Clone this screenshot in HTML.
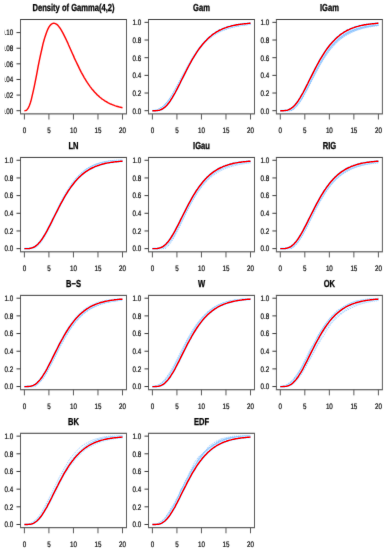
<!DOCTYPE html>
<html><head><meta charset="utf-8"><style>
html,body{margin:0;padding:0;background:#fff;}
body{width:388px;height:550px;overflow:hidden;}
svg{display:block;}
text{font-family:"Liberation Sans",sans-serif;fill:#000;stroke:#000;stroke-width:0.22px;text-rendering:geometricPrecision;}
text[font-weight]{fill:#000;stroke:#000;stroke-width:0.3px;}
</style></head><body>
<svg width="388" height="550" viewBox="0 0 388 550">
<defs><filter id="bl" x="0" y="0" width="388" height="550" filterUnits="userSpaceOnUse"><feConvolveMatrix order="3" kernelMatrix="0.02 0.08 0.02 0.08 0.6 0.08 0.02 0.08 0.02" edgeMode="none"/></filter><filter id="bt" x="0" y="0" width="388" height="550" filterUnits="userSpaceOnUse"><feConvolveMatrix order="3" kernelMatrix="0.01 0.06 0.01 0.06 0.72 0.06 0.01 0.06 0.01" edgeMode="none"/></filter></defs>
<rect width="388" height="550" fill="#fff"/>
<g filter="url(#bt)">
<path d="M24.4,110.7 25.4,110.6 26.4,110.3 27.3,109.4 28.3,107.9 29.3,105.8 30.3,103.0 31.3,99.6 32.2,95.7 33.2,91.4 34.2,86.8 35.2,81.9 36.2,76.8 37.2,71.7 38.1,66.7 39.1,61.7 40.1,56.9 41.1,52.3 42.1,48.0 43.0,43.9 44.0,40.2 45.0,36.9 46.0,33.9 47.0,31.3 47.9,29.1 48.9,27.2 49.9,25.7 50.9,24.6 51.9,23.8 52.8,23.4 53.8,23.2 54.8,23.4 55.8,23.8 56.8,24.4 57.8,25.3 58.7,26.4 59.7,27.7 60.7,29.2 61.7,30.8 62.7,32.6 63.6,34.4 64.6,36.4 65.6,38.4 66.6,40.5 67.6,42.6 68.5,44.8 69.5,47.0 70.5,49.2 71.5,51.5 72.5,53.7 73.5,55.9 74.4,58.1 75.4,60.2 76.4,62.3 77.4,64.4 78.4,66.4 79.3,68.4 80.3,70.4 81.3,72.3 82.3,74.1 83.3,75.9 84.2,77.6 85.2,79.2 86.2,80.8 87.2,82.4 88.2,83.8 89.1,85.2 90.1,86.6 91.1,87.9 92.1,89.2 93.1,90.3 94.1,91.5 95.0,92.6 96.0,93.6 97.0,94.6 98.0,95.5 99.0,96.4 99.9,97.2 100.9,98.0 101.9,98.8 102.9,99.5 103.9,100.2 104.8,100.8 105.8,101.5 106.8,102.0 107.8,102.6 108.8,103.1 109.7,103.6 110.7,104.0 111.7,104.4 112.7,104.8 113.7,105.2 114.7,105.6 115.6,105.9 116.6,106.2 117.6,106.5 118.6,106.8 119.6,107.1 120.5,107.3 121.5,107.5 122.5,107.7" fill="none" stroke="#ff0000" stroke-width="1.45"/>
<path d="M152.4,110.7 153.4,110.7 154.4,110.5 155.3,110.4 156.3,110.1 157.3,109.8 158.3,109.5 159.3,109.0 160.2,108.5 161.2,107.9 162.2,107.3 163.2,106.5 164.2,105.6 165.2,104.7 166.1,103.6 167.1,102.5 168.1,101.2 169.1,99.9 170.1,98.5 171.0,97.0 172.0,95.4 173.0,93.8 174.0,92.1 175.0,90.4 175.9,88.6 176.9,86.8 177.9,85.0 178.9,83.1 179.9,81.2 180.8,79.3 181.8,77.5 182.8,75.6 183.8,73.7 184.8,71.9 185.8,70.0 186.7,68.2 187.7,66.4 188.7,64.7 189.7,63.0 190.7,61.3 191.6,59.6 192.6,58.0 193.6,56.5 194.6,55.0 195.6,53.5 196.5,52.1 197.5,50.7 198.5,49.4 199.5,48.1 200.5,46.9 201.5,45.7 202.4,44.6 203.4,43.5 204.4,42.4 205.4,41.4 206.4,40.5 207.3,39.6 208.3,38.7 209.3,37.8 210.3,37.0 211.3,36.3 212.2,35.6 213.2,34.9 214.2,34.2 215.2,33.6 216.2,33.0 217.1,32.5 218.1,31.9 219.1,31.4 220.1,30.9 221.1,30.5 222.1,30.1 223.0,29.7 224.0,29.3 225.0,28.9 226.0,28.6 227.0,28.2 227.9,27.9 228.9,27.6 229.9,27.4 230.9,27.1 231.9,26.9 232.8,26.6 233.8,26.4 234.8,26.2 235.8,26.0 236.8,25.8 237.7,25.7 238.7,25.5 239.7,25.3 240.7,25.2 241.7,25.1 242.7,24.9 243.6,24.8 244.6,24.7 245.6,24.6 246.6,24.5 247.6,24.4 248.5,24.3 249.5,24.2 250.5,24.1" fill="none" stroke="#88c2ff" stroke-width="0.9" stroke-dasharray="1.2,0.9"/>
<path d="M152.4,110.7 153.4,110.7 154.4,110.5 155.3,110.4 156.3,110.1 157.3,109.8 158.3,109.5 159.3,109.1 160.2,108.6 161.2,108.0 162.2,107.3 163.2,106.5 164.2,105.7 165.2,104.7 166.1,103.6 167.1,102.5 168.1,101.3 169.1,99.9 170.1,98.5 171.0,97.0 172.0,95.5 173.0,93.9 174.0,92.2 175.0,90.4 175.9,88.7 176.9,86.8 177.9,85.0 178.9,83.1 179.9,81.3 180.8,79.4 181.8,77.5 182.8,75.6 183.8,73.7 184.8,71.9 185.8,70.0 186.7,68.2 187.7,66.4 188.7,64.7 189.7,62.9 190.7,61.3 191.6,59.6 192.6,58.0 193.6,56.4 194.6,54.9 195.6,53.5 196.5,52.0 197.5,50.7 198.5,49.3 199.5,48.0 200.5,46.8 201.5,45.6 202.4,44.5 203.4,43.4 204.4,42.3 205.4,41.3 206.4,40.4 207.3,39.4 208.3,38.6 209.3,37.7 210.3,36.9 211.3,36.2 212.2,35.4 213.2,34.8 214.2,34.1 215.2,33.5 216.2,32.9 217.1,32.3 218.1,31.8 219.1,31.3 220.1,30.8 221.1,30.4 222.1,29.9 223.0,29.5 224.0,29.1 225.0,28.8 226.0,28.4 227.0,28.1 227.9,27.8 228.9,27.5 229.9,27.2 230.9,27.0 231.9,26.7 232.8,26.5 233.8,26.3 234.8,26.1 235.8,25.9 236.8,25.7 237.7,25.5 238.7,25.4 239.7,25.2 240.7,25.1 241.7,24.9 242.7,24.8 243.6,24.7 244.6,24.6 245.6,24.5 246.6,24.4 247.6,24.3 248.5,24.2 249.5,24.1 250.5,24.0" fill="none" stroke="#88c2ff" stroke-width="0.9" stroke-dasharray="1.2,0.9"/>
<path d="M152.4,110.7 153.4,110.7 154.4,110.6 155.3,110.4 156.3,110.2 157.3,110.0 158.3,109.6 159.3,109.2 160.2,108.8 161.2,108.2 162.2,107.6 163.2,106.9 164.2,106.1 165.2,105.1 166.1,104.1 167.1,103.0 168.1,101.8 169.1,100.5 170.1,99.1 171.0,97.7 172.0,96.1 173.0,94.5 174.0,92.9 175.0,91.1 175.9,89.4 176.9,87.6 177.9,85.7 178.9,83.9 179.9,82.0 180.8,80.1 181.8,78.2 182.8,76.4 183.8,74.5 184.8,72.6 185.8,70.8 186.7,68.9 187.7,67.2 188.7,65.4 189.7,63.7 190.7,62.0 191.6,60.3 192.6,58.7 193.6,57.1 194.6,55.6 195.6,54.1 196.5,52.7 197.5,51.3 198.5,49.9 199.5,48.6 200.5,47.4 201.5,46.2 202.4,45.0 203.4,43.9 204.4,42.9 205.4,41.8 206.4,40.9 207.3,39.9 208.3,39.0 209.3,38.2 210.3,37.4 211.3,36.6 212.2,35.8 213.2,35.1 214.2,34.5 215.2,33.8 216.2,33.2 217.1,32.7 218.1,32.1 219.1,31.6 220.1,31.1 221.1,30.6 222.1,30.2 223.0,29.8 224.0,29.4 225.0,29.0 226.0,28.7 227.0,28.3 227.9,28.0 228.9,27.7 229.9,27.4 230.9,27.2 231.9,26.9 232.8,26.7 233.8,26.4 234.8,26.2 235.8,26.0 236.8,25.8 237.7,25.7 238.7,25.5 239.7,25.3 240.7,25.2 241.7,25.0 242.7,24.9 243.6,24.8 244.6,24.7 245.6,24.5 246.6,24.4 247.6,24.3 248.5,24.2 249.5,24.2 250.5,24.1" fill="none" stroke="#88c2ff" stroke-width="0.9" stroke-dasharray="1.2,0.9"/>
<path d="M152.4,110.7 153.4,110.7 154.4,110.5 155.3,110.3 156.3,110.1 157.3,109.8 158.3,109.4 159.3,109.0 160.2,108.5 161.2,107.8 162.2,107.2 163.2,106.4 164.2,105.5 165.2,104.5 166.1,103.4 167.1,102.3 168.1,101.0 169.1,99.7 170.1,98.3 171.0,96.8 172.0,95.2 173.0,93.6 174.0,91.9 175.0,90.1 175.9,88.3 176.9,86.5 177.9,84.6 178.9,82.8 179.9,80.9 180.8,79.0 181.8,77.1 182.8,75.2 183.8,73.3 184.8,71.4 185.8,69.6 186.7,67.8 187.7,66.0 188.7,64.2 189.7,62.5 190.7,60.8 191.6,59.1 192.6,57.5 193.6,56.0 194.6,54.4 195.6,53.0 196.5,51.5 197.5,50.1 198.5,48.8 199.5,47.5 200.5,46.3 201.5,45.1 202.4,44.0 203.4,42.9 204.4,41.8 205.4,40.8 206.4,39.8 207.3,38.9 208.3,38.0 209.3,37.2 210.3,36.4 211.3,35.6 212.2,34.9 213.2,34.2 214.2,33.6 215.2,32.9 216.2,32.4 217.1,31.8 218.1,31.3 219.1,30.8 220.1,30.3 221.1,29.8 222.1,29.4 223.0,29.0 224.0,28.6 225.0,28.3 226.0,27.9 227.0,27.6 227.9,27.3 228.9,27.0 229.9,26.8 230.9,26.5 231.9,26.3 232.8,26.1 233.8,25.9 234.8,25.7 235.8,25.5 236.8,25.3 237.7,25.1 238.7,25.0 239.7,24.8 240.7,24.7 241.7,24.6 242.7,24.4 243.6,24.3 244.6,24.2 245.6,24.1 246.6,24.0 247.6,23.9 248.5,23.9 249.5,23.8 250.5,23.7" fill="none" stroke="#88c2ff" stroke-width="0.9" stroke-dasharray="1.2,0.9"/>
<path d="M152.4,110.7 153.4,110.7 154.4,110.6 155.3,110.4 156.3,110.2 157.3,109.9 158.3,109.6 159.3,109.1 160.2,108.7 161.2,108.1 162.2,107.5 163.2,106.7 164.2,105.9 165.2,105.0 166.1,104.0 167.1,102.9 168.1,101.7 169.1,100.4 170.1,99.0 171.0,97.6 172.0,96.1 173.0,94.5 174.0,92.8 175.0,91.1 175.9,89.4 176.9,87.6 177.9,85.8 178.9,84.0 179.9,82.1 180.8,80.3 181.8,78.4 182.8,76.6 183.8,74.7 184.8,72.9 185.8,71.0 186.7,69.2 187.7,67.5 188.7,65.7 189.7,64.0 190.7,62.3 191.6,60.7 192.6,59.1 193.6,57.5 194.6,56.0 195.6,54.6 196.5,53.1 197.5,51.7 198.5,50.4 199.5,49.1 200.5,47.9 201.5,46.7 202.4,45.5 203.4,44.4 204.4,43.4 205.4,42.4 206.4,41.4 207.3,40.5 208.3,39.6 209.3,38.7 210.3,37.9 211.3,37.1 212.2,36.4 213.2,35.7 214.2,35.0 215.2,34.4 216.2,33.7 217.1,33.2 218.1,32.6 219.1,32.1 220.1,31.6 221.1,31.1 222.1,30.7 223.0,30.3 224.0,29.9 225.0,29.5 226.0,29.1 227.0,28.8 227.9,28.5 228.9,28.2 229.9,27.9 230.9,27.6 231.9,27.3 232.8,27.1 233.8,26.9 234.8,26.6 235.8,26.4 236.8,26.2 237.7,26.0 238.7,25.9 239.7,25.7 240.7,25.5 241.7,25.4 242.7,25.2 243.6,25.1 244.6,25.0 245.6,24.9 246.6,24.8 247.6,24.6 248.5,24.5 249.5,24.4 250.5,24.4" fill="none" stroke="#88c2ff" stroke-width="0.9" stroke-dasharray="1.2,0.9"/>
<path d="M152.4,110.7 153.4,110.6 154.4,110.5 155.3,110.3 156.3,110.0 157.3,109.6 158.3,109.2 159.3,108.7 160.2,108.2 161.2,107.6 162.2,106.9 163.2,106.1 164.2,105.2 165.2,104.3 166.1,103.3 167.1,102.1 168.1,100.9 169.1,99.7 170.1,98.3 171.0,96.9 172.0,95.4 173.0,93.8 174.0,92.2 175.0,90.6 175.9,88.9 176.9,87.1 177.9,85.4 178.9,83.6 179.9,81.8 180.8,79.9 181.8,78.1 182.8,76.3 183.8,74.5 184.8,72.7 185.8,70.9 186.7,69.1 187.7,67.4 188.7,65.7 189.7,64.0 190.7,62.3 191.6,60.7 192.6,59.2 193.6,57.6 194.6,56.1 195.6,54.7 196.5,53.3 197.5,51.9 198.5,50.6 199.5,49.3 200.5,48.1 201.5,46.9 202.4,45.8 203.4,44.7 204.4,43.6 205.4,42.6 206.4,41.6 207.3,40.7 208.3,39.8 209.3,38.9 210.3,38.1 211.3,37.4 212.2,36.6 213.2,35.9 214.2,35.2 215.2,34.6 216.2,34.0 217.1,33.4 218.1,32.8 219.1,32.3 220.1,31.8 221.1,31.3 222.1,30.9 223.0,30.5 224.0,30.0 225.0,29.7 226.0,29.3 227.0,28.9 227.9,28.6 228.9,28.3 229.9,28.0 230.9,27.7 231.9,27.5 232.8,27.2 233.8,27.0 234.8,26.8 235.8,26.5 236.8,26.3 237.7,26.1 238.7,26.0 239.7,25.8 240.7,25.6 241.7,25.5 242.7,25.3 243.6,25.2 244.6,25.1 245.6,24.9 246.6,24.8 247.6,24.7 248.5,24.6 249.5,24.5 250.5,24.4" fill="none" stroke="#88c2ff" stroke-width="0.9" stroke-dasharray="1.2,0.9"/>
<path d="M152.4,110.7 153.4,110.6 154.4,110.5 155.3,110.3 156.3,110.0 157.3,109.7 158.3,109.2 159.3,108.8 160.2,108.2 161.2,107.5 162.2,106.8 163.2,106.0 164.2,105.1 165.2,104.1 166.1,103.0 167.1,101.8 168.1,100.5 169.1,99.1 170.1,97.7 171.0,96.2 172.0,94.6 173.0,93.0 174.0,91.2 175.0,89.5 175.9,87.7 176.9,85.9 177.9,84.0 178.9,82.1 179.9,80.3 180.8,78.4 181.8,76.5 182.8,74.6 183.8,72.7 184.8,70.8 185.8,69.0 186.7,67.2 187.7,65.4 188.7,63.6 189.7,61.9 190.7,60.2 191.6,58.6 192.6,57.0 193.6,55.4 194.6,53.9 195.6,52.4 196.5,51.0 197.5,49.7 198.5,48.3 199.5,47.1 200.5,45.8 201.5,44.6 202.4,43.5 203.4,42.4 204.4,41.4 205.4,40.4 206.4,39.4 207.3,38.5 208.3,37.6 209.3,36.8 210.3,36.0 211.3,35.3 212.2,34.6 213.2,33.9 214.2,33.2 215.2,32.6 216.2,32.0 217.1,31.5 218.1,31.0 219.1,30.5 220.1,30.0 221.1,29.6 222.1,29.2 223.0,28.8 224.0,28.4 225.0,28.0 226.0,27.7 227.0,27.4 227.9,27.1 228.9,26.8 229.9,26.6 230.9,26.3 231.9,26.1 232.8,25.9 233.8,25.7 234.8,25.5 235.8,25.3 236.8,25.1 237.7,25.0 238.7,24.8 239.7,24.7 240.7,24.5 241.7,24.4 242.7,24.3 243.6,24.2 244.6,24.1 245.6,24.0 246.6,23.9 247.6,23.8 248.5,23.7 249.5,23.7 250.5,23.6" fill="none" stroke="#88c2ff" stroke-width="0.9" stroke-dasharray="1.2,0.9"/>
<path d="M152.4,110.7 153.4,110.7 154.4,110.5 155.3,110.3 156.3,110.1 157.3,109.7 158.3,109.4 159.3,108.9 160.2,108.4 161.2,107.8 162.2,107.1 163.2,106.4 164.2,105.5 165.2,104.6 166.1,103.5 167.1,102.4 168.1,101.2 169.1,99.9 170.1,98.5 171.0,97.1 172.0,95.6 173.0,94.0 174.0,92.4 175.0,90.7 175.9,88.9 176.9,87.2 177.9,85.4 178.9,83.5 179.9,81.7 180.8,79.9 181.8,78.0 182.8,76.2 183.8,74.3 184.8,72.5 185.8,70.7 186.7,68.9 187.7,67.2 188.7,65.4 189.7,63.7 190.7,62.1 191.6,60.4 192.6,58.8 193.6,57.3 194.6,55.8 195.6,54.3 196.5,52.9 197.5,51.6 198.5,50.2 199.5,49.0 200.5,47.7 201.5,46.5 202.4,45.4 203.4,44.3 204.4,43.3 205.4,42.2 206.4,41.3 207.3,40.4 208.3,39.5 209.3,38.6 210.3,37.8 211.3,37.0 212.2,36.3 213.2,35.6 214.2,34.9 215.2,34.3 216.2,33.7 217.1,33.1 218.1,32.6 219.1,32.1 220.1,31.6 221.1,31.1 222.1,30.7 223.0,30.2 224.0,29.8 225.0,29.5 226.0,29.1 227.0,28.8 227.9,28.4 228.9,28.1 229.9,27.8 230.9,27.6 231.9,27.3 232.8,27.1 233.8,26.8 234.8,26.6 235.8,26.4 236.8,26.2 237.7,26.0 238.7,25.9 239.7,25.7 240.7,25.5 241.7,25.4 242.7,25.2 243.6,25.1 244.6,25.0 245.6,24.9 246.6,24.7 247.6,24.6 248.5,24.5 249.5,24.4 250.5,24.3" fill="none" stroke="#88c2ff" stroke-width="0.9" stroke-dasharray="1.2,0.9"/>
<path d="M152.4,110.7 153.4,110.7 154.4,110.7 155.3,110.7 156.3,110.6 157.3,110.5 158.3,110.4 159.3,110.2 160.2,109.9 161.2,109.5 162.2,109.0 163.2,108.4 164.2,107.7 165.2,106.9 166.1,106.0 167.1,104.9 168.1,103.7 169.1,102.5 170.1,101.1 171.0,99.6 172.0,98.1 173.0,96.4 174.0,94.7 175.0,93.0 175.9,91.2 176.9,89.3 177.9,87.4 178.9,85.4 179.9,83.5 180.8,81.5 181.8,79.5 182.8,77.6 183.8,75.6 184.8,73.6 185.8,71.7 186.7,69.8 187.7,67.9 188.7,66.0 189.7,64.2 190.7,62.4 191.6,60.6 192.6,58.9 193.6,57.3 194.6,55.7 195.6,54.1 196.5,52.6 197.5,51.1 198.5,49.7 199.5,48.3 200.5,47.0 201.5,45.8 202.4,44.5 203.4,43.4 204.4,42.3 205.4,41.2 206.4,40.2 207.3,39.2 208.3,38.3 209.3,37.4 210.3,36.5 211.3,35.7 212.2,34.9 213.2,34.2 214.2,33.5 215.2,32.9 216.2,32.2 217.1,31.6 218.1,31.1 219.1,30.5 220.1,30.0 221.1,29.6 222.1,29.1 223.0,28.7 224.0,28.3 225.0,27.9 226.0,27.6 227.0,27.2 227.9,26.9 228.9,26.6 229.9,26.4 230.9,26.1 231.9,25.8 232.8,25.6 233.8,25.4 234.8,25.2 235.8,25.0 236.8,24.8 237.7,24.7 238.7,24.5 239.7,24.4 240.7,24.2 241.7,24.1 242.7,24.0 243.6,23.9 244.6,23.8 245.6,23.7 246.6,23.6 247.6,23.5 248.5,23.4 249.5,23.3 250.5,23.3" fill="none" stroke="#c4e2ff" stroke-width="2.6"/>
<path d="M280.3,110.7 281.3,110.7 282.3,110.7 283.2,110.7 284.2,110.7 285.2,110.7 286.2,110.7 287.2,110.7 288.1,110.7 289.1,110.7 290.1,110.7 291.1,110.7 292.1,110.3 293.1,109.8 294.0,109.1 295.0,108.2 296.0,107.3 297.0,106.2 298.0,105.0 298.9,103.7 299.9,102.4 300.9,100.9 301.9,99.3 302.9,97.7 303.8,96.0 304.8,94.2 305.8,92.4 306.8,90.6 307.8,88.7 308.7,86.8 309.7,84.9 310.7,82.9 311.7,81.0 312.7,79.1 313.7,77.2 314.6,75.3 315.6,73.4 316.6,71.5 317.6,69.7 318.6,67.9 319.5,66.1 320.5,64.4 321.5,62.7 322.5,61.1 323.5,59.5 324.4,58.0 325.4,56.5 326.4,55.0 327.4,53.6 328.4,52.2 329.3,50.9 330.3,49.7 331.3,48.4 332.3,47.3 333.3,46.1 334.3,45.0 335.2,44.0 336.2,43.0 337.2,42.0 338.2,41.1 339.2,40.3 340.1,39.4 341.1,38.6 342.1,37.8 343.1,37.1 344.1,36.4 345.0,35.7 346.0,35.1 347.0,34.5 348.0,33.9 349.0,33.4 350.0,32.9 350.9,32.4 351.9,31.9 352.9,31.4 353.9,31.0 354.9,30.6 355.8,30.2 356.8,29.9 357.8,29.5 358.8,29.2 359.8,28.9 360.7,28.6 361.7,28.3 362.7,28.0 363.7,27.7 364.7,27.5 365.6,27.3 366.6,27.0 367.6,26.8 368.6,26.6 369.6,26.4 370.6,26.3 371.5,26.1 372.5,25.9 373.5,25.8 374.5,25.6 375.5,25.5 376.4,25.3 377.4,25.2 378.4,25.1" fill="none" stroke="#88c2ff" stroke-width="0.9" stroke-dasharray="1.2,0.9"/>
<path d="M280.3,110.7 281.3,110.7 282.3,110.7 283.2,110.7 284.2,110.7 285.2,110.7 286.2,110.7 287.2,110.7 288.1,110.7 289.1,110.5 290.1,110.1 291.1,109.6 292.1,109.0 293.1,108.3 294.0,107.4 295.0,106.5 296.0,105.4 297.0,104.2 298.0,102.8 298.9,101.4 299.9,99.9 300.9,98.3 301.9,96.6 302.9,94.9 303.8,93.1 304.8,91.2 305.8,89.3 306.8,87.4 307.8,85.5 308.7,83.5 309.7,81.5 310.7,79.6 311.7,77.6 312.7,75.6 313.7,73.7 314.6,71.8 315.6,69.9 316.6,68.0 317.6,66.2 318.6,64.4 319.5,62.7 320.5,61.0 321.5,59.4 322.5,57.7 323.5,56.2 324.4,54.7 325.4,53.2 326.4,51.8 327.4,50.4 328.4,49.1 329.3,47.9 330.3,46.7 331.3,45.5 332.3,44.4 333.3,43.3 334.3,42.3 335.2,41.3 336.2,40.4 337.2,39.5 338.2,38.6 339.2,37.8 340.1,37.0 341.1,36.3 342.1,35.6 343.1,34.9 344.1,34.3 345.0,33.7 346.0,33.1 347.0,32.6 348.0,32.0 349.0,31.5 350.0,31.1 350.9,30.6 351.9,30.2 352.9,29.8 353.9,29.5 354.9,29.1 355.8,28.8 356.8,28.4 357.8,28.1 358.8,27.9 359.8,27.6 360.7,27.3 361.7,27.1 362.7,26.9 363.7,26.7 364.7,26.5 365.6,26.3 366.6,26.1 367.6,25.9 368.6,25.7 369.6,25.6 370.6,25.4 371.5,25.3 372.5,25.2 373.5,25.0 374.5,24.9 375.5,24.8 376.4,24.7 377.4,24.6 378.4,24.5" fill="none" stroke="#88c2ff" stroke-width="0.9" stroke-dasharray="1.2,0.9"/>
<path d="M280.3,110.7 281.3,110.7 282.3,110.7 283.2,110.7 284.2,110.7 285.2,110.7 286.2,110.7 287.2,110.7 288.1,110.7 289.1,110.7 290.1,110.7 291.1,110.6 292.1,110.1 293.1,109.4 294.0,108.7 295.0,107.8 296.0,106.8 297.0,105.7 298.0,104.4 298.9,103.1 299.9,101.6 300.9,100.1 301.9,98.5 302.9,96.8 303.8,95.0 304.8,93.2 305.8,91.3 306.8,89.4 307.8,87.5 308.7,85.6 309.7,83.6 310.7,81.6 311.7,79.7 312.7,77.7 313.7,75.8 314.6,73.9 315.6,72.0 316.6,70.1 317.6,68.3 318.6,66.4 319.5,64.7 320.5,63.0 321.5,61.3 322.5,59.6 323.5,58.0 324.4,56.5 325.4,55.0 326.4,53.6 327.4,52.2 328.4,50.8 329.3,49.5 330.3,48.2 331.3,47.0 332.3,45.9 333.3,44.8 334.3,43.7 335.2,42.7 336.2,41.7 337.2,40.8 338.2,39.9 339.2,39.0 340.1,38.2 341.1,37.4 342.1,36.7 343.1,36.0 344.1,35.3 345.0,34.7 346.0,34.1 347.0,33.5 348.0,32.9 349.0,32.4 350.0,31.9 350.9,31.4 351.9,31.0 352.9,30.6 353.9,30.2 354.9,29.8 355.8,29.4 356.8,29.1 357.8,28.7 358.8,28.4 359.8,28.1 360.7,27.9 361.7,27.6 362.7,27.3 363.7,27.1 364.7,26.9 365.6,26.7 366.6,26.5 367.6,26.3 368.6,26.1 369.6,25.9 370.6,25.8 371.5,25.6 372.5,25.5 373.5,25.3 374.5,25.2 375.5,25.1 376.4,24.9 377.4,24.8 378.4,24.7" fill="none" stroke="#88c2ff" stroke-width="0.9" stroke-dasharray="1.2,0.9"/>
<path d="M280.3,110.7 281.3,110.7 282.3,110.7 283.2,110.7 284.2,110.7 285.2,110.7 286.2,110.7 287.2,110.7 288.1,110.7 289.1,110.7 290.1,110.7 291.1,110.4 292.1,109.8 293.1,109.2 294.0,108.4 295.0,107.5 296.0,106.4 297.0,105.3 298.0,104.0 298.9,102.6 299.9,101.2 300.9,99.6 301.9,97.9 302.9,96.2 303.8,94.4 304.8,92.6 305.8,90.7 306.8,88.8 307.8,86.9 308.7,84.9 309.7,82.9 310.7,81.0 311.7,79.0 312.7,77.0 313.7,75.1 314.6,73.2 315.6,71.3 316.6,69.4 317.6,67.6 318.6,65.8 319.5,64.0 320.5,62.3 321.5,60.6 322.5,59.0 323.5,57.4 324.4,55.9 325.4,54.4 326.4,52.9 327.4,51.6 328.4,50.2 329.3,48.9 330.3,47.7 331.3,46.5 332.3,45.3 333.3,44.2 334.3,43.2 335.2,42.2 336.2,41.2 337.2,40.3 338.2,39.4 339.2,38.6 340.1,37.8 341.1,37.0 342.1,36.3 343.1,35.6 344.1,34.9 345.0,34.3 346.0,33.7 347.0,33.2 348.0,32.6 349.0,32.1 350.0,31.6 350.9,31.2 351.9,30.7 352.9,30.3 353.9,29.9 354.9,29.5 355.8,29.2 356.8,28.9 357.8,28.5 358.8,28.2 359.8,28.0 360.7,27.7 361.7,27.4 362.7,27.2 363.7,27.0 364.7,26.7 365.6,26.5 366.6,26.3 367.6,26.2 368.6,26.0 369.6,25.8 370.6,25.7 371.5,25.5 372.5,25.4 373.5,25.2 374.5,25.1 375.5,25.0 376.4,24.9 377.4,24.8 378.4,24.7" fill="none" stroke="#88c2ff" stroke-width="0.9" stroke-dasharray="1.2,0.9"/>
<path d="M280.3,110.7 281.3,110.7 282.3,110.7 283.2,110.7 284.2,110.7 285.2,110.7 286.2,110.7 287.2,110.7 288.1,110.7 289.1,110.6 290.1,110.2 291.1,109.8 292.1,109.2 293.1,108.5 294.0,107.6 295.0,106.7 296.0,105.6 297.0,104.4 298.0,103.1 298.9,101.7 299.9,100.2 300.9,98.6 301.9,96.9 302.9,95.2 303.8,93.4 304.8,91.6 305.8,89.7 306.8,87.7 307.8,85.8 308.7,83.8 309.7,81.9 310.7,79.9 311.7,77.9 312.7,75.9 313.7,74.0 314.6,72.1 315.6,70.2 316.6,68.3 317.6,66.5 318.6,64.7 319.5,62.9 320.5,61.2 321.5,59.6 322.5,57.9 323.5,56.4 324.4,54.8 325.4,53.4 326.4,51.9 327.4,50.6 328.4,49.2 329.3,48.0 330.3,46.7 331.3,45.5 332.3,44.4 333.3,43.3 334.3,42.3 335.2,41.3 336.2,40.3 337.2,39.4 338.2,38.6 339.2,37.7 340.1,37.0 341.1,36.2 342.1,35.5 343.1,34.8 344.1,34.2 345.0,33.6 346.0,33.0 347.0,32.4 348.0,31.9 349.0,31.4 350.0,30.9 350.9,30.5 351.9,30.1 352.9,29.7 353.9,29.3 354.9,28.9 355.8,28.6 356.8,28.3 357.8,28.0 358.8,27.7 359.8,27.4 360.7,27.1 361.7,26.9 362.7,26.7 363.7,26.5 364.7,26.2 365.6,26.1 366.6,25.9 367.6,25.7 368.6,25.5 369.6,25.4 370.6,25.2 371.5,25.1 372.5,25.0 373.5,24.8 374.5,24.7 375.5,24.6 376.4,24.5 377.4,24.4 378.4,24.3" fill="none" stroke="#88c2ff" stroke-width="0.9" stroke-dasharray="1.2,0.9"/>
<path d="M280.3,110.7 281.3,110.7 282.3,110.7 283.2,110.7 284.2,110.7 285.2,110.7 286.2,110.7 287.2,110.7 288.1,110.7 289.1,110.4 290.1,110.0 291.1,109.5 292.1,108.9 293.1,108.2 294.0,107.4 295.0,106.4 296.0,105.3 297.0,104.1 298.0,102.8 298.9,101.4 299.9,100.0 300.9,98.4 301.9,96.7 302.9,95.0 303.8,93.3 304.8,91.4 305.8,89.6 306.8,87.7 307.8,85.8 308.7,83.9 309.7,81.9 310.7,80.0 311.7,78.1 312.7,76.2 313.7,74.3 314.6,72.4 315.6,70.5 316.6,68.7 317.6,66.9 318.6,65.2 319.5,63.5 320.5,61.8 321.5,60.2 322.5,58.6 323.5,57.0 324.4,55.6 325.4,54.1 326.4,52.7 327.4,51.4 328.4,50.1 329.3,48.8 330.3,47.7 331.3,46.5 332.3,45.4 333.3,44.3 334.3,43.3 335.2,42.3 336.2,41.4 337.2,40.5 338.2,39.7 339.2,38.9 340.1,38.1 341.1,37.4 342.1,36.6 343.1,36.0 344.1,35.3 345.0,34.7 346.0,34.2 347.0,33.6 348.0,33.1 349.0,32.6 350.0,32.1 350.9,31.7 351.9,31.2 352.9,30.8 353.9,30.5 354.9,30.1 355.8,29.7 356.8,29.4 357.8,29.1 358.8,28.8 359.8,28.5 360.7,28.3 361.7,28.0 362.7,27.8 363.7,27.5 364.7,27.3 365.6,27.1 366.6,26.9 367.6,26.7 368.6,26.5 369.6,26.4 370.6,26.2 371.5,26.0 372.5,25.9 373.5,25.8 374.5,25.6 375.5,25.5 376.4,25.4 377.4,25.3 378.4,25.1" fill="none" stroke="#88c2ff" stroke-width="0.9" stroke-dasharray="1.2,0.9"/>
<path d="M280.3,110.7 281.3,110.7 282.3,110.7 283.2,110.7 284.2,110.7 285.2,110.7 286.2,110.7 287.2,110.7 288.1,110.5 289.1,110.2 290.1,109.8 291.1,109.3 292.1,108.7 293.1,108.0 294.0,107.1 295.0,106.1 296.0,105.1 297.0,103.9 298.0,102.6 298.9,101.2 299.9,99.7 300.9,98.2 301.9,96.5 302.9,94.8 303.8,93.1 304.8,91.3 305.8,89.4 306.8,87.5 307.8,85.6 308.7,83.7 309.7,81.8 310.7,79.9 311.7,78.0 312.7,76.0 313.7,74.1 314.6,72.3 315.6,70.4 316.6,68.6 317.6,66.8 318.6,65.1 319.5,63.3 320.5,61.7 321.5,60.0 322.5,58.5 323.5,56.9 324.4,55.4 325.4,54.0 326.4,52.6 327.4,51.2 328.4,49.9 329.3,48.7 330.3,47.5 331.3,46.3 332.3,45.2 333.3,44.1 334.3,43.1 335.2,42.1 336.2,41.2 337.2,40.3 338.2,39.4 339.2,38.6 340.1,37.8 341.1,37.1 342.1,36.4 343.1,35.7 344.1,35.1 345.0,34.5 346.0,33.9 347.0,33.3 348.0,32.8 349.0,32.3 350.0,31.8 350.9,31.4 351.9,30.9 352.9,30.5 353.9,30.1 354.9,29.8 355.8,29.4 356.8,29.1 357.8,28.8 358.8,28.5 359.8,28.2 360.7,27.9 361.7,27.7 362.7,27.4 363.7,27.2 364.7,27.0 365.6,26.8 366.6,26.6 367.6,26.4 368.6,26.2 369.6,26.1 370.6,25.9 371.5,25.8 372.5,25.6 373.5,25.5 374.5,25.3 375.5,25.2 376.4,25.1 377.4,25.0 378.4,24.9" fill="none" stroke="#88c2ff" stroke-width="0.9" stroke-dasharray="1.2,0.9"/>
<path d="M280.3,110.7 281.3,110.7 282.3,110.7 283.2,110.7 284.2,110.7 285.2,110.7 286.2,110.7 287.2,110.7 288.1,110.5 289.1,110.2 290.1,109.9 291.1,109.4 292.1,108.8 293.1,108.1 294.0,107.3 295.0,106.3 296.0,105.3 297.0,104.1 298.0,102.9 298.9,101.5 299.9,100.0 300.9,98.5 301.9,96.9 302.9,95.2 303.8,93.5 304.8,91.7 305.8,89.9 306.8,88.1 307.8,86.2 308.7,84.3 309.7,82.4 310.7,80.5 311.7,78.6 312.7,76.7 313.7,74.8 314.6,73.0 315.6,71.1 316.6,69.3 317.6,67.5 318.6,65.8 319.5,64.1 320.5,62.4 321.5,60.8 322.5,59.2 323.5,57.7 324.4,56.2 325.4,54.7 326.4,53.3 327.4,52.0 328.4,50.7 329.3,49.4 330.3,48.2 331.3,47.0 332.3,45.9 333.3,44.8 334.3,43.8 335.2,42.8 336.2,41.8 337.2,40.9 338.2,40.1 339.2,39.2 340.1,38.4 341.1,37.7 342.1,37.0 343.1,36.3 344.1,35.6 345.0,35.0 346.0,34.4 347.0,33.8 348.0,33.3 349.0,32.8 350.0,32.3 350.9,31.8 351.9,31.4 352.9,31.0 353.9,30.6 354.9,30.2 355.8,29.8 356.8,29.5 357.8,29.2 358.8,28.9 359.8,28.6 360.7,28.3 361.7,28.0 362.7,27.8 363.7,27.5 364.7,27.3 365.6,27.1 366.6,26.9 367.6,26.7 368.6,26.5 369.6,26.3 370.6,26.1 371.5,26.0 372.5,25.8 373.5,25.7 374.5,25.6 375.5,25.4 376.4,25.3 377.4,25.2 378.4,25.1" fill="none" stroke="#88c2ff" stroke-width="0.9" stroke-dasharray="1.2,0.9"/>
<path d="M280.3,110.7 281.3,110.7 282.3,110.7 283.2,110.7 284.2,110.7 285.2,110.7 286.2,110.7 287.2,110.7 288.1,110.7 289.1,110.7 290.1,110.5 291.1,110.1 292.1,109.6 293.1,109.0 294.0,108.2 295.0,107.3 296.0,106.3 297.0,105.2 298.0,104.0 298.9,102.7 299.9,101.3 300.9,99.8 301.9,98.2 302.9,96.5 303.8,94.8 304.8,93.1 305.8,91.3 306.8,89.4 307.8,87.6 308.7,85.7 309.7,83.8 310.7,81.9 311.7,80.0 312.7,78.1 313.7,76.2 314.6,74.3 315.6,72.5 316.6,70.7 317.6,68.9 318.6,67.1 319.5,65.4 320.5,63.8 321.5,62.1 322.5,60.5 323.5,59.0 324.4,57.5 325.4,56.0 326.4,54.6 327.4,53.3 328.4,51.9 329.3,50.7 330.3,49.4 331.3,48.3 332.3,47.1 333.3,46.0 334.3,45.0 335.2,44.0 336.2,43.0 337.2,42.1 338.2,41.2 339.2,40.4 340.1,39.6 341.1,38.8 342.1,38.1 343.1,37.4 344.1,36.7 345.0,36.1 346.0,35.4 347.0,34.9 348.0,34.3 349.0,33.8 350.0,33.3 350.9,32.8 351.9,32.3 352.9,31.9 353.9,31.5 354.9,31.1 355.8,30.7 356.8,30.4 357.8,30.0 358.8,29.7 359.8,29.4 360.7,29.1 361.7,28.8 362.7,28.5 363.7,28.3 364.7,28.0 365.6,27.8 366.6,27.6 367.6,27.4 368.6,27.2 369.6,27.0 370.6,26.8 371.5,26.6 372.5,26.5 373.5,26.3 374.5,26.1 375.5,26.0 376.4,25.9 377.4,25.7 378.4,25.6" fill="none" stroke="#88c2ff" stroke-width="0.9" stroke-dasharray="1.2,0.9"/>
<path d="M280.3,110.7 281.3,110.7 282.3,110.7 283.2,110.7 284.2,110.6 285.2,110.5 286.2,110.4 287.2,110.2 288.1,109.9 289.1,109.5 290.1,109.0 291.1,108.4 292.1,107.7 293.1,106.9 294.0,106.0 295.0,104.9 296.0,103.7 297.0,102.5 298.0,101.1 298.9,99.6 299.9,98.1 300.9,96.4 301.9,94.7 302.9,93.0 303.8,91.2 304.8,89.3 305.8,87.4 306.8,85.4 307.8,83.5 308.7,81.5 309.7,79.5 310.7,77.6 311.7,75.6 312.7,73.6 313.7,71.7 314.6,69.8 315.6,67.9 316.6,66.0 317.6,64.2 318.6,62.4 319.5,60.6 320.5,58.9 321.5,57.3 322.5,55.7 323.5,54.1 324.4,52.6 325.4,51.1 326.4,49.7 327.4,48.3 328.4,47.0 329.3,45.8 330.3,44.5 331.3,43.4 332.3,42.3 333.3,41.2 334.3,40.2 335.2,39.2 336.2,38.3 337.2,37.4 338.2,36.5 339.2,35.7 340.1,34.9 341.1,34.2 342.1,33.5 343.1,32.9 344.1,32.2 345.0,31.6 346.0,31.1 347.0,30.5 348.0,30.0 349.0,29.6 350.0,29.1 350.9,28.7 351.9,28.3 352.9,27.9 353.9,27.6 354.9,27.2 355.8,26.9 356.8,26.6 357.8,26.4 358.8,26.1 359.8,25.8 360.7,25.6 361.7,25.4 362.7,25.2 363.7,25.0 364.7,24.8 365.6,24.7 366.6,24.5 367.6,24.4 368.6,24.2 369.6,24.1 370.6,24.0 371.5,23.9 372.5,23.8 373.5,23.7 374.5,23.6 375.5,23.5 376.4,23.4 377.4,23.3 378.4,23.3" fill="none" stroke="#c4e2ff" stroke-width="2.6"/>
<path d="M24.4,248.6 25.4,248.6 26.4,248.6 27.3,248.6 28.3,248.6 29.3,248.6 30.3,248.6 31.3,248.5 32.2,248.3 33.2,247.9 34.2,247.5 35.2,247.0 36.2,246.3 37.2,245.5 38.1,244.6 39.1,243.6 40.1,242.4 41.1,241.1 42.1,239.8 43.0,238.3 44.0,236.7 45.0,235.1 46.0,233.3 47.0,231.5 47.9,229.7 48.9,227.8 49.9,225.8 50.9,223.9 51.9,221.9 52.8,219.8 53.8,217.8 54.8,215.8 55.8,213.8 56.8,211.8 57.8,209.8 58.7,207.8 59.7,205.9 60.7,203.9 61.7,202.1 62.7,200.2 63.6,198.4 64.6,196.7 65.6,195.0 66.6,193.3 67.6,191.7 68.5,190.2 69.5,188.7 70.5,187.2 71.5,185.8 72.5,184.5 73.5,183.2 74.4,182.0 75.4,180.8 76.4,179.6 77.4,178.5 78.4,177.5 79.3,176.5 80.3,175.5 81.3,174.6 82.3,173.8 83.3,172.9 84.2,172.2 85.2,171.4 86.2,170.7 87.2,170.0 88.2,169.4 89.1,168.8 90.1,168.3 91.1,167.7 92.1,167.2 93.1,166.7 94.1,166.3 95.0,165.9 96.0,165.5 97.0,165.1 98.0,164.7 99.0,164.4 99.9,164.1 100.9,163.8 101.9,163.5 102.9,163.3 103.9,163.1 104.8,162.8 105.8,162.6 106.8,162.4 107.8,162.2 108.8,162.1 109.7,161.9 110.7,161.8 111.7,161.6 112.7,161.5 113.7,161.4 114.7,161.3 115.6,161.2 116.6,161.1 117.6,161.0 118.6,160.9 119.6,160.8 120.5,160.8 121.5,160.7 122.5,160.7" fill="none" stroke="#88c2ff" stroke-width="0.9" stroke-dasharray="1.2,0.9"/>
<path d="M24.4,248.6 25.4,248.6 26.4,248.6 27.3,248.6 28.3,248.6 29.3,248.6 30.3,248.6 31.3,248.5 32.2,248.3 33.2,247.9 34.2,247.5 35.2,246.9 36.2,246.2 37.2,245.4 38.1,244.4 39.1,243.3 40.1,242.1 41.1,240.8 42.1,239.3 43.0,237.8 44.0,236.2 45.0,234.4 46.0,232.6 47.0,230.8 47.9,228.8 48.9,226.9 49.9,224.9 50.9,222.8 51.9,220.8 52.8,218.7 53.8,216.6 54.8,214.5 55.8,212.5 56.8,210.4 57.8,208.4 58.7,206.4 59.7,204.4 60.7,202.4 61.7,200.5 62.7,198.7 63.6,196.9 64.6,195.1 65.6,193.4 66.6,191.7 67.6,190.1 68.5,188.5 69.5,187.0 70.5,185.6 71.5,184.2 72.5,182.8 73.5,181.5 74.4,180.3 75.4,179.1 76.4,178.0 77.4,176.9 78.4,175.9 79.3,174.9 80.3,173.9 81.3,173.0 82.3,172.2 83.3,171.4 84.2,170.6 85.2,169.9 86.2,169.2 87.2,168.6 88.2,168.0 89.1,167.4 90.1,166.9 91.1,166.4 92.1,165.9 93.1,165.4 94.1,165.0 95.0,164.6 96.0,164.2 97.0,163.9 98.0,163.6 99.0,163.3 99.9,163.0 100.9,162.7 101.9,162.5 102.9,162.2 103.9,162.0 104.8,161.8 105.8,161.6 106.8,161.5 107.8,161.3 108.8,161.2 109.7,161.0 110.7,160.9 111.7,160.8 112.7,160.7 113.7,160.6 114.7,160.5 115.6,160.4 116.6,160.4 117.6,160.3 118.6,160.3 119.6,160.3 120.5,160.3 121.5,160.3 122.5,160.3" fill="none" stroke="#88c2ff" stroke-width="0.9" stroke-dasharray="1.2,0.9"/>
<path d="M24.4,248.6 25.4,248.6 26.4,248.6 27.3,248.6 28.3,248.5 29.3,248.4 30.3,248.2 31.3,247.9 32.2,247.6 33.2,247.1 34.2,246.6 35.2,245.9 36.2,245.1 37.2,244.2 38.1,243.2 39.1,242.1 40.1,240.8 41.1,239.5 42.1,238.1 43.0,236.5 44.0,234.9 45.0,233.2 46.0,231.5 47.0,229.6 47.9,227.8 48.9,225.8 49.9,223.9 50.9,221.9 51.9,219.9 52.8,217.9 53.8,215.9 54.8,213.9 55.8,211.9 56.8,210.0 57.8,208.0 58.7,206.1 59.7,204.2 60.7,202.3 61.7,200.5 62.7,198.7 63.6,197.0 64.6,195.3 65.6,193.6 66.6,192.0 67.6,190.5 68.5,189.0 69.5,187.5 70.5,186.1 71.5,184.8 72.5,183.5 73.5,182.2 74.4,181.1 75.4,179.9 76.4,178.8 77.4,177.8 78.4,176.8 79.3,175.8 80.3,174.9 81.3,174.1 82.3,173.3 83.3,172.5 84.2,171.7 85.2,171.0 86.2,170.4 87.2,169.8 88.2,169.2 89.1,168.6 90.1,168.1 91.1,167.6 92.1,167.1 93.1,166.7 94.1,166.2 95.0,165.8 96.0,165.5 97.0,165.1 98.0,164.8 99.0,164.5 99.9,164.2 100.9,163.9 101.9,163.7 102.9,163.4 103.9,163.2 104.8,163.0 105.8,162.8 106.8,162.6 107.8,162.5 108.8,162.3 109.7,162.1 110.7,162.0 111.7,161.9 112.7,161.8 113.7,161.6 114.7,161.5 115.6,161.4 116.6,161.4 117.6,161.3 118.6,161.2 119.6,161.1 120.5,161.1 121.5,161.0 122.5,160.9" fill="none" stroke="#88c2ff" stroke-width="0.9" stroke-dasharray="1.2,0.9"/>
<path d="M24.4,248.6 25.4,248.6 26.4,248.6 27.3,248.6 28.3,248.6 29.3,248.6 30.3,248.4 31.3,248.2 32.2,248.0 33.2,247.6 34.2,247.1 35.2,246.5 36.2,245.8 37.2,244.9 38.1,244.0 39.1,242.9 40.1,241.7 41.1,240.4 42.1,239.0 43.0,237.5 44.0,235.9 45.0,234.2 46.0,232.4 47.0,230.6 47.9,228.8 48.9,226.8 49.9,224.9 50.9,222.9 51.9,220.9 52.8,218.9 53.8,216.8 54.8,214.8 55.8,212.8 56.8,210.8 57.8,208.8 58.7,206.9 59.7,204.9 60.7,203.0 61.7,201.2 62.7,199.3 63.6,197.6 64.6,195.8 65.6,194.1 66.6,192.5 67.6,190.9 68.5,189.4 69.5,187.9 70.5,186.5 71.5,185.1 72.5,183.7 73.5,182.5 74.4,181.2 75.4,180.1 76.4,178.9 77.4,177.9 78.4,176.8 79.3,175.9 80.3,174.9 81.3,174.0 82.3,173.2 83.3,172.4 84.2,171.6 85.2,170.9 86.2,170.2 87.2,169.6 88.2,168.9 89.1,168.4 90.1,167.8 91.1,167.3 92.1,166.8 93.1,166.3 94.1,165.9 95.0,165.5 96.0,165.1 97.0,164.8 98.0,164.4 99.0,164.1 99.9,163.8 100.9,163.5 101.9,163.3 102.9,163.0 103.9,162.8 104.8,162.6 105.8,162.4 106.8,162.2 107.8,162.0 108.8,161.9 109.7,161.7 110.7,161.6 111.7,161.5 112.7,161.3 113.7,161.2 114.7,161.1 115.6,161.0 116.6,160.9 117.6,160.9 118.6,160.8 119.6,160.7 120.5,160.7 121.5,160.6 122.5,160.5" fill="none" stroke="#88c2ff" stroke-width="0.9" stroke-dasharray="1.2,0.9"/>
<path d="M24.4,248.6 25.4,248.6 26.4,248.6 27.3,248.6 28.3,248.5 29.3,248.4 30.3,248.2 31.3,247.9 32.2,247.6 33.2,247.2 34.2,246.6 35.2,246.0 36.2,245.2 37.2,244.4 38.1,243.4 39.1,242.3 40.1,241.0 41.1,239.7 42.1,238.3 43.0,236.8 44.0,235.2 45.0,233.5 46.0,231.7 47.0,229.9 47.9,228.0 48.9,226.1 49.9,224.2 50.9,222.2 51.9,220.2 52.8,218.1 53.8,216.1 54.8,214.1 55.8,212.1 56.8,210.1 57.8,208.1 58.7,206.2 59.7,204.2 60.7,202.3 61.7,200.5 62.7,198.7 63.6,196.9 64.6,195.2 65.6,193.5 66.6,191.8 67.6,190.3 68.5,188.7 69.5,187.2 70.5,185.8 71.5,184.4 72.5,183.1 73.5,181.8 74.4,180.6 75.4,179.5 76.4,178.3 77.4,177.3 78.4,176.2 79.3,175.3 80.3,174.3 81.3,173.4 82.3,172.6 83.3,171.8 84.2,171.0 85.2,170.3 86.2,169.6 87.2,169.0 88.2,168.4 89.1,167.8 90.1,167.3 91.1,166.7 92.1,166.3 93.1,165.8 94.1,165.4 95.0,165.0 96.0,164.6 97.0,164.2 98.0,163.9 99.0,163.6 99.9,163.3 100.9,163.0 101.9,162.8 102.9,162.6 103.9,162.3 104.8,162.1 105.8,161.9 106.8,161.8 107.8,161.6 108.8,161.4 109.7,161.3 110.7,161.2 111.7,161.0 112.7,160.9 113.7,160.8 114.7,160.7 115.6,160.7 116.6,160.6 117.6,160.5 118.6,160.4 119.6,160.4 120.5,160.3 121.5,160.3 122.5,160.3" fill="none" stroke="#88c2ff" stroke-width="0.9" stroke-dasharray="1.2,0.9"/>
<path d="M24.4,248.6 25.4,248.6 26.4,248.6 27.3,248.6 28.3,248.6 29.3,248.6 30.3,248.6 31.3,248.6 32.2,248.6 33.2,248.6 34.2,248.4 35.2,247.9 36.2,247.3 37.2,246.6 38.1,245.8 39.1,244.8 40.1,243.7 41.1,242.5 42.1,241.2 43.0,239.7 44.0,238.2 45.0,236.5 46.0,234.8 47.0,233.0 47.9,231.1 48.9,229.2 49.9,227.3 50.9,225.3 51.9,223.2 52.8,221.2 53.8,219.1 54.8,217.1 55.8,215.0 56.8,212.9 57.8,210.9 58.7,208.9 59.7,206.9 60.7,205.0 61.7,203.0 62.7,201.1 63.6,199.3 64.6,197.5 65.6,195.7 66.6,194.0 67.6,192.4 68.5,190.8 69.5,189.2 70.5,187.7 71.5,186.3 72.5,184.9 73.5,183.5 74.4,182.3 75.4,181.0 76.4,179.8 77.4,178.7 78.4,177.6 79.3,176.6 80.3,175.6 81.3,174.6 82.3,173.8 83.3,172.9 84.2,172.1 85.2,171.3 86.2,170.6 87.2,169.9 88.2,169.2 89.1,168.6 90.1,168.0 91.1,167.5 92.1,166.9 93.1,166.5 94.1,166.0 95.0,165.6 96.0,165.1 97.0,164.8 98.0,164.4 99.0,164.0 99.9,163.7 100.9,163.4 101.9,163.2 102.9,162.9 103.9,162.6 104.8,162.4 105.8,162.2 106.8,162.0 107.8,161.8 108.8,161.7 109.7,161.5 110.7,161.3 111.7,161.2 112.7,161.1 113.7,161.0 114.7,160.9 115.6,160.8 116.6,160.7 117.6,160.6 118.6,160.5 119.6,160.4 120.5,160.4 121.5,160.3 122.5,160.3" fill="none" stroke="#88c2ff" stroke-width="0.9" stroke-dasharray="1.2,0.9"/>
<path d="M24.4,248.6 25.4,248.6 26.4,248.6 27.3,248.6 28.3,248.6 29.3,248.6 30.3,248.5 31.3,248.3 32.2,248.0 33.2,247.7 34.2,247.2 35.2,246.7 36.2,246.0 37.2,245.2 38.1,244.2 39.1,243.2 40.1,242.0 41.1,240.7 42.1,239.3 43.0,237.9 44.0,236.3 45.0,234.6 46.0,232.9 47.0,231.1 47.9,229.2 48.9,227.3 49.9,225.4 50.9,223.4 51.9,221.4 52.8,219.3 53.8,217.3 54.8,215.3 55.8,213.2 56.8,211.2 57.8,209.2 58.7,207.2 59.7,205.3 60.7,203.4 61.7,201.5 62.7,199.6 63.6,197.8 64.6,196.1 65.6,194.3 66.6,192.7 67.6,191.1 68.5,189.5 69.5,188.0 70.5,186.5 71.5,185.1 72.5,183.7 73.5,182.4 74.4,181.2 75.4,180.0 76.4,178.8 77.4,177.7 78.4,176.7 79.3,175.6 80.3,174.7 81.3,173.8 82.3,172.9 83.3,172.1 84.2,171.3 85.2,170.5 86.2,169.8 87.2,169.2 88.2,168.5 89.1,167.9 90.1,167.4 91.1,166.8 92.1,166.3 93.1,165.9 94.1,165.4 95.0,165.0 96.0,164.6 97.0,164.2 98.0,163.9 99.0,163.6 99.9,163.3 100.9,163.0 101.9,162.7 102.9,162.5 103.9,162.2 104.8,162.0 105.8,161.8 106.8,161.6 107.8,161.5 108.8,161.3 109.7,161.2 110.7,161.0 111.7,160.9 112.7,160.8 113.7,160.7 114.7,160.6 115.6,160.5 116.6,160.4 117.6,160.3 118.6,160.3 119.6,160.3 120.5,160.3 121.5,160.3 122.5,160.3" fill="none" stroke="#88c2ff" stroke-width="0.9" stroke-dasharray="1.2,0.9"/>
<path d="M24.4,248.6 25.4,248.6 26.4,248.6 27.3,248.6 28.3,248.6 29.3,248.6 30.3,248.5 31.3,248.4 32.2,248.1 33.2,247.7 34.2,247.3 35.2,246.7 36.2,246.0 37.2,245.1 38.1,244.2 39.1,243.1 40.1,241.9 41.1,240.5 42.1,239.1 43.0,237.6 44.0,236.0 45.0,234.2 46.0,232.5 47.0,230.6 47.9,228.7 48.9,226.7 49.9,224.8 50.9,222.7 51.9,220.7 52.8,218.6 53.8,216.5 54.8,214.5 55.8,212.4 56.8,210.4 57.8,208.3 58.7,206.3 59.7,204.4 60.7,202.4 61.7,200.5 62.7,198.7 63.6,196.9 64.6,195.1 65.6,193.4 66.6,191.7 67.6,190.1 68.5,188.5 69.5,187.0 70.5,185.5 71.5,184.1 72.5,182.8 73.5,181.5 74.4,180.3 75.4,179.1 76.4,177.9 77.4,176.8 78.4,175.8 79.3,174.8 80.3,173.9 81.3,173.0 82.3,172.1 83.3,171.3 84.2,170.5 85.2,169.8 86.2,169.1 87.2,168.5 88.2,167.8 89.1,167.3 90.1,166.7 91.1,166.2 92.1,165.7 93.1,165.3 94.1,164.8 95.0,164.4 96.0,164.1 97.0,163.7 98.0,163.4 99.0,163.1 99.9,162.8 100.9,162.5 101.9,162.3 102.9,162.0 103.9,161.8 104.8,161.6 105.8,161.4 106.8,161.3 107.8,161.1 108.8,161.0 109.7,160.8 110.7,160.7 111.7,160.6 112.7,160.5 113.7,160.4 114.7,160.3 115.6,160.3 116.6,160.3 117.6,160.3 118.6,160.3 119.6,160.3 120.5,160.3 121.5,160.3 122.5,160.3" fill="none" stroke="#88c2ff" stroke-width="0.9" stroke-dasharray="1.2,0.9"/>
<path d="M24.4,248.6 25.4,248.6 26.4,248.6 27.3,248.6 28.3,248.6 29.3,248.5 30.3,248.3 31.3,248.1 32.2,247.8 33.2,247.4 34.2,247.0 35.2,246.4 36.2,245.6 37.2,244.8 38.1,243.9 39.1,242.8 40.1,241.7 41.1,240.4 42.1,239.0 43.0,237.6 44.0,236.0 45.0,234.4 46.0,232.7 47.0,230.9 47.9,229.1 48.9,227.2 49.9,225.3 50.9,223.4 51.9,221.4 52.8,219.4 53.8,217.5 54.8,215.5 55.8,213.5 56.8,211.6 57.8,209.6 58.7,207.7 59.7,205.8 60.7,203.9 61.7,202.1 62.7,200.3 63.6,198.6 64.6,196.9 65.6,195.2 66.6,193.6 67.6,192.0 68.5,190.5 69.5,189.1 70.5,187.6 71.5,186.3 72.5,185.0 73.5,183.7 74.4,182.5 75.4,181.3 76.4,180.2 77.4,179.1 78.4,178.1 79.3,177.1 80.3,176.2 81.3,175.3 82.3,174.4 83.3,173.6 84.2,172.9 85.2,172.1 86.2,171.4 87.2,170.8 88.2,170.2 89.1,169.6 90.1,169.0 91.1,168.5 92.1,168.0 93.1,167.5 94.1,167.1 95.0,166.6 96.0,166.2 97.0,165.9 98.0,165.5 99.0,165.2 99.9,164.9 100.9,164.6 101.9,164.3 102.9,164.0 103.9,163.8 104.8,163.5 105.8,163.3 106.8,163.1 107.8,162.9 108.8,162.8 109.7,162.6 110.7,162.4 111.7,162.3 112.7,162.2 113.7,162.0 114.7,161.9 115.6,161.8 116.6,161.7 117.6,161.6 118.6,161.5 119.6,161.4 120.5,161.3 121.5,161.3 122.5,161.2" fill="none" stroke="#c4e2ff" stroke-width="2.6"/>
<path d="M152.4,248.6 153.4,248.6 154.4,248.6 155.3,248.6 156.3,248.6 157.3,248.6 158.3,248.6 159.3,248.6 160.2,248.6 161.2,248.6 162.2,248.6 163.2,248.3 164.2,247.7 165.2,247.0 166.1,246.2 167.1,245.2 168.1,244.1 169.1,242.9 170.1,241.6 171.0,240.2 172.0,238.6 173.0,237.0 174.0,235.3 175.0,233.5 175.9,231.7 176.9,229.8 177.9,227.8 178.9,225.8 179.9,223.8 180.8,221.8 181.8,219.8 182.8,217.7 183.8,215.7 184.8,213.7 185.8,211.7 186.7,209.7 187.7,207.8 188.7,205.9 189.7,204.0 190.7,202.2 191.6,200.4 192.6,198.6 193.6,196.9 194.6,195.2 195.6,193.6 196.5,192.1 197.5,190.6 198.5,189.1 199.5,187.7 200.5,186.4 201.5,185.1 202.4,183.8 203.4,182.6 204.4,181.5 205.4,180.4 206.4,179.3 207.3,178.3 208.3,177.3 209.3,176.4 210.3,175.6 211.3,174.7 212.2,173.9 213.2,173.2 214.2,172.5 215.2,171.8 216.2,171.1 217.1,170.5 218.1,170.0 219.1,169.4 220.1,168.9 221.1,168.4 222.1,167.9 223.0,167.5 224.0,167.1 225.0,166.7 226.0,166.3 227.0,166.0 227.9,165.7 228.9,165.3 229.9,165.1 230.9,164.8 231.9,164.5 232.8,164.3 233.8,164.0 234.8,163.8 235.8,163.6 236.8,163.4 237.7,163.3 238.7,163.1 239.7,162.9 240.7,162.8 241.7,162.6 242.7,162.5 243.6,162.4 244.6,162.3 245.6,162.2 246.6,162.0 247.6,162.0 248.5,161.9 249.5,161.8 250.5,161.7" fill="none" stroke="#88c2ff" stroke-width="0.9" stroke-dasharray="1.2,0.9"/>
<path d="M152.4,248.6 153.4,248.6 154.4,248.6 155.3,248.6 156.3,248.6 157.3,248.6 158.3,248.6 159.3,248.6 160.2,248.4 161.2,248.1 162.2,247.7 163.2,247.2 164.2,246.6 165.2,245.8 166.1,245.0 167.1,244.0 168.1,242.9 169.1,241.7 170.1,240.4 171.0,239.0 172.0,237.5 173.0,235.9 174.0,234.2 175.0,232.5 175.9,230.7 176.9,228.9 177.9,227.0 178.9,225.1 179.9,223.2 180.8,221.2 181.8,219.3 182.8,217.3 183.8,215.3 184.8,213.4 185.8,211.5 186.7,209.5 187.7,207.7 188.7,205.8 189.7,204.0 190.7,202.2 191.6,200.4 192.6,198.7 193.6,197.1 194.6,195.4 195.6,193.9 196.5,192.4 197.5,190.9 198.5,189.5 199.5,188.1 200.5,186.7 201.5,185.5 202.4,184.2 203.4,183.1 204.4,181.9 205.4,180.8 206.4,179.8 207.3,178.8 208.3,177.8 209.3,176.9 210.3,176.1 211.3,175.2 212.2,174.5 213.2,173.7 214.2,173.0 215.2,172.3 216.2,171.7 217.1,171.0 218.1,170.5 219.1,169.9 220.1,169.4 221.1,168.9 222.1,168.4 223.0,168.0 224.0,167.6 225.0,167.2 226.0,166.8 227.0,166.4 227.9,166.1 228.9,165.8 229.9,165.5 230.9,165.2 231.9,164.9 232.8,164.7 233.8,164.4 234.8,164.2 235.8,164.0 236.8,163.8 237.7,163.6 238.7,163.4 239.7,163.2 240.7,163.1 241.7,162.9 242.7,162.8 243.6,162.7 244.6,162.5 245.6,162.4 246.6,162.3 247.6,162.2 248.5,162.1 249.5,162.0 250.5,161.9" fill="none" stroke="#88c2ff" stroke-width="0.9" stroke-dasharray="1.2,0.9"/>
<path d="M152.4,248.6 153.4,248.6 154.4,248.6 155.3,248.6 156.3,248.6 157.3,248.6 158.3,248.5 159.3,248.3 160.2,248.1 161.2,247.7 162.2,247.3 163.2,246.7 164.2,246.1 165.2,245.3 166.1,244.4 167.1,243.4 168.1,242.3 169.1,241.1 170.1,239.7 171.0,238.3 172.0,236.8 173.0,235.2 174.0,233.5 175.0,231.8 175.9,230.0 176.9,228.1 177.9,226.3 178.9,224.4 179.9,222.4 180.8,220.5 181.8,218.5 182.8,216.5 183.8,214.6 184.8,212.6 185.8,210.7 186.7,208.8 187.7,206.9 188.7,205.0 189.7,203.2 190.7,201.4 191.6,199.6 192.6,197.9 193.6,196.3 194.6,194.7 195.6,193.1 196.5,191.6 197.5,190.1 198.5,188.6 199.5,187.3 200.5,185.9 201.5,184.7 202.4,183.4 203.4,182.2 204.4,181.1 205.4,180.0 206.4,179.0 207.3,178.0 208.3,177.0 209.3,176.1 210.3,175.3 211.3,174.4 212.2,173.6 213.2,172.9 214.2,172.2 215.2,171.5 216.2,170.9 217.1,170.3 218.1,169.7 219.1,169.1 220.1,168.6 221.1,168.1 222.1,167.7 223.0,167.2 224.0,166.8 225.0,166.4 226.0,166.0 227.0,165.7 227.9,165.4 228.9,165.0 229.9,164.8 230.9,164.5 231.9,164.2 232.8,164.0 233.8,163.7 234.8,163.5 235.8,163.3 236.8,163.1 237.7,163.0 238.7,162.8 239.7,162.6 240.7,162.5 241.7,162.3 242.7,162.2 243.6,162.1 244.6,162.0 245.6,161.9 246.6,161.8 247.6,161.7 248.5,161.6 249.5,161.5 250.5,161.4" fill="none" stroke="#88c2ff" stroke-width="0.9" stroke-dasharray="1.2,0.9"/>
<path d="M152.4,248.6 153.4,248.6 154.4,248.6 155.3,248.6 156.3,248.6 157.3,248.6 158.3,248.6 159.3,248.6 160.2,248.6 161.2,248.4 162.2,248.0 163.2,247.6 164.2,246.9 165.2,246.2 166.1,245.4 167.1,244.4 168.1,243.3 169.1,242.1 170.1,240.7 171.0,239.3 172.0,237.8 173.0,236.2 174.0,234.5 175.0,232.7 175.9,230.9 176.9,229.1 177.9,227.2 178.9,225.2 179.9,223.3 180.8,221.3 181.8,219.3 182.8,217.4 183.8,215.4 184.8,213.4 185.8,211.5 186.7,209.5 187.7,207.6 188.7,205.8 189.7,203.9 190.7,202.1 191.6,200.4 192.6,198.7 193.6,197.0 194.6,195.4 195.6,193.8 196.5,192.3 197.5,190.8 198.5,189.4 199.5,188.0 200.5,186.7 201.5,185.4 202.4,184.2 203.4,183.0 204.4,181.9 205.4,180.8 206.4,179.8 207.3,178.8 208.3,177.9 209.3,177.0 210.3,176.1 211.3,175.3 212.2,174.5 213.2,173.8 214.2,173.1 215.2,172.4 216.2,171.8 217.1,171.2 218.1,170.6 219.1,170.0 220.1,169.5 221.1,169.0 222.1,168.6 223.0,168.1 224.0,167.7 225.0,167.3 226.0,166.9 227.0,166.6 227.9,166.3 228.9,166.0 229.9,165.7 230.9,165.4 231.9,165.1 232.8,164.9 233.8,164.6 234.8,164.4 235.8,164.2 236.8,164.0 237.7,163.8 238.7,163.6 239.7,163.5 240.7,163.3 241.7,163.1 242.7,163.0 243.6,162.9 244.6,162.7 245.6,162.6 246.6,162.5 247.6,162.4 248.5,162.3 249.5,162.2 250.5,162.1" fill="none" stroke="#88c2ff" stroke-width="0.9" stroke-dasharray="1.2,0.9"/>
<path d="M152.4,248.6 153.4,248.6 154.4,248.6 155.3,248.6 156.3,248.6 157.3,248.6 158.3,248.6 159.3,248.6 160.2,248.4 161.2,248.2 162.2,247.8 163.2,247.3 164.2,246.6 165.2,245.9 166.1,245.0 167.1,244.0 168.1,242.9 169.1,241.7 170.1,240.4 171.0,238.9 172.0,237.4 173.0,235.8 174.0,234.1 175.0,232.4 175.9,230.6 176.9,228.7 177.9,226.8 178.9,224.9 179.9,222.9 180.8,220.9 181.8,218.9 182.8,216.9 183.8,214.9 184.8,213.0 185.8,211.0 186.7,209.0 187.7,207.1 188.7,205.2 189.7,203.4 190.7,201.6 191.6,199.8 192.6,198.1 193.6,196.4 194.6,194.7 195.6,193.1 196.5,191.6 197.5,190.1 198.5,188.6 199.5,187.3 200.5,185.9 201.5,184.6 202.4,183.4 203.4,182.2 204.4,181.0 205.4,179.9 206.4,178.9 207.3,177.9 208.3,176.9 209.3,176.0 210.3,175.1 211.3,174.3 212.2,173.5 213.2,172.7 214.2,172.0 215.2,171.3 216.2,170.7 217.1,170.1 218.1,169.5 219.1,168.9 220.1,168.4 221.1,167.9 222.1,167.5 223.0,167.0 224.0,166.6 225.0,166.2 226.0,165.8 227.0,165.5 227.9,165.2 228.9,164.9 229.9,164.6 230.9,164.3 231.9,164.0 232.8,163.8 233.8,163.6 234.8,163.4 235.8,163.2 236.8,163.0 237.7,162.8 238.7,162.6 239.7,162.5 240.7,162.3 241.7,162.2 242.7,162.1 243.6,161.9 244.6,161.8 245.6,161.7 246.6,161.6 247.6,161.5 248.5,161.4 249.5,161.4 250.5,161.3" fill="none" stroke="#88c2ff" stroke-width="0.9" stroke-dasharray="1.2,0.9"/>
<path d="M152.4,248.6 153.4,248.6 154.4,248.6 155.3,248.6 156.3,248.6 157.3,248.6 158.3,248.6 159.3,248.6 160.2,248.6 161.2,248.3 162.2,248.0 163.2,247.5 164.2,246.9 165.2,246.2 166.1,245.4 167.1,244.5 168.1,243.5 169.1,242.3 170.1,241.1 171.0,239.7 172.0,238.3 173.0,236.7 174.0,235.1 175.0,233.5 175.9,231.7 176.9,229.9 177.9,228.1 178.9,226.3 179.9,224.4 180.8,222.5 181.8,220.6 182.8,218.7 183.8,216.7 184.8,214.8 185.8,212.9 186.7,211.1 187.7,209.2 188.7,207.4 189.7,205.6 190.7,203.9 191.6,202.1 192.6,200.5 193.6,198.8 194.6,197.2 195.6,195.7 196.5,194.2 197.5,192.7 198.5,191.3 199.5,189.9 200.5,188.6 201.5,187.4 202.4,186.1 203.4,185.0 204.4,183.8 205.4,182.7 206.4,181.7 207.3,180.7 208.3,179.8 209.3,178.8 210.3,178.0 211.3,177.1 212.2,176.3 213.2,175.6 214.2,174.8 215.2,174.2 216.2,173.5 217.1,172.9 218.1,172.3 219.1,171.7 220.1,171.1 221.1,170.6 222.1,170.1 223.0,169.7 224.0,169.2 225.0,168.8 226.0,168.4 227.0,168.0 227.9,167.7 228.9,167.3 229.9,167.0 230.9,166.7 231.9,166.4 232.8,166.1 233.8,165.9 234.8,165.6 235.8,165.4 236.8,165.1 237.7,164.9 238.7,164.7 239.7,164.5 240.7,164.3 241.7,164.2 242.7,164.0 243.6,163.8 244.6,163.7 245.6,163.5 246.6,163.4 247.6,163.3 248.5,163.1 249.5,163.0 250.5,162.9" fill="none" stroke="#88c2ff" stroke-width="0.9" stroke-dasharray="1.2,0.9"/>
<path d="M152.4,248.6 153.4,248.6 154.4,248.6 155.3,248.6 156.3,248.6 157.3,248.6 158.3,248.6 159.3,248.6 160.2,248.6 161.2,248.6 162.2,248.6 163.2,248.2 164.2,247.7 165.2,247.0 166.1,246.2 167.1,245.3 168.1,244.3 169.1,243.1 170.1,241.9 171.0,240.5 172.0,239.0 173.0,237.5 174.0,235.8 175.0,234.1 175.9,232.3 176.9,230.5 177.9,228.6 178.9,226.6 179.9,224.7 180.8,222.7 181.8,220.7 182.8,218.7 183.8,216.8 184.8,214.8 185.8,212.8 186.7,210.9 187.7,208.9 188.7,207.0 189.7,205.2 190.7,203.3 191.6,201.6 192.6,199.8 193.6,198.1 194.6,196.5 195.6,194.8 196.5,193.3 197.5,191.8 198.5,190.3 199.5,188.9 200.5,187.5 201.5,186.2 202.4,184.9 203.4,183.7 204.4,182.5 205.4,181.4 206.4,180.4 207.3,179.3 208.3,178.3 209.3,177.4 210.3,176.5 211.3,175.6 212.2,174.8 213.2,174.1 214.2,173.3 215.2,172.6 216.2,171.9 217.1,171.3 218.1,170.7 219.1,170.1 220.1,169.6 221.1,169.1 222.1,168.6 223.0,168.1 224.0,167.7 225.0,167.3 226.0,166.9 227.0,166.5 227.9,166.1 228.9,165.8 229.9,165.5 230.9,165.2 231.9,164.9 232.8,164.7 233.8,164.4 234.8,164.2 235.8,164.0 236.8,163.8 237.7,163.6 238.7,163.4 239.7,163.2 240.7,163.0 241.7,162.9 242.7,162.7 243.6,162.6 244.6,162.5 245.6,162.3 246.6,162.2 247.6,162.1 248.5,162.0 249.5,161.9 250.5,161.8" fill="none" stroke="#88c2ff" stroke-width="0.9" stroke-dasharray="1.2,0.9"/>
<path d="M152.4,248.6 153.4,248.6 154.4,248.6 155.3,248.6 156.3,248.6 157.3,248.6 158.3,248.6 159.3,248.6 160.2,248.6 161.2,248.6 162.2,248.6 163.2,248.6 164.2,248.6 165.2,248.6 166.1,247.9 167.1,247.0 168.1,246.0 169.1,244.9 170.1,243.6 171.0,242.3 172.0,240.8 173.0,239.2 174.0,237.5 175.0,235.8 175.9,233.9 176.9,232.1 177.9,230.1 178.9,228.1 179.9,226.1 180.8,224.1 181.8,222.1 182.8,220.0 183.8,218.0 184.8,215.9 185.8,213.9 186.7,211.9 187.7,209.9 188.7,207.9 189.7,206.0 190.7,204.1 191.6,202.3 192.6,200.5 193.6,198.7 194.6,197.0 195.6,195.4 196.5,193.8 197.5,192.2 198.5,190.7 199.5,189.3 200.5,187.9 201.5,186.5 202.4,185.2 203.4,184.0 204.4,182.8 205.4,181.6 206.4,180.5 207.3,179.5 208.3,178.5 209.3,177.5 210.3,176.6 211.3,175.8 212.2,174.9 213.2,174.1 214.2,173.4 215.2,172.7 216.2,172.0 217.1,171.3 218.1,170.7 219.1,170.1 220.1,169.6 221.1,169.1 222.1,168.6 223.0,168.1 224.0,167.7 225.0,167.3 226.0,166.9 227.0,166.5 227.9,166.1 228.9,165.8 229.9,165.5 230.9,165.2 231.9,164.9 232.8,164.6 233.8,164.4 234.8,164.2 235.8,163.9 236.8,163.7 237.7,163.5 238.7,163.4 239.7,163.2 240.7,163.0 241.7,162.9 242.7,162.7 243.6,162.6 244.6,162.5 245.6,162.3 246.6,162.2 247.6,162.1 248.5,162.0 249.5,161.9 250.5,161.8" fill="none" stroke="#88c2ff" stroke-width="0.9" stroke-dasharray="1.2,0.9"/>
<path d="M152.4,248.6 153.4,248.6 154.4,248.6 155.3,248.6 156.3,248.6 157.3,248.5 158.3,248.3 159.3,248.1 160.2,247.8 161.2,247.4 162.2,247.0 163.2,246.4 164.2,245.6 165.2,244.8 166.1,243.9 167.1,242.8 168.1,241.7 169.1,240.4 170.1,239.0 171.0,237.6 172.0,236.0 173.0,234.4 174.0,232.7 175.0,230.9 175.9,229.1 176.9,227.2 177.9,225.3 178.9,223.4 179.9,221.4 180.8,219.4 181.8,217.5 182.8,215.5 183.8,213.5 184.8,211.6 185.8,209.6 186.7,207.7 187.7,205.8 188.7,203.9 189.7,202.1 190.7,200.3 191.6,198.6 192.6,196.9 193.6,195.2 194.6,193.6 195.6,192.0 196.5,190.5 197.5,189.1 198.5,187.6 199.5,186.3 200.5,185.0 201.5,183.7 202.4,182.5 203.4,181.3 204.4,180.2 205.4,179.1 206.4,178.1 207.3,177.1 208.3,176.2 209.3,175.3 210.3,174.4 211.3,173.6 212.2,172.9 213.2,172.1 214.2,171.4 215.2,170.8 216.2,170.2 217.1,169.6 218.1,169.0 219.1,168.5 220.1,168.0 221.1,167.5 222.1,167.1 223.0,166.6 224.0,166.2 225.0,165.9 226.0,165.5 227.0,165.2 227.9,164.9 228.9,164.6 229.9,164.3 230.9,164.0 231.9,163.8 232.8,163.5 233.8,163.3 234.8,163.1 235.8,162.9 236.8,162.8 237.7,162.6 238.7,162.4 239.7,162.3 240.7,162.2 241.7,162.0 242.7,161.9 243.6,161.8 244.6,161.7 245.6,161.6 246.6,161.5 247.6,161.4 248.5,161.3 249.5,161.3 250.5,161.2" fill="none" stroke="#c4e2ff" stroke-width="2.6"/>
<path d="M280.3,248.6 281.3,248.6 282.3,248.6 283.2,248.6 284.2,248.6 285.2,248.6 286.2,248.6 287.2,248.6 288.1,248.6 289.1,248.5 290.1,248.2 291.1,247.7 292.1,247.2 293.1,246.5 294.0,245.7 295.0,244.7 296.0,243.7 297.0,242.5 298.0,241.2 298.9,239.8 299.9,238.3 300.9,236.8 301.9,235.1 302.9,233.4 303.8,231.6 304.8,229.8 305.8,228.0 306.8,226.1 307.8,224.1 308.7,222.2 309.7,220.3 310.7,218.3 311.7,216.4 312.7,214.4 313.7,212.5 314.6,210.6 315.6,208.7 316.6,206.9 317.6,205.1 318.6,203.3 319.5,201.6 320.5,199.9 321.5,198.2 322.5,196.6 323.5,195.1 324.4,193.6 325.4,192.1 326.4,190.7 327.4,189.3 328.4,188.0 329.3,186.7 330.3,185.5 331.3,184.3 332.3,183.2 333.3,182.1 334.3,181.1 335.2,180.1 336.2,179.2 337.2,178.2 338.2,177.4 339.2,176.6 340.1,175.8 341.1,175.0 342.1,174.3 343.1,173.6 344.1,173.0 345.0,172.3 346.0,171.8 347.0,171.2 348.0,170.7 349.0,170.2 350.0,169.7 350.9,169.2 351.9,168.8 352.9,168.4 353.9,168.0 354.9,167.6 355.8,167.3 356.8,166.9 357.8,166.6 358.8,166.3 359.8,166.1 360.7,165.8 361.7,165.5 362.7,165.3 363.7,165.1 364.7,164.8 365.6,164.6 366.6,164.4 367.6,164.3 368.6,164.1 369.6,163.9 370.6,163.8 371.5,163.6 372.5,163.5 373.5,163.3 374.5,163.2 375.5,163.1 376.4,163.0 377.4,162.8 378.4,162.7" fill="none" stroke="#88c2ff" stroke-width="0.9" stroke-dasharray="1.2,0.9"/>
<path d="M280.3,248.6 281.3,248.6 282.3,248.6 283.2,248.6 284.2,248.6 285.2,248.6 286.2,248.6 287.2,248.4 288.1,248.2 289.1,247.8 290.1,247.4 291.1,246.8 292.1,246.1 293.1,245.3 294.0,244.4 295.0,243.3 296.0,242.1 297.0,240.9 298.0,239.5 298.9,238.0 299.9,236.4 300.9,234.8 301.9,233.1 302.9,231.3 303.8,229.4 304.8,227.6 305.8,225.6 306.8,223.7 307.8,221.7 308.7,219.7 309.7,217.7 310.7,215.8 311.7,213.8 312.7,211.8 313.7,209.9 314.6,208.0 315.6,206.1 316.6,204.2 317.6,202.4 318.6,200.6 319.5,198.9 320.5,197.2 321.5,195.6 322.5,194.0 323.5,192.4 324.4,191.0 325.4,189.5 326.4,188.1 327.4,186.8 328.4,185.5 329.3,184.2 330.3,183.0 331.3,181.9 332.3,180.8 333.3,179.8 334.3,178.8 335.2,177.8 336.2,176.9 337.2,176.0 338.2,175.2 339.2,174.4 340.1,173.6 341.1,172.9 342.1,172.3 343.1,171.6 344.1,171.0 345.0,170.4 346.0,169.9 347.0,169.4 348.0,168.9 349.0,168.4 350.0,168.0 350.9,167.5 351.9,167.2 352.9,166.8 353.9,166.4 354.9,166.1 355.8,165.8 356.8,165.5 357.8,165.2 358.8,165.0 359.8,164.7 360.7,164.5 361.7,164.3 362.7,164.0 363.7,163.9 364.7,163.7 365.6,163.5 366.6,163.3 367.6,163.2 368.6,163.0 369.6,162.9 370.6,162.8 371.5,162.6 372.5,162.5 373.5,162.4 374.5,162.3 375.5,162.2 376.4,162.1 377.4,162.0 378.4,162.0" fill="none" stroke="#88c2ff" stroke-width="0.9" stroke-dasharray="1.2,0.9"/>
<path d="M280.3,248.6 281.3,248.6 282.3,248.6 283.2,248.6 284.2,248.6 285.2,248.6 286.2,248.6 287.2,248.5 288.1,248.2 289.1,247.9 290.1,247.5 291.1,247.0 292.1,246.3 293.1,245.6 294.0,244.7 295.0,243.7 296.0,242.6 297.0,241.4 298.0,240.1 298.9,238.6 299.9,237.1 300.9,235.5 301.9,233.9 302.9,232.1 303.8,230.3 304.8,228.5 305.8,226.6 306.8,224.7 307.8,222.8 308.7,220.8 309.7,218.8 310.7,216.9 311.7,214.9 312.7,213.0 313.7,211.0 314.6,209.1 315.6,207.2 316.6,205.3 317.6,203.5 318.6,201.7 319.5,200.0 320.5,198.3 321.5,196.6 322.5,195.0 323.5,193.4 324.4,191.9 325.4,190.4 326.4,189.0 327.4,187.6 328.4,186.2 329.3,185.0 330.3,183.7 331.3,182.5 332.3,181.4 333.3,180.3 334.3,179.3 335.2,178.3 336.2,177.3 337.2,176.4 338.2,175.5 339.2,174.7 340.1,173.9 341.1,173.2 342.1,172.5 343.1,171.8 344.1,171.1 345.0,170.5 346.0,169.9 347.0,169.4 348.0,168.9 349.0,168.4 350.0,167.9 350.9,167.5 351.9,167.0 352.9,166.7 353.9,166.3 354.9,165.9 355.8,165.6 356.8,165.3 357.8,165.0 358.8,164.7 359.8,164.4 360.7,164.2 361.7,164.0 362.7,163.7 363.7,163.5 364.7,163.3 365.6,163.2 366.6,163.0 367.6,162.8 368.6,162.7 369.6,162.5 370.6,162.4 371.5,162.3 372.5,162.2 373.5,162.0 374.5,161.9 375.5,161.8 376.4,161.7 377.4,161.7 378.4,161.6" fill="none" stroke="#88c2ff" stroke-width="0.9" stroke-dasharray="1.2,0.9"/>
<path d="M280.3,248.6 281.3,248.6 282.3,248.6 283.2,248.6 284.2,248.6 285.2,248.6 286.2,248.6 287.2,248.6 288.1,248.6 289.1,248.6 290.1,248.6 291.1,248.1 292.1,247.6 293.1,247.0 294.0,246.2 295.0,245.2 296.0,244.2 297.0,243.0 298.0,241.8 298.9,240.4 299.9,238.9 300.9,237.3 301.9,235.7 302.9,233.9 303.8,232.1 304.8,230.3 305.8,228.4 306.8,226.4 307.8,224.4 308.7,222.4 309.7,220.4 310.7,218.4 311.7,216.4 312.7,214.4 313.7,212.4 314.6,210.4 315.6,208.4 316.6,206.5 317.6,204.6 318.6,202.8 319.5,200.9 320.5,199.2 321.5,197.4 322.5,195.7 323.5,194.1 324.4,192.5 325.4,191.0 326.4,189.5 327.4,188.0 328.4,186.6 329.3,185.3 330.3,184.0 331.3,182.8 332.3,181.6 333.3,180.4 334.3,179.4 335.2,178.3 336.2,177.3 337.2,176.3 338.2,175.4 339.2,174.6 340.1,173.7 341.1,173.0 342.1,172.2 343.1,171.5 344.1,170.8 345.0,170.2 346.0,169.6 347.0,169.0 348.0,168.4 349.0,167.9 350.0,167.4 350.9,167.0 351.9,166.5 352.9,166.1 353.9,165.7 354.9,165.4 355.8,165.0 356.8,164.7 357.8,164.4 358.8,164.1 359.8,163.9 360.7,163.6 361.7,163.4 362.7,163.1 363.7,162.9 364.7,162.7 365.6,162.6 366.6,162.4 367.6,162.2 368.6,162.1 369.6,161.9 370.6,161.8 371.5,161.7 372.5,161.6 373.5,161.5 374.5,161.4 375.5,161.3 376.4,161.2 377.4,161.1 378.4,161.0" fill="none" stroke="#88c2ff" stroke-width="0.9" stroke-dasharray="1.2,0.9"/>
<path d="M280.3,248.6 281.3,248.6 282.3,248.6 283.2,248.6 284.2,248.6 285.2,248.6 286.2,248.5 287.2,248.3 288.1,248.1 289.1,247.7 290.1,247.3 291.1,246.7 292.1,246.1 293.1,245.3 294.0,244.5 295.0,243.5 296.0,242.4 297.0,241.2 298.0,239.8 298.9,238.4 299.9,236.9 300.9,235.4 301.9,233.7 302.9,232.0 303.8,230.2 304.8,228.4 305.8,226.6 306.8,224.7 307.8,222.7 308.7,220.8 309.7,218.9 310.7,216.9 311.7,215.0 312.7,213.1 313.7,211.1 314.6,209.2 315.6,207.4 316.6,205.5 317.6,203.7 318.6,201.9 319.5,200.2 320.5,198.5 321.5,196.8 322.5,195.2 323.5,193.7 324.4,192.2 325.4,190.7 326.4,189.3 327.4,187.9 328.4,186.6 329.3,185.3 330.3,184.1 331.3,182.9 332.3,181.8 333.3,180.7 334.3,179.6 335.2,178.6 336.2,177.7 337.2,176.8 338.2,175.9 339.2,175.1 340.1,174.3 341.1,173.5 342.1,172.8 343.1,172.1 344.1,171.5 345.0,170.9 346.0,170.3 347.0,169.7 348.0,169.2 349.0,168.7 350.0,168.2 350.9,167.8 351.9,167.4 352.9,167.0 353.9,166.6 354.9,166.2 355.8,165.9 356.8,165.6 357.8,165.3 358.8,165.0 359.8,164.7 360.7,164.5 361.7,164.2 362.7,164.0 363.7,163.8 364.7,163.6 365.6,163.4 366.6,163.2 367.6,163.1 368.6,162.9 369.6,162.8 370.6,162.6 371.5,162.5 372.5,162.4 373.5,162.2 374.5,162.1 375.5,162.0 376.4,161.9 377.4,161.8 378.4,161.8" fill="none" stroke="#88c2ff" stroke-width="0.9" stroke-dasharray="1.2,0.9"/>
<path d="M280.3,248.6 281.3,248.6 282.3,248.6 283.2,248.6 284.2,248.6 285.2,248.6 286.2,248.6 287.2,248.6 288.1,248.6 289.1,248.6 290.1,248.6 291.1,248.5 292.1,248.0 293.1,247.4 294.0,246.6 295.0,245.7 296.0,244.7 297.0,243.6 298.0,242.3 298.9,241.0 299.9,239.5 300.9,238.0 301.9,236.3 302.9,234.6 303.8,232.8 304.8,231.0 305.8,229.1 306.8,227.2 307.8,225.2 308.7,223.2 309.7,221.3 310.7,219.3 311.7,217.3 312.7,215.3 313.7,213.3 314.6,211.4 315.6,209.4 316.6,207.5 317.6,205.7 318.6,203.8 319.5,202.0 320.5,200.3 321.5,198.6 322.5,196.9 323.5,195.3 324.4,193.7 325.4,192.2 326.4,190.7 327.4,189.3 328.4,187.9 329.3,186.6 330.3,185.3 331.3,184.1 332.3,182.9 333.3,181.8 334.3,180.7 335.2,179.7 336.2,178.7 337.2,177.8 338.2,176.8 339.2,176.0 340.1,175.2 341.1,174.4 342.1,173.6 343.1,172.9 344.1,172.2 345.0,171.6 346.0,171.0 347.0,170.4 348.0,169.9 349.0,169.3 350.0,168.8 350.9,168.4 351.9,167.9 352.9,167.5 353.9,167.1 354.9,166.7 355.8,166.4 356.8,166.0 357.8,165.7 358.8,165.4 359.8,165.1 360.7,164.9 361.7,164.6 362.7,164.4 363.7,164.1 364.7,163.9 365.6,163.7 366.6,163.5 367.6,163.4 368.6,163.2 369.6,163.0 370.6,162.9 371.5,162.7 372.5,162.6 373.5,162.5 374.5,162.4 375.5,162.3 376.4,162.2 377.4,162.1 378.4,162.0" fill="none" stroke="#88c2ff" stroke-width="0.9" stroke-dasharray="1.2,0.9"/>
<path d="M280.3,248.6 281.3,248.6 282.3,248.6 283.2,248.6 284.2,248.6 285.2,248.6 286.2,248.6 287.2,248.6 288.1,248.4 289.1,248.0 290.1,247.6 291.1,247.1 292.1,246.4 293.1,245.6 294.0,244.7 295.0,243.7 296.0,242.5 297.0,241.3 298.0,239.9 298.9,238.4 299.9,236.9 300.9,235.2 301.9,233.5 302.9,231.7 303.8,229.9 304.8,228.0 305.8,226.0 306.8,224.1 307.8,222.1 308.7,220.1 309.7,218.1 310.7,216.1 311.7,214.0 312.7,212.1 313.7,210.1 314.6,208.1 315.6,206.2 316.6,204.3 317.6,202.5 318.6,200.7 319.5,198.9 320.5,197.2 321.5,195.5 322.5,193.9 323.5,192.3 324.4,190.7 325.4,189.3 326.4,187.8 327.4,186.5 328.4,185.1 329.3,183.9 330.3,182.6 331.3,181.5 332.3,180.3 333.3,179.3 334.3,178.2 335.2,177.2 336.2,176.3 337.2,175.4 338.2,174.6 339.2,173.7 340.1,173.0 341.1,172.2 342.1,171.6 343.1,170.9 344.1,170.3 345.0,169.7 346.0,169.1 347.0,168.6 348.0,168.1 349.0,167.6 350.0,167.2 350.9,166.7 351.9,166.3 352.9,166.0 353.9,165.6 354.9,165.3 355.8,165.0 356.8,164.7 357.8,164.4 358.8,164.1 359.8,163.9 360.7,163.7 361.7,163.4 362.7,163.2 363.7,163.1 364.7,162.9 365.6,162.7 366.6,162.6 367.6,162.4 368.6,162.3 369.6,162.1 370.6,162.0 371.5,161.9 372.5,161.8 373.5,161.7 374.5,161.6 375.5,161.5 376.4,161.4 377.4,161.4 378.4,161.3" fill="none" stroke="#88c2ff" stroke-width="0.9" stroke-dasharray="1.2,0.9"/>
<path d="M280.3,248.6 281.3,248.6 282.3,248.6 283.2,248.6 284.2,248.6 285.2,248.6 286.2,248.6 287.2,248.6 288.1,248.6 289.1,248.3 290.1,247.9 291.1,247.5 292.1,246.9 293.1,246.1 294.0,245.3 295.0,244.3 296.0,243.2 297.0,242.0 298.0,240.7 298.9,239.3 299.9,237.8 300.9,236.2 301.9,234.6 302.9,232.8 303.8,231.1 304.8,229.2 305.8,227.3 306.8,225.4 307.8,223.5 308.7,221.5 309.7,219.6 310.7,217.6 311.7,215.7 312.7,213.7 313.7,211.8 314.6,209.9 315.6,208.0 316.6,206.1 317.6,204.3 318.6,202.5 319.5,200.8 320.5,199.1 321.5,197.4 322.5,195.8 323.5,194.2 324.4,192.7 325.4,191.2 326.4,189.8 327.4,188.4 328.4,187.1 329.3,185.8 330.3,184.6 331.3,183.4 332.3,182.3 333.3,181.2 334.3,180.2 335.2,179.2 336.2,178.2 337.2,177.3 338.2,176.4 339.2,175.6 340.1,174.8 341.1,174.1 342.1,173.4 343.1,172.7 344.1,172.0 345.0,171.4 346.0,170.8 347.0,170.3 348.0,169.8 349.0,169.3 350.0,168.8 350.9,168.3 351.9,167.9 352.9,167.5 353.9,167.1 354.9,166.8 355.8,166.4 356.8,166.1 357.8,165.8 358.8,165.5 359.8,165.3 360.7,165.0 361.7,164.8 362.7,164.5 363.7,164.3 364.7,164.1 365.6,163.9 366.6,163.7 367.6,163.6 368.6,163.4 369.6,163.2 370.6,163.1 371.5,163.0 372.5,162.8 373.5,162.7 374.5,162.6 375.5,162.5 376.4,162.4 377.4,162.3 378.4,162.2" fill="none" stroke="#88c2ff" stroke-width="0.9" stroke-dasharray="1.2,0.9"/>
<path d="M280.3,248.6 281.3,248.6 282.3,248.6 283.2,248.6 284.2,248.6 285.2,248.6 286.2,248.6 287.2,248.6 288.1,248.6 289.1,248.6 290.1,248.6 291.1,248.4 292.1,247.9 293.1,247.2 294.0,246.5 295.0,245.6 296.0,244.6 297.0,243.5 298.0,242.2 298.9,240.9 299.9,239.4 300.9,237.9 301.9,236.3 302.9,234.6 303.8,232.8 304.8,231.0 305.8,229.2 306.8,227.3 307.8,225.4 308.7,223.4 309.7,221.5 310.7,219.5 311.7,217.6 312.7,215.6 313.7,213.7 314.6,211.8 315.6,209.9 316.6,208.0 317.6,206.2 318.6,204.4 319.5,202.6 320.5,200.9 321.5,199.2 322.5,197.6 323.5,196.0 324.4,194.4 325.4,192.9 326.4,191.5 327.4,190.1 328.4,188.7 329.3,187.4 330.3,186.2 331.3,184.9 332.3,183.8 333.3,182.7 334.3,181.6 335.2,180.6 336.2,179.6 337.2,178.7 338.2,177.8 339.2,176.9 340.1,176.1 341.1,175.3 342.1,174.6 343.1,173.9 344.1,173.2 345.0,172.5 346.0,171.9 347.0,171.3 348.0,170.8 349.0,170.3 350.0,169.8 350.9,169.3 351.9,168.8 352.9,168.4 353.9,168.0 354.9,167.6 355.8,167.3 356.8,166.9 357.8,166.6 358.8,166.3 359.8,166.0 360.7,165.7 361.7,165.4 362.7,165.2 363.7,164.9 364.7,164.7 365.6,164.5 366.6,164.3 367.6,164.1 368.6,163.9 369.6,163.8 370.6,163.6 371.5,163.4 372.5,163.3 373.5,163.1 374.5,163.0 375.5,162.9 376.4,162.8 377.4,162.7 378.4,162.6" fill="none" stroke="#88c2ff" stroke-width="0.9" stroke-dasharray="1.2,0.9"/>
<path d="M280.3,248.6 281.3,248.6 282.3,248.6 283.2,248.6 284.2,248.6 285.2,248.5 286.2,248.3 287.2,248.1 288.1,247.8 289.1,247.4 290.1,247.0 291.1,246.4 292.1,245.6 293.1,244.8 294.0,243.9 295.0,242.8 296.0,241.7 297.0,240.4 298.0,239.0 298.9,237.6 299.9,236.0 300.9,234.4 301.9,232.7 302.9,230.9 303.8,229.1 304.8,227.2 305.8,225.3 306.8,223.4 307.8,221.4 308.7,219.4 309.7,217.5 310.7,215.5 311.7,213.5 312.7,211.6 313.7,209.6 314.6,207.7 315.6,205.8 316.6,203.9 317.6,202.1 318.6,200.3 319.5,198.6 320.5,196.9 321.5,195.2 322.5,193.6 323.5,192.0 324.4,190.5 325.4,189.1 326.4,187.6 327.4,186.3 328.4,185.0 329.3,183.7 330.3,182.5 331.3,181.3 332.3,180.2 333.3,179.1 334.3,178.1 335.2,177.1 336.2,176.2 337.2,175.3 338.2,174.4 339.2,173.6 340.1,172.9 341.1,172.1 342.1,171.4 343.1,170.8 344.1,170.2 345.0,169.6 346.0,169.0 347.0,168.5 348.0,168.0 349.0,167.5 350.0,167.1 350.9,166.6 351.9,166.2 352.9,165.9 353.9,165.5 354.9,165.2 355.8,164.9 356.8,164.6 357.8,164.3 358.8,164.0 359.8,163.8 360.7,163.5 361.7,163.3 362.7,163.1 363.7,162.9 364.7,162.8 365.6,162.6 366.6,162.4 367.6,162.3 368.6,162.2 369.6,162.0 370.6,161.9 371.5,161.8 372.5,161.7 373.5,161.6 374.5,161.5 375.5,161.4 376.4,161.3 377.4,161.3 378.4,161.2" fill="none" stroke="#c4e2ff" stroke-width="2.6"/>
<path d="M24.4,386.6 25.4,386.6 26.4,386.6 27.3,386.6 28.3,386.6 29.3,386.6 30.3,386.6 31.3,386.6 32.2,386.6 33.2,386.6 34.2,386.3 35.2,385.9 36.2,385.3 37.2,384.7 38.1,383.9 39.1,383.0 40.1,382.0 41.1,380.9 42.1,379.6 43.0,378.3 44.0,376.9 45.0,375.3 46.0,373.7 47.0,372.1 47.9,370.3 48.9,368.5 49.9,366.7 50.9,364.8 51.9,362.9 52.8,361.0 53.8,359.0 54.8,357.1 55.8,355.1 56.8,353.2 57.8,351.2 58.7,349.3 59.7,347.4 60.7,345.5 61.7,343.7 62.7,341.9 63.6,340.1 64.6,338.4 65.6,336.7 66.6,335.0 67.6,333.4 68.5,331.9 69.5,330.4 70.5,328.9 71.5,327.5 72.5,326.1 73.5,324.8 74.4,323.5 75.4,322.3 76.4,321.1 77.4,320.0 78.4,318.9 79.3,317.9 80.3,316.9 81.3,315.9 82.3,315.0 83.3,314.2 84.2,313.3 85.2,312.5 86.2,311.8 87.2,311.1 88.2,310.4 89.1,309.7 90.1,309.1 91.1,308.5 92.1,308.0 93.1,307.4 94.1,306.9 95.0,306.5 96.0,306.0 97.0,305.6 98.0,305.2 99.0,304.8 99.9,304.4 100.9,304.1 101.9,303.8 102.9,303.5 103.9,303.2 104.8,302.9 105.8,302.6 106.8,302.4 107.8,302.2 108.8,301.9 109.7,301.7 110.7,301.5 111.7,301.3 112.7,301.2 113.7,301.0 114.7,300.9 115.6,300.7 116.6,300.6 117.6,300.4 118.6,300.3 119.6,300.2 120.5,300.1 121.5,300.0 122.5,299.9" fill="none" stroke="#88c2ff" stroke-width="0.9" stroke-dasharray="1.2,0.9"/>
<path d="M24.4,386.6 25.4,386.6 26.4,386.6 27.3,386.6 28.3,386.5 29.3,386.5 30.3,386.4 31.3,386.2 32.2,386.0 33.2,385.6 34.2,385.2 35.2,384.7 36.2,384.1 37.2,383.3 38.1,382.5 39.1,381.5 40.1,380.4 41.1,379.2 42.1,378.0 43.0,376.6 44.0,375.1 45.0,373.6 46.0,372.0 47.0,370.3 47.9,368.5 48.9,366.8 49.9,364.9 50.9,363.1 51.9,361.2 52.8,359.2 53.8,357.3 54.8,355.4 55.8,353.5 56.8,351.5 57.8,349.6 58.7,347.7 59.7,345.9 60.7,344.0 61.7,342.2 62.7,340.5 63.6,338.7 64.6,337.0 65.6,335.4 66.6,333.7 67.6,332.2 68.5,330.6 69.5,329.2 70.5,327.7 71.5,326.3 72.5,325.0 73.5,323.7 74.4,322.5 75.4,321.3 76.4,320.1 77.4,319.0 78.4,318.0 79.3,317.0 80.3,316.0 81.3,315.1 82.3,314.2 83.3,313.3 84.2,312.5 85.2,311.8 86.2,311.0 87.2,310.3 88.2,309.7 89.1,309.0 90.1,308.4 91.1,307.9 92.1,307.3 93.1,306.8 94.1,306.3 95.0,305.9 96.0,305.4 97.0,305.0 98.0,304.6 99.0,304.3 99.9,303.9 100.9,303.6 101.9,303.3 102.9,303.0 103.9,302.7 104.8,302.4 105.8,302.2 106.8,302.0 107.8,301.7 108.8,301.5 109.7,301.3 110.7,301.2 111.7,301.0 112.7,300.8 113.7,300.7 114.7,300.5 115.6,300.4 116.6,300.3 117.6,300.1 118.6,300.0 119.6,299.9 120.5,299.8 121.5,299.7 122.5,299.6" fill="none" stroke="#88c2ff" stroke-width="0.9" stroke-dasharray="1.2,0.9"/>
<path d="M24.4,386.6 25.4,386.6 26.4,386.6 27.3,386.6 28.3,386.6 29.3,386.6 30.3,386.6 31.3,386.6 32.2,386.6 33.2,386.6 34.2,386.5 35.2,386.0 36.2,385.5 37.2,384.8 38.1,383.9 39.1,383.0 40.1,381.9 41.1,380.7 42.1,379.4 43.0,377.9 44.0,376.4 45.0,374.8 46.0,373.1 47.0,371.3 47.9,369.5 48.9,367.6 49.9,365.7 50.9,363.7 51.9,361.7 52.8,359.7 53.8,357.7 54.8,355.6 55.8,353.6 56.8,351.6 57.8,349.6 58.7,347.6 59.7,345.7 60.7,343.8 61.7,341.9 62.7,340.1 63.6,338.3 64.6,336.5 65.6,334.8 66.6,333.2 67.6,331.5 68.5,330.0 69.5,328.5 70.5,327.0 71.5,325.6 72.5,324.3 73.5,323.0 74.4,321.7 75.4,320.5 76.4,319.3 77.4,318.2 78.4,317.2 79.3,316.2 80.3,315.2 81.3,314.3 82.3,313.4 83.3,312.6 84.2,311.8 85.2,311.0 86.2,310.3 87.2,309.6 88.2,309.0 89.1,308.4 90.1,307.8 91.1,307.2 92.1,306.7 93.1,306.2 94.1,305.7 95.0,305.3 96.0,304.9 97.0,304.5 98.0,304.1 99.0,303.8 99.9,303.4 100.9,303.1 101.9,302.8 102.9,302.6 103.9,302.3 104.8,302.0 105.8,301.8 106.8,301.6 107.8,301.4 108.8,301.2 109.7,301.0 110.7,300.9 111.7,300.7 112.7,300.5 113.7,300.4 114.7,300.3 115.6,300.2 116.6,300.0 117.6,299.9 118.6,299.8 119.6,299.7 120.5,299.6 121.5,299.6 122.5,299.5" fill="none" stroke="#88c2ff" stroke-width="0.9" stroke-dasharray="1.2,0.9"/>
<path d="M24.4,386.6 25.4,386.6 26.4,386.6 27.3,386.6 28.3,386.6 29.3,386.6 30.3,386.6 31.3,386.5 32.2,386.3 33.2,386.0 34.2,385.6 35.2,385.1 36.2,384.4 37.2,383.7 38.1,382.8 39.1,381.8 40.1,380.6 41.1,379.4 42.1,378.1 43.0,376.6 44.0,375.1 45.0,373.5 46.0,371.8 47.0,370.0 47.9,368.2 48.9,366.4 49.9,364.5 50.9,362.6 51.9,360.6 52.8,358.6 53.8,356.7 54.8,354.7 55.8,352.8 56.8,350.8 57.8,348.9 58.7,347.0 59.7,345.1 60.7,343.3 61.7,341.4 62.7,339.7 63.6,337.9 64.6,336.3 65.6,334.6 66.6,333.0 67.6,331.5 68.5,330.0 69.5,328.5 70.5,327.1 71.5,325.8 72.5,324.5 73.5,323.2 74.4,322.0 75.4,320.9 76.4,319.8 77.4,318.7 78.4,317.7 79.3,316.7 80.3,315.8 81.3,314.9 82.3,314.1 83.3,313.3 84.2,312.5 85.2,311.8 86.2,311.1 87.2,310.4 88.2,309.8 89.1,309.2 90.1,308.6 91.1,308.1 92.1,307.6 93.1,307.1 94.1,306.7 95.0,306.2 96.0,305.8 97.0,305.4 98.0,305.1 99.0,304.7 99.9,304.4 100.9,304.1 101.9,303.8 102.9,303.5 103.9,303.2 104.8,303.0 105.8,302.8 106.8,302.5 107.8,302.3 108.8,302.1 109.7,301.9 110.7,301.8 111.7,301.6 112.7,301.4 113.7,301.3 114.7,301.1 115.6,301.0 116.6,300.9 117.6,300.8 118.6,300.7 119.6,300.5 120.5,300.4 121.5,300.3 122.5,300.2" fill="none" stroke="#88c2ff" stroke-width="0.9" stroke-dasharray="1.2,0.9"/>
<path d="M24.4,386.6 25.4,386.6 26.4,386.6 27.3,386.6 28.3,386.6 29.3,386.6 30.3,386.6 31.3,386.6 32.2,386.4 33.2,386.1 34.2,385.6 35.2,385.0 36.2,384.3 37.2,383.5 38.1,382.5 39.1,381.4 40.1,380.2 41.1,378.9 42.1,377.4 43.0,375.9 44.0,374.2 45.0,372.5 46.0,370.7 47.0,368.8 47.9,366.9 48.9,364.9 49.9,362.9 50.9,360.8 51.9,358.8 52.8,356.7 53.8,354.6 54.8,352.5 55.8,350.5 56.8,348.4 57.8,346.4 58.7,344.4 59.7,342.4 60.7,340.5 61.7,338.6 62.7,336.8 63.6,335.0 64.6,333.2 65.6,331.5 66.6,329.9 67.6,328.3 68.5,326.7 69.5,325.3 70.5,323.8 71.5,322.5 72.5,321.1 73.5,319.9 74.4,318.6 75.4,317.5 76.4,316.4 77.4,315.3 78.4,314.3 79.3,313.3 80.3,312.4 81.3,311.5 82.3,310.7 83.3,309.9 84.2,309.2 85.2,308.5 86.2,307.8 87.2,307.2 88.2,306.6 89.1,306.0 90.1,305.5 91.1,305.0 92.1,304.5 93.1,304.1 94.1,303.7 95.0,303.3 96.0,302.9 97.0,302.6 98.0,302.3 99.0,302.0 99.9,301.7 100.9,301.4 101.9,301.2 102.9,300.9 103.9,300.7 104.8,300.5 105.8,300.3 106.8,300.2 107.8,300.0 108.8,299.9 109.7,299.7 110.7,299.6 111.7,299.5 112.7,299.4 113.7,299.3 114.7,299.2 115.6,299.1 116.6,299.0 117.6,298.9 118.6,298.8 119.6,298.8 120.5,298.7 121.5,298.7 122.5,298.6" fill="none" stroke="#88c2ff" stroke-width="0.9" stroke-dasharray="1.2,0.9"/>
<path d="M24.4,386.6 25.4,386.6 26.4,386.6 27.3,386.6 28.3,386.6 29.3,386.6 30.3,386.6 31.3,386.6 32.2,386.6 33.2,386.6 34.2,386.3 35.2,385.9 36.2,385.4 37.2,384.7 38.1,384.0 39.1,383.1 40.1,382.1 41.1,380.9 42.1,379.7 43.0,378.4 44.0,376.9 45.0,375.4 46.0,373.8 47.0,372.1 47.9,370.4 48.9,368.6 49.9,366.7 50.9,364.9 51.9,362.9 52.8,361.0 53.8,359.1 54.8,357.1 55.8,355.2 56.8,353.2 57.8,351.3 58.7,349.4 59.7,347.5 60.7,345.6 61.7,343.8 62.7,341.9 63.6,340.2 64.6,338.4 65.6,336.8 66.6,335.1 67.6,333.5 68.5,332.0 69.5,330.5 70.5,329.0 71.5,327.6 72.5,326.2 73.5,324.9 74.4,323.6 75.4,322.4 76.4,321.2 77.4,320.1 78.4,319.0 79.3,318.0 80.3,317.0 81.3,316.1 82.3,315.2 83.3,314.3 84.2,313.5 85.2,312.7 86.2,311.9 87.2,311.2 88.2,310.5 89.1,309.9 90.1,309.3 91.1,308.7 92.1,308.1 93.1,307.6 94.1,307.1 95.0,306.6 96.0,306.2 97.0,305.7 98.0,305.3 99.0,304.9 99.9,304.6 100.9,304.2 101.9,303.9 102.9,303.6 103.9,303.3 104.8,303.0 105.8,302.8 106.8,302.5 107.8,302.3 108.8,302.1 109.7,301.9 110.7,301.7 111.7,301.5 112.7,301.3 113.7,301.1 114.7,301.0 115.6,300.8 116.6,300.7 117.6,300.6 118.6,300.4 119.6,300.3 120.5,300.2 121.5,300.1 122.5,300.0" fill="none" stroke="#88c2ff" stroke-width="0.9" stroke-dasharray="1.2,0.9"/>
<path d="M24.4,386.6 25.4,386.6 26.4,386.6 27.3,386.6 28.3,386.6 29.3,386.6 30.3,386.6 31.3,386.6 32.2,386.4 33.2,386.1 34.2,385.7 35.2,385.3 36.2,384.6 37.2,383.9 38.1,383.1 39.1,382.1 40.1,381.0 41.1,379.8 42.1,378.5 43.0,377.1 44.0,375.6 45.0,374.0 46.0,372.4 47.0,370.7 47.9,368.9 48.9,367.1 49.9,365.2 50.9,363.3 51.9,361.3 52.8,359.4 53.8,357.4 54.8,355.5 55.8,353.5 56.8,351.6 57.8,349.6 58.7,347.7 59.7,345.8 60.7,344.0 61.7,342.2 62.7,340.4 63.6,338.6 64.6,336.9 65.6,335.3 66.6,333.6 67.6,332.1 68.5,330.6 69.5,329.1 70.5,327.7 71.5,326.3 72.5,325.0 73.5,323.7 74.4,322.4 75.4,321.3 76.4,320.1 77.4,319.0 78.4,318.0 79.3,317.0 80.3,316.1 81.3,315.1 82.3,314.3 83.3,313.4 84.2,312.6 85.2,311.9 86.2,311.2 87.2,310.5 88.2,309.8 89.1,309.2 90.1,308.6 91.1,308.1 92.1,307.6 93.1,307.1 94.1,306.6 95.0,306.1 96.0,305.7 97.0,305.3 98.0,304.9 99.0,304.6 99.9,304.2 100.9,303.9 101.9,303.6 102.9,303.3 103.9,303.0 104.8,302.8 105.8,302.5 106.8,302.3 107.8,302.1 108.8,301.9 109.7,301.7 110.7,301.5 111.7,301.3 112.7,301.2 113.7,301.0 114.7,300.9 115.6,300.8 116.6,300.6 117.6,300.5 118.6,300.4 119.6,300.3 120.5,300.2 121.5,300.1 122.5,300.0" fill="none" stroke="#88c2ff" stroke-width="0.9" stroke-dasharray="1.2,0.9"/>
<path d="M24.4,386.6 25.4,386.6 26.4,386.6 27.3,386.6 28.3,386.6 29.3,386.6 30.3,386.5 31.3,386.4 32.2,386.2 33.2,385.9 34.2,385.5 35.2,385.0 36.2,384.4 37.2,383.6 38.1,382.8 39.1,381.8 40.1,380.8 41.1,379.6 42.1,378.3 43.0,376.9 44.0,375.4 45.0,373.9 46.0,372.3 47.0,370.6 47.9,368.8 48.9,367.0 49.9,365.1 50.9,363.3 51.9,361.4 52.8,359.4 53.8,357.5 54.8,355.5 55.8,353.6 56.8,351.7 57.8,349.7 58.7,347.8 59.7,346.0 60.7,344.1 61.7,342.3 62.7,340.5 63.6,338.8 64.6,337.0 65.6,335.4 66.6,333.8 67.6,332.2 68.5,330.6 69.5,329.2 70.5,327.7 71.5,326.3 72.5,325.0 73.5,323.7 74.4,322.5 75.4,321.3 76.4,320.1 77.4,319.0 78.4,318.0 79.3,317.0 80.3,316.0 81.3,315.1 82.3,314.2 83.3,313.3 84.2,312.5 85.2,311.8 86.2,311.0 87.2,310.3 88.2,309.7 89.1,309.0 90.1,308.5 91.1,307.9 92.1,307.3 93.1,306.8 94.1,306.4 95.0,305.9 96.0,305.5 97.0,305.1 98.0,304.7 99.0,304.3 99.9,303.9 100.9,303.6 101.9,303.3 102.9,303.0 103.9,302.7 104.8,302.5 105.8,302.2 106.8,302.0 107.8,301.8 108.8,301.6 109.7,301.4 110.7,301.2 111.7,301.0 112.7,300.9 113.7,300.7 114.7,300.6 115.6,300.4 116.6,300.3 117.6,300.2 118.6,300.1 119.6,300.0 120.5,299.9 121.5,299.8 122.5,299.7" fill="none" stroke="#88c2ff" stroke-width="0.9" stroke-dasharray="1.2,0.9"/>
<path d="M24.4,386.6 25.4,386.6 26.4,386.6 27.3,386.5 28.3,386.5 29.3,386.4 30.3,386.3 31.3,386.1 32.2,385.8 33.2,385.4 34.2,384.9 35.2,384.3 36.2,383.6 37.2,382.8 38.1,381.8 39.1,380.8 40.1,379.6 41.1,378.3 42.1,377.0 43.0,375.5 44.0,373.9 45.0,372.3 46.0,370.6 47.0,368.8 47.9,367.0 48.9,365.1 49.9,363.2 50.9,361.3 51.9,359.3 52.8,357.4 53.8,355.4 54.8,353.4 55.8,351.4 56.8,349.5 57.8,347.5 58.7,345.6 59.7,343.7 60.7,341.9 61.7,340.0 62.7,338.3 63.6,336.5 64.6,334.8 65.6,333.1 66.6,331.5 67.6,330.0 68.5,328.5 69.5,327.0 70.5,325.6 71.5,324.2 72.5,322.9 73.5,321.6 74.4,320.4 75.4,319.2 76.4,318.1 77.4,317.1 78.4,316.0 79.3,315.1 80.3,314.1 81.3,313.2 82.3,312.4 83.3,311.6 84.2,310.8 85.2,310.1 86.2,309.4 87.2,308.7 88.2,308.1 89.1,307.5 90.1,306.9 91.1,306.4 92.1,305.9 93.1,305.4 94.1,305.0 95.0,304.6 96.0,304.2 97.0,303.8 98.0,303.4 99.0,303.1 99.9,302.8 100.9,302.5 101.9,302.2 102.9,302.0 103.9,301.7 104.8,301.5 105.8,301.3 106.8,301.1 107.8,300.9 108.8,300.7 109.7,300.5 110.7,300.4 111.7,300.2 112.7,300.1 113.7,300.0 114.7,299.8 115.6,299.7 116.6,299.6 117.6,299.5 118.6,299.4 119.6,299.3 120.5,299.3 121.5,299.2 122.5,299.1" fill="none" stroke="#c4e2ff" stroke-width="2.6"/>
<path d="M152.4,386.6 153.4,386.5 154.4,386.4 155.3,386.1 156.3,385.9 157.3,385.5 158.3,385.1 159.3,384.6 160.2,384.0 161.2,383.4 162.2,382.7 163.2,381.8 164.2,380.9 165.2,379.9 166.1,378.8 167.1,377.6 168.1,376.3 169.1,374.9 170.1,373.5 171.0,372.0 172.0,370.4 173.0,368.7 174.0,367.0 175.0,365.2 175.9,363.4 176.9,361.5 177.9,359.7 178.9,357.8 179.9,355.8 180.8,353.9 181.8,352.0 182.8,350.1 183.8,348.2 184.8,346.3 185.8,344.4 186.7,342.5 187.7,340.7 188.7,338.9 189.7,337.2 190.7,335.5 191.6,333.8 192.6,332.1 193.6,330.6 194.6,329.0 195.6,327.5 196.5,326.1 197.5,324.7 198.5,323.3 199.5,322.0 200.5,320.8 201.5,319.5 202.4,318.4 203.4,317.3 204.4,316.2 205.4,315.2 206.4,314.2 207.3,313.3 208.3,312.4 209.3,311.6 210.3,310.8 211.3,310.0 212.2,309.3 213.2,308.6 214.2,307.9 215.2,307.3 216.2,306.7 217.1,306.2 218.1,305.7 219.1,305.2 220.1,304.7 221.1,304.3 222.1,303.8 223.0,303.4 224.0,303.1 225.0,302.7 226.0,302.4 227.0,302.1 227.9,301.8 228.9,301.6 229.9,301.3 230.9,301.1 231.9,300.8 232.8,300.6 233.8,300.4 234.8,300.3 235.8,300.1 236.8,299.9 237.7,299.8 238.7,299.7 239.7,299.5 240.7,299.4 241.7,299.3 242.7,299.2 243.6,299.1 244.6,299.0 245.6,298.9 246.6,298.9 247.6,298.8 248.5,298.7 249.5,298.7 250.5,298.6" fill="none" stroke="#88c2ff" stroke-width="0.9" stroke-dasharray="1.2,0.9"/>
<path d="M152.4,386.6 153.4,386.6 154.4,386.6 155.3,386.6 156.3,386.6 157.3,386.6 158.3,386.5 159.3,386.3 160.2,386.1 161.2,385.7 162.2,385.3 163.2,384.7 164.2,384.1 165.2,383.3 166.1,382.4 167.1,381.4 168.1,380.3 169.1,379.0 170.1,377.7 171.0,376.3 172.0,374.7 173.0,373.1 174.0,371.4 175.0,369.7 175.9,367.9 176.9,366.0 177.9,364.1 178.9,362.2 179.9,360.3 180.8,358.3 181.8,356.3 182.8,354.3 183.8,352.4 184.8,350.4 185.8,348.5 186.7,346.5 187.7,344.6 188.7,342.8 189.7,341.0 190.7,339.2 191.6,337.4 192.6,335.7 193.6,334.0 194.6,332.4 195.6,330.8 196.5,329.3 197.5,327.8 198.5,326.4 199.5,325.0 200.5,323.7 201.5,322.4 202.4,321.2 203.4,320.0 204.4,318.9 205.4,317.8 206.4,316.8 207.3,315.8 208.3,314.8 209.3,313.9 210.3,313.1 211.3,312.2 212.2,311.4 213.2,310.7 214.2,310.0 215.2,309.3 216.2,308.7 217.1,308.1 218.1,307.5 219.1,307.0 220.1,306.5 221.1,306.0 222.1,305.5 223.0,305.1 224.0,304.7 225.0,304.3 226.0,303.9 227.0,303.6 227.9,303.2 228.9,302.9 229.9,302.6 230.9,302.4 231.9,302.1 232.8,301.9 233.8,301.6 234.8,301.4 235.8,301.2 236.8,301.0 237.7,300.9 238.7,300.7 239.7,300.5 240.7,300.4 241.7,300.3 242.7,300.1 243.6,300.0 244.6,299.9 245.6,299.8 246.6,299.7 247.6,299.6 248.5,299.5 249.5,299.4 250.5,299.4" fill="none" stroke="#88c2ff" stroke-width="0.9" stroke-dasharray="1.2,0.9"/>
<path d="M152.4,386.6 153.4,386.5 154.4,386.3 155.3,386.1 156.3,385.7 157.3,385.3 158.3,384.8 159.3,384.2 160.2,383.6 161.2,382.8 162.2,382.0 163.2,381.0 164.2,380.0 165.2,378.9 166.1,377.6 167.1,376.3 168.1,374.9 169.1,373.4 170.1,371.9 171.0,370.3 172.0,368.6 173.0,366.8 174.0,365.0 175.0,363.2 175.9,361.3 176.9,359.4 177.9,357.5 178.9,355.5 179.9,353.6 180.8,351.6 181.8,349.7 182.8,347.8 183.8,345.8 184.8,344.0 185.8,342.1 186.7,340.2 187.7,338.4 188.7,336.7 189.7,334.9 190.7,333.3 191.6,331.6 192.6,330.0 193.6,328.5 194.6,327.0 195.6,325.5 196.5,324.1 197.5,322.8 198.5,321.5 199.5,320.3 200.5,319.1 201.5,317.9 202.4,316.8 203.4,315.8 204.4,314.8 205.4,313.8 206.4,312.9 207.3,312.0 208.3,311.2 209.3,310.4 210.3,309.7 211.3,309.0 212.2,308.3 213.2,307.7 214.2,307.1 215.2,306.5 216.2,306.0 217.1,305.5 218.1,305.0 219.1,304.6 220.1,304.1 221.1,303.7 222.1,303.4 223.0,303.0 224.0,302.7 225.0,302.4 226.0,302.1 227.0,301.8 227.9,301.6 228.9,301.4 229.9,301.1 230.9,300.9 231.9,300.7 232.8,300.6 233.8,300.4 234.8,300.2 235.8,300.1 236.8,300.0 237.7,299.8 238.7,299.7 239.7,299.6 240.7,299.5 241.7,299.4 242.7,299.3 243.6,299.2 244.6,299.2 245.6,299.1 246.6,299.0 247.6,299.0 248.5,298.9 249.5,298.9 250.5,298.8" fill="none" stroke="#88c2ff" stroke-width="0.9" stroke-dasharray="1.2,0.9"/>
<path d="M152.4,386.6 153.4,386.5 154.4,386.5 155.3,386.4 156.3,386.3 157.3,386.1 158.3,385.8 159.3,385.5 160.2,385.1 161.2,384.6 162.2,384.1 163.2,383.4 164.2,382.6 165.2,381.7 166.1,380.7 167.1,379.6 168.1,378.4 169.1,377.0 170.1,375.6 171.0,374.1 172.0,372.6 173.0,370.9 174.0,369.2 175.0,367.4 175.9,365.6 176.9,363.7 177.9,361.8 178.9,359.9 179.9,357.9 180.8,355.9 181.8,354.0 182.8,352.0 183.8,350.0 184.8,348.1 185.8,346.2 186.7,344.2 187.7,342.4 188.7,340.5 189.7,338.7 190.7,336.9 191.6,335.2 192.6,333.5 193.6,331.9 194.6,330.3 195.6,328.7 196.5,327.2 197.5,325.8 198.5,324.4 199.5,323.0 200.5,321.7 201.5,320.4 202.4,319.2 203.4,318.1 204.4,317.0 205.4,315.9 206.4,314.9 207.3,314.0 208.3,313.0 209.3,312.2 210.3,311.3 211.3,310.5 212.2,309.8 213.2,309.1 214.2,308.4 215.2,307.7 216.2,307.1 217.1,306.5 218.1,306.0 219.1,305.5 220.1,305.0 221.1,304.5 222.1,304.1 223.0,303.7 224.0,303.3 225.0,302.9 226.0,302.6 227.0,302.3 227.9,302.0 228.9,301.7 229.9,301.4 230.9,301.2 231.9,301.0 232.8,300.7 233.8,300.5 234.8,300.4 235.8,300.2 236.8,300.0 237.7,299.9 238.7,299.7 239.7,299.6 240.7,299.5 241.7,299.3 242.7,299.2 243.6,299.1 244.6,299.0 245.6,299.0 246.6,298.9 247.6,298.8 248.5,298.7 249.5,298.7 250.5,298.6" fill="none" stroke="#88c2ff" stroke-width="0.9" stroke-dasharray="1.2,0.9"/>
<path d="M152.4,386.6 153.4,386.5 154.4,386.5 155.3,386.3 156.3,386.1 157.3,385.9 158.3,385.6 159.3,385.2 160.2,384.8 161.2,384.2 162.2,383.6 163.2,382.9 164.2,382.0 165.2,381.1 166.1,380.0 167.1,378.9 168.1,377.6 169.1,376.3 170.1,374.8 171.0,373.3 172.0,371.7 173.0,370.0 174.0,368.3 175.0,366.5 175.9,364.6 176.9,362.7 177.9,360.8 178.9,358.9 179.9,356.9 180.8,354.9 181.8,353.0 182.8,351.0 183.8,349.0 184.8,347.1 185.8,345.2 186.7,343.3 187.7,341.4 188.7,339.6 189.7,337.8 190.7,336.0 191.6,334.3 192.6,332.6 193.6,331.0 194.6,329.4 195.6,327.9 196.5,326.4 197.5,325.0 198.5,323.6 199.5,322.3 200.5,321.0 201.5,319.8 202.4,318.6 203.4,317.4 204.4,316.4 205.4,315.3 206.4,314.3 207.3,313.4 208.3,312.5 209.3,311.6 210.3,310.8 211.3,310.0 212.2,309.3 213.2,308.6 214.2,307.9 215.2,307.3 216.2,306.7 217.1,306.2 218.1,305.6 219.1,305.1 220.1,304.7 221.1,304.2 222.1,303.8 223.0,303.4 224.0,303.0 225.0,302.7 226.0,302.4 227.0,302.1 227.9,301.8 228.9,301.5 229.9,301.2 230.9,301.0 231.9,300.8 232.8,300.6 233.8,300.4 234.8,300.2 235.8,300.0 236.8,299.9 237.7,299.7 238.7,299.6 239.7,299.5 240.7,299.4 241.7,299.3 242.7,299.2 243.6,299.1 244.6,299.0 245.6,298.9 246.6,298.8 247.6,298.8 248.5,298.7 249.5,298.6 250.5,298.6" fill="none" stroke="#88c2ff" stroke-width="0.9" stroke-dasharray="1.2,0.9"/>
<path d="M152.4,386.6 153.4,386.6 154.4,386.6 155.3,386.6 156.3,386.6 157.3,386.6 158.3,386.6 159.3,386.6 160.2,386.5 161.2,386.2 162.2,385.7 163.2,385.2 164.2,384.5 165.2,383.7 166.1,382.8 167.1,381.7 168.1,380.5 169.1,379.2 170.1,377.8 171.0,376.3 172.0,374.7 173.0,373.0 174.0,371.2 175.0,369.3 175.9,367.4 176.9,365.5 177.9,363.5 178.9,361.4 179.9,359.4 180.8,357.3 181.8,355.2 182.8,353.2 183.8,351.1 184.8,349.1 185.8,347.1 186.7,345.1 187.7,343.1 188.7,341.2 189.7,339.3 190.7,337.4 191.6,335.6 192.6,333.9 193.6,332.2 194.6,330.5 195.6,328.9 196.5,327.3 197.5,325.9 198.5,324.4 199.5,323.0 200.5,321.7 201.5,320.4 202.4,319.2 203.4,318.0 204.4,316.9 205.4,315.8 206.4,314.8 207.3,313.8 208.3,312.8 209.3,312.0 210.3,311.1 211.3,310.3 212.2,309.5 213.2,308.8 214.2,308.1 215.2,307.5 216.2,306.9 217.1,306.3 218.1,305.8 219.1,305.3 220.1,304.8 221.1,304.3 222.1,303.9 223.0,303.5 224.0,303.1 225.0,302.7 226.0,302.4 227.0,302.1 227.9,301.8 228.9,301.5 229.9,301.3 230.9,301.0 231.9,300.8 232.8,300.6 233.8,300.4 234.8,300.2 235.8,300.1 236.8,299.9 237.7,299.8 238.7,299.6 239.7,299.5 240.7,299.4 241.7,299.3 242.7,299.2 243.6,299.1 244.6,299.0 245.6,298.9 246.6,298.8 247.6,298.8 248.5,298.7 249.5,298.7 250.5,298.6" fill="none" stroke="#88c2ff" stroke-width="0.9" stroke-dasharray="1.2,0.9"/>
<path d="M152.4,386.6 153.4,386.5 154.4,386.4 155.3,386.2 156.3,385.9 157.3,385.6 158.3,385.2 159.3,384.7 160.2,384.1 161.2,383.5 162.2,382.7 163.2,381.9 164.2,381.0 165.2,379.9 166.1,378.8 167.1,377.5 168.1,376.2 169.1,374.8 170.1,373.3 171.0,371.7 172.0,370.1 173.0,368.3 174.0,366.6 175.0,364.7 175.9,362.9 176.9,361.0 177.9,359.1 178.9,357.1 179.9,355.2 180.8,353.2 181.8,351.2 182.8,349.3 183.8,347.4 184.8,345.4 185.8,343.5 186.7,341.7 187.7,339.8 188.7,338.0 189.7,336.3 190.7,334.6 191.6,332.9 192.6,331.2 193.6,329.7 194.6,328.1 195.6,326.6 196.5,325.2 197.5,323.8 198.5,322.5 199.5,321.2 200.5,319.9 201.5,318.8 202.4,317.6 203.4,316.5 204.4,315.5 205.4,314.5 206.4,313.5 207.3,312.6 208.3,311.8 209.3,311.0 210.3,310.2 211.3,309.4 212.2,308.7 213.2,308.1 214.2,307.5 215.2,306.9 216.2,306.3 217.1,305.8 218.1,305.3 219.1,304.8 220.1,304.3 221.1,303.9 222.1,303.5 223.0,303.2 224.0,302.8 225.0,302.5 226.0,302.2 227.0,301.9 227.9,301.6 228.9,301.4 229.9,301.1 230.9,300.9 231.9,300.7 232.8,300.5 233.8,300.4 234.8,300.2 235.8,300.0 236.8,299.9 237.7,299.7 238.7,299.6 239.7,299.5 240.7,299.4 241.7,299.3 242.7,299.2 243.6,299.1 244.6,299.0 245.6,299.0 246.6,298.9 247.6,298.8 248.5,298.8 249.5,298.7 250.5,298.7" fill="none" stroke="#88c2ff" stroke-width="0.9" stroke-dasharray="1.2,0.9"/>
<path d="M152.4,386.6 153.4,386.6 154.4,386.5 155.3,386.5 156.3,386.4 157.3,386.3 158.3,386.1 159.3,385.9 160.2,385.5 161.2,385.0 162.2,384.5 163.2,383.8 164.2,383.0 165.2,382.0 166.1,381.0 167.1,379.8 168.1,378.5 169.1,377.2 170.1,375.7 171.0,374.1 172.0,372.4 173.0,370.7 174.0,368.9 175.0,367.0 175.9,365.1 176.9,363.1 177.9,361.2 178.9,359.1 179.9,357.1 180.8,355.1 181.8,353.0 182.8,351.0 183.8,349.0 184.8,347.0 185.8,345.0 186.7,343.0 187.7,341.1 188.7,339.2 189.7,337.4 190.7,335.6 191.6,333.8 192.6,332.1 193.6,330.4 194.6,328.8 195.6,327.3 196.5,325.8 197.5,324.3 198.5,322.9 199.5,321.6 200.5,320.3 201.5,319.1 202.4,317.9 203.4,316.7 204.4,315.7 205.4,314.6 206.4,313.6 207.3,312.7 208.3,311.8 209.3,311.0 210.3,310.2 211.3,309.4 212.2,308.7 213.2,308.0 214.2,307.3 215.2,306.7 216.2,306.1 217.1,305.6 218.1,305.1 219.1,304.6 220.1,304.1 221.1,303.7 222.1,303.3 223.0,302.9 224.0,302.6 225.0,302.3 226.0,301.9 227.0,301.7 227.9,301.4 228.9,301.1 229.9,300.9 230.9,300.7 231.9,300.5 232.8,300.3 233.8,300.1 234.8,299.9 235.8,299.8 236.8,299.6 237.7,299.5 238.7,299.4 239.7,299.3 240.7,299.2 241.7,299.1 242.7,299.0 243.6,298.9 244.6,298.8 245.6,298.7 246.6,298.7 247.6,298.6 248.5,298.6 249.5,298.5 250.5,298.5" fill="none" stroke="#88c2ff" stroke-width="0.9" stroke-dasharray="1.2,0.9"/>
<path d="M152.4,386.6 153.4,386.6 154.4,386.6 155.3,386.5 156.3,386.5 157.3,386.4 158.3,386.3 159.3,386.1 160.2,385.8 161.2,385.4 162.2,384.9 163.2,384.3 164.2,383.6 165.2,382.8 166.1,381.8 167.1,380.8 168.1,379.6 169.1,378.3 170.1,377.0 171.0,375.5 172.0,373.9 173.0,372.3 174.0,370.6 175.0,368.8 175.9,367.0 176.9,365.1 177.9,363.2 178.9,361.3 179.9,359.3 180.8,357.4 181.8,355.4 182.8,353.4 183.8,351.4 184.8,349.5 185.8,347.5 186.7,345.6 187.7,343.7 188.7,341.9 189.7,340.0 190.7,338.3 191.6,336.5 192.6,334.8 193.6,333.1 194.6,331.5 195.6,330.0 196.5,328.5 197.5,327.0 198.5,325.6 199.5,324.2 200.5,322.9 201.5,321.6 202.4,320.4 203.4,319.2 204.4,318.1 205.4,317.1 206.4,316.0 207.3,315.1 208.3,314.1 209.3,313.2 210.3,312.4 211.3,311.6 212.2,310.8 213.2,310.1 214.2,309.4 215.2,308.7 216.2,308.1 217.1,307.5 218.1,306.9 219.1,306.4 220.1,305.9 221.1,305.4 222.1,305.0 223.0,304.6 224.0,304.2 225.0,303.8 226.0,303.4 227.0,303.1 227.9,302.8 228.9,302.5 229.9,302.2 230.9,302.0 231.9,301.7 232.8,301.5 233.8,301.3 234.8,301.1 235.8,300.9 236.8,300.7 237.7,300.5 238.7,300.4 239.7,300.2 240.7,300.1 241.7,300.0 242.7,299.8 243.6,299.7 244.6,299.6 245.6,299.5 246.6,299.4 247.6,299.3 248.5,299.3 249.5,299.2 250.5,299.1" fill="none" stroke="#c4e2ff" stroke-width="2.6"/>
<path d="M280.3,386.6 281.3,386.6 282.3,386.5 283.2,386.5 284.2,386.4 285.2,386.2 286.2,386.0 287.2,385.8 288.1,385.4 289.1,385.0 290.1,384.4 291.1,383.8 292.1,383.0 293.1,382.1 294.0,381.1 295.0,379.9 296.0,378.6 297.0,377.4 298.0,376.1 298.9,374.6 299.9,372.9 300.9,371.0 301.9,368.9 302.9,366.8 303.8,364.8 304.8,362.9 305.8,361.1 306.8,359.1 307.8,357.1 308.7,355.1 309.7,353.2 310.7,351.2 311.7,349.3 312.7,347.4 313.7,345.5 314.6,343.6 315.6,341.9 316.6,340.4 317.6,338.9 318.6,337.3 319.5,335.4 320.5,333.4 321.5,331.3 322.5,329.4 323.5,327.8 324.4,326.4 325.4,325.2 326.4,323.8 327.4,322.3 328.4,320.6 329.3,318.9 330.3,317.5 331.3,316.4 332.3,315.5 333.3,314.7 334.3,313.9 335.2,313.0 336.2,312.1 337.2,311.2 338.2,310.4 339.2,309.7 340.1,309.1 341.1,308.4 342.1,307.8 343.1,307.2 344.1,306.7 345.0,306.1 346.0,305.6 347.0,305.0 348.0,304.4 349.0,303.9 350.0,303.4 350.9,302.9 351.9,302.6 352.9,302.3 353.9,302.0 354.9,301.7 355.8,301.3 356.8,301.0 357.8,300.7 358.8,300.5 359.8,300.3 360.7,300.2 361.7,300.1 362.7,299.9 363.7,299.8 364.7,299.6 365.6,299.4 366.6,299.3 367.6,299.2 368.6,299.2 369.6,299.1 370.6,299.0 371.5,298.9 372.5,298.8 373.5,298.7 374.5,298.6 375.5,298.5 376.4,298.5 377.4,298.4 378.4,298.3" fill="none" stroke="#88c2ff" stroke-width="0.9" stroke-dasharray="1.2,0.9"/>
<path d="M280.3,386.6 281.3,386.5 282.3,386.3 283.2,386.1 284.2,385.7 285.2,385.3 286.2,384.8 287.2,384.3 288.1,383.6 289.1,382.9 290.1,382.1 291.1,381.3 292.1,380.3 293.1,379.3 294.0,378.1 295.0,376.8 296.0,375.5 297.0,374.1 298.0,372.7 298.9,371.3 299.9,369.7 300.9,368.0 301.9,366.2 302.9,364.3 303.8,362.3 304.8,360.4 305.8,358.4 306.8,356.3 307.8,354.2 308.7,352.1 309.7,350.1 310.7,348.3 311.7,346.8 312.7,345.5 313.7,344.2 314.6,342.7 315.6,340.9 316.6,339.0 317.6,337.0 318.6,335.1 319.5,333.4 320.5,331.8 321.5,330.3 322.5,328.8 323.5,327.2 324.4,325.6 325.4,324.0 326.4,322.6 327.4,321.4 328.4,320.2 329.3,319.0 330.3,317.8 331.3,316.7 332.3,315.7 333.3,314.9 334.3,314.2 335.2,313.7 336.2,313.1 337.2,312.4 338.2,311.6 339.2,310.6 340.1,309.7 341.1,308.9 342.1,308.1 343.1,307.5 344.1,307.0 345.0,306.4 346.0,305.9 347.0,305.4 348.0,304.9 349.0,304.5 350.0,304.1 350.9,303.8 351.9,303.5 352.9,303.1 353.9,302.8 354.9,302.5 355.8,302.3 356.8,302.1 357.8,301.9 358.8,301.8 359.8,301.6 360.7,301.3 361.7,301.1 362.7,300.8 363.7,300.6 364.7,300.4 365.6,300.3 366.6,300.1 367.6,300.0 368.6,299.9 369.6,299.8 370.6,299.7 371.5,299.6 372.5,299.5 373.5,299.5 374.5,299.4 375.5,299.3 376.4,299.2 377.4,299.2 378.4,299.1" fill="none" stroke="#88c2ff" stroke-width="0.9" stroke-dasharray="1.2,0.9"/>
<path d="M280.3,386.6 281.3,386.5 282.3,386.4 283.2,386.2 284.2,386.0 285.2,385.7 286.2,385.3 287.2,384.9 288.1,384.4 289.1,383.8 290.1,383.1 291.1,382.3 292.1,381.5 293.1,380.5 294.0,379.3 295.0,378.1 296.0,376.9 297.0,375.6 298.0,374.1 298.9,372.4 299.9,370.7 300.9,369.1 301.9,367.5 302.9,365.6 303.8,363.5 304.8,361.5 305.8,359.7 306.8,358.0 307.8,356.1 308.7,354.0 309.7,352.1 310.7,350.6 311.7,349.1 312.7,347.4 313.7,345.5 314.6,343.6 315.6,342.0 316.6,340.4 317.6,338.5 318.6,336.3 319.5,334.2 320.5,332.4 321.5,330.8 322.5,328.9 323.5,327.0 324.4,325.4 325.4,324.2 326.4,323.2 327.4,322.1 328.4,320.9 329.3,319.9 330.3,319.1 331.3,318.4 332.3,317.5 333.3,316.3 334.3,315.3 335.2,314.4 336.2,313.5 337.2,312.5 338.2,311.4 339.2,310.4 340.1,309.7 341.1,309.0 342.1,308.3 343.1,307.6 344.1,307.0 345.0,306.5 346.0,306.2 347.0,305.7 348.0,305.2 349.0,304.8 350.0,304.5 350.9,304.2 351.9,303.8 352.9,303.4 353.9,303.0 354.9,302.8 355.8,302.5 356.8,302.2 357.8,301.9 358.8,301.7 359.8,301.5 360.7,301.3 361.7,301.1 362.7,300.8 363.7,300.6 364.7,300.4 365.6,300.3 366.6,300.2 367.6,300.0 368.6,299.9 369.6,299.8 370.6,299.7 371.5,299.6 372.5,299.5 373.5,299.4 374.5,299.4 375.5,299.3 376.4,299.3 377.4,299.2 378.4,299.1" fill="none" stroke="#88c2ff" stroke-width="0.9" stroke-dasharray="1.2,0.9"/>
<path d="M280.3,386.6 281.3,386.5 282.3,386.5 283.2,386.3 284.2,386.2 285.2,385.9 286.2,385.6 287.2,385.3 288.1,384.8 289.1,384.2 290.1,383.6 291.1,382.9 292.1,382.0 293.1,381.1 294.0,380.0 295.0,378.8 296.0,377.6 297.0,376.3 298.0,374.8 298.9,373.2 299.9,371.6 300.9,370.1 301.9,368.6 302.9,367.1 303.8,365.4 304.8,363.4 305.8,361.4 306.8,359.4 307.8,357.4 308.7,355.4 309.7,353.2 310.7,350.8 311.7,348.6 312.7,346.6 313.7,344.9 314.6,343.3 315.6,341.4 316.6,339.4 317.6,337.3 318.6,335.4 319.5,333.7 320.5,332.1 321.5,330.4 322.5,328.6 323.5,327.0 324.4,325.7 325.4,324.7 326.4,323.8 327.4,322.8 328.4,321.5 329.3,320.2 330.3,319.1 331.3,318.0 332.3,317.0 333.3,315.9 334.3,314.8 335.2,313.7 336.2,312.8 337.2,312.1 338.2,311.4 339.2,310.7 340.1,309.9 341.1,309.0 342.1,308.2 343.1,307.6 344.1,306.9 345.0,306.3 346.0,305.7 347.0,305.1 348.0,304.6 349.0,304.2 350.0,303.9 350.9,303.6 351.9,303.3 352.9,302.9 353.9,302.6 354.9,302.3 355.8,302.1 356.8,301.8 357.8,301.5 358.8,301.3 359.8,301.1 360.7,300.9 361.7,300.8 362.7,300.7 363.7,300.5 364.7,300.3 365.6,300.1 366.6,300.0 367.6,299.9 368.6,299.7 369.6,299.6 370.6,299.4 371.5,299.3 372.5,299.2 373.5,299.2 374.5,299.1 375.5,299.0 376.4,299.0 377.4,298.9 378.4,298.8" fill="none" stroke="#88c2ff" stroke-width="0.9" stroke-dasharray="1.2,0.9"/>
<path d="M280.3,386.6 281.3,386.5 282.3,386.4 283.2,386.2 284.2,385.9 285.2,385.6 286.2,385.3 287.2,384.8 288.1,384.3 289.1,383.7 290.1,383.0 291.1,382.2 292.1,381.3 293.1,380.3 294.0,379.1 295.0,377.8 296.0,376.6 297.0,375.2 298.0,373.6 298.9,372.0 299.9,370.4 300.9,368.9 301.9,367.2 302.9,365.3 303.8,363.4 304.8,361.7 305.8,360.0 306.8,358.1 307.8,356.0 308.7,354.3 309.7,352.8 310.7,351.1 311.7,349.2 312.7,347.2 313.7,345.5 314.6,343.8 315.6,341.7 316.6,339.3 317.6,337.1 318.6,335.3 319.5,333.5 320.5,331.5 321.5,329.7 322.5,328.4 323.5,327.4 324.4,326.2 325.4,324.9 326.4,323.7 327.4,322.8 328.4,321.8 329.3,320.5 330.3,319.1 331.3,318.0 332.3,317.0 333.3,316.0 334.3,314.8 335.2,313.7 336.2,312.9 337.2,312.2 338.2,311.4 339.2,310.4 340.1,309.6 341.1,309.0 342.1,308.3 343.1,307.6 344.1,306.8 345.0,306.3 346.0,306.0 347.0,305.6 348.0,305.1 349.0,304.7 350.0,304.5 350.9,304.2 351.9,303.9 352.9,303.5 353.9,303.1 354.9,302.8 355.8,302.5 356.8,302.1 357.8,301.7 358.8,301.5 359.8,301.3 360.7,301.1 361.7,300.8 362.7,300.7 363.7,300.5 364.7,300.4 365.6,300.3 366.6,300.1 367.6,300.0 368.6,299.9 369.6,299.8 370.6,299.6 371.5,299.5 372.5,299.5 373.5,299.4 374.5,299.3 375.5,299.2 376.4,299.2 377.4,299.1 378.4,299.0" fill="none" stroke="#88c2ff" stroke-width="0.9" stroke-dasharray="1.2,0.9"/>
<path d="M280.3,386.6 281.3,386.5 282.3,386.4 283.2,386.3 284.2,386.1 285.2,385.8 286.2,385.5 287.2,385.1 288.1,384.6 289.1,383.9 290.1,383.2 291.1,382.5 292.1,381.6 293.1,380.6 294.0,379.5 295.0,378.3 296.0,377.0 297.0,375.6 298.0,374.0 298.9,372.4 299.9,370.9 300.9,369.6 301.9,368.0 302.9,366.3 303.8,364.6 304.8,362.8 305.8,361.0 306.8,358.7 307.8,356.2 308.7,354.0 309.7,352.1 310.7,350.3 311.7,348.3 312.7,346.0 313.7,344.0 314.6,342.2 315.6,340.4 316.6,338.2 317.6,336.2 318.6,334.7 319.5,333.6 320.5,332.5 321.5,331.1 322.5,329.5 323.5,328.0 324.4,326.6 325.4,325.0 326.4,323.2 327.4,321.5 328.4,320.3 329.3,319.3 330.3,318.1 331.3,316.8 332.3,315.5 333.3,314.4 334.3,313.4 335.2,312.4 336.2,311.3 337.2,310.5 338.2,310.0 339.2,309.6 340.1,309.1 341.1,308.4 342.1,307.7 343.1,307.1 344.1,306.5 345.0,305.8 346.0,305.2 347.0,304.6 348.0,304.2 349.0,303.9 350.0,303.4 350.9,302.9 351.9,302.4 352.9,302.1 353.9,301.7 354.9,301.4 355.8,301.1 356.8,300.9 357.8,300.8 358.8,300.7 359.8,300.5 360.7,300.2 361.7,300.1 362.7,299.9 363.7,299.7 364.7,299.6 365.6,299.4 366.6,299.3 367.6,299.2 368.6,299.1 369.6,298.9 370.6,298.8 371.5,298.7 372.5,298.6 373.5,298.5 374.5,298.5 375.5,298.4 376.4,298.4 377.4,298.4 378.4,298.3" fill="none" stroke="#88c2ff" stroke-width="0.9" stroke-dasharray="1.2,0.9"/>
<path d="M280.3,386.6 281.3,386.6 282.3,386.6 283.2,386.6 284.2,386.6 285.2,386.5 286.2,386.4 287.2,386.3 288.1,386.0 289.1,385.6 290.1,385.2 291.1,384.6 292.1,383.8 293.1,383.0 294.0,382.1 295.0,381.1 296.0,380.1 297.0,378.8 298.0,377.4 298.9,375.9 299.9,374.4 300.9,372.8 301.9,371.1 302.9,369.3 303.8,367.6 304.8,366.1 305.8,364.6 306.8,362.8 307.8,360.6 308.7,358.3 309.7,356.2 310.7,354.2 311.7,352.1 312.7,349.8 313.7,347.6 314.6,345.7 315.6,344.0 316.6,342.2 317.6,340.1 318.6,337.7 319.5,335.6 320.5,333.8 321.5,332.3 322.5,330.7 323.5,329.1 324.4,327.7 325.4,326.6 326.4,325.6 327.4,324.3 328.4,322.8 329.3,321.3 330.3,320.0 331.3,319.0 332.3,318.1 333.3,317.0 334.3,315.9 335.2,314.9 336.2,314.1 337.2,313.2 338.2,312.1 339.2,311.0 340.1,309.9 341.1,309.1 342.1,308.5 343.1,307.9 344.1,307.2 345.0,306.5 346.0,306.0 347.0,305.5 348.0,305.0 349.0,304.4 350.0,303.9 350.9,303.5 351.9,303.2 352.9,302.9 353.9,302.6 354.9,302.3 355.8,302.0 356.8,301.8 357.8,301.5 358.8,301.2 359.8,300.9 360.7,300.7 361.7,300.5 362.7,300.3 363.7,300.1 364.7,300.0 365.6,299.8 366.6,299.6 367.6,299.4 368.6,299.3 369.6,299.1 370.6,299.0 371.5,298.9 372.5,298.8 373.5,298.8 374.5,298.7 375.5,298.6 376.4,298.5 377.4,298.5 378.4,298.4" fill="none" stroke="#88c2ff" stroke-width="0.9" stroke-dasharray="1.2,0.9"/>
<path d="M280.3,386.6 281.3,386.5 282.3,386.5 283.2,386.4 284.2,386.3 285.2,386.2 286.2,385.9 287.2,385.6 288.1,385.3 289.1,384.8 290.1,384.2 291.1,383.5 292.1,382.7 293.1,381.7 294.0,380.6 295.0,379.5 296.0,378.4 297.0,377.2 298.0,375.8 298.9,374.3 299.9,372.9 300.9,371.5 301.9,369.8 302.9,367.8 303.8,365.8 304.8,363.8 305.8,362.0 306.8,360.0 307.8,357.8 308.7,355.6 309.7,353.7 310.7,351.9 311.7,350.0 312.7,347.8 313.7,345.5 314.6,343.5 315.6,341.6 316.6,339.6 317.6,337.4 318.6,335.3 319.5,333.6 320.5,332.2 321.5,330.9 322.5,329.4 323.5,327.9 324.4,326.7 325.4,325.7 326.4,324.5 327.4,323.0 328.4,321.5 329.3,320.2 330.3,319.2 331.3,318.1 332.3,316.8 333.3,315.6 334.3,314.7 335.2,313.9 336.2,313.1 337.2,312.1 338.2,311.1 339.2,310.2 340.1,309.5 341.1,308.7 342.1,307.9 343.1,307.0 344.1,306.3 345.0,305.8 346.0,305.4 347.0,304.9 348.0,304.4 349.0,304.0 350.0,303.8 350.9,303.5 351.9,303.1 352.9,302.7 353.9,302.3 354.9,302.1 355.8,301.8 356.8,301.5 357.8,301.2 358.8,301.0 359.8,300.9 360.7,300.7 361.7,300.5 362.7,300.3 363.7,300.1 364.7,300.0 365.6,299.8 366.6,299.6 367.6,299.5 368.6,299.3 369.6,299.2 370.6,299.1 371.5,299.0 372.5,298.9 373.5,298.8 374.5,298.8 375.5,298.7 376.4,298.7 377.4,298.6 378.4,298.5" fill="none" stroke="#88c2ff" stroke-width="0.9" stroke-dasharray="1.2,0.9"/>
<path d="M280.3,386.6 281.3,386.6 282.3,386.6 283.2,386.6 284.2,386.6 285.2,386.5 286.2,386.5 287.2,386.4 288.1,386.2 289.1,385.9 290.1,385.6 291.1,385.1 292.1,384.6 293.1,384.0 294.0,383.1 295.0,382.3 296.0,381.4 297.0,380.4 298.0,379.1 298.9,377.7 299.9,376.4 300.9,375.0 301.9,373.3 302.9,371.4 303.8,369.6 304.8,368.0 305.8,366.4 306.8,364.6 307.8,362.8 308.7,361.2 309.7,359.8 310.7,358.3 311.7,356.4 312.7,354.4 313.7,352.7 314.6,351.1 315.6,349.2 316.6,347.1 317.6,345.2 318.6,343.7 319.5,342.3 320.5,340.5 321.5,338.7 322.5,337.2 323.5,336.0 324.4,334.5 325.4,332.7 326.4,330.9 327.4,329.4 328.4,328.1 329.3,326.5 330.3,324.9 331.3,323.4 332.3,322.4 333.3,321.4 334.3,320.3 335.2,319.2 336.2,318.3 337.2,317.6 338.2,316.8 339.2,315.8 340.1,314.8 341.1,314.1 342.1,313.4 343.1,312.7 344.1,311.9 345.0,311.2 346.0,310.7 347.0,310.2 348.0,309.7 349.0,309.1 350.0,308.6 350.9,308.2 351.9,307.8 352.9,307.2 353.9,306.7 354.9,306.3 355.8,305.9 356.8,305.5 357.8,305.0 358.8,304.6 359.8,304.3 360.7,304.1 361.7,303.8 362.7,303.5 363.7,303.2 364.7,303.0 365.6,302.7 366.6,302.5 367.6,302.2 368.6,302.0 369.6,301.9 370.6,301.7 371.5,301.5 372.5,301.3 373.5,301.2 374.5,301.1 375.5,301.0 376.4,300.8 377.4,300.7 378.4,300.6" fill="none" stroke="#88c2ff" stroke-width="0.9" stroke-dasharray="1.2,0.9"/>
<path d="M280.3,386.6 281.3,386.6 282.3,386.6 283.2,386.6 284.2,386.6 285.2,386.6 286.2,386.5 287.2,386.4 288.1,386.3 289.1,386.0 290.1,385.6 291.1,385.2 292.1,384.5 293.1,383.8 294.0,383.0 295.0,382.1 296.0,381.1 297.0,379.9 298.0,378.7 298.9,377.4 299.9,376.0 300.9,374.6 301.9,373.3 302.9,371.9 303.8,370.4 304.8,368.7 305.8,366.8 306.8,364.8 307.8,362.8 308.7,360.9 309.7,359.0 310.7,357.2 311.7,355.3 312.7,353.3 313.7,351.3 314.6,349.3 315.6,347.5 316.6,345.8 317.6,344.1 318.6,342.2 319.5,340.1 320.5,338.0 321.5,335.9 322.5,334.1 323.5,332.5 324.4,331.1 325.4,329.8 326.4,328.4 327.4,327.0 328.4,325.7 329.3,324.5 330.3,323.5 331.3,322.5 332.3,321.4 333.3,320.3 334.3,319.1 335.2,318.0 336.2,316.9 337.2,316.0 338.2,315.2 339.2,314.6 340.1,313.8 341.1,313.1 342.1,312.3 343.1,311.6 344.1,310.9 345.0,310.2 346.0,309.6 347.0,308.9 348.0,308.3 349.0,307.6 350.0,307.0 350.9,306.4 351.9,306.0 352.9,305.6 353.9,305.2 354.9,304.9 355.8,304.5 356.8,304.1 357.8,303.7 358.8,303.4 359.8,303.1 360.7,302.9 361.7,302.6 362.7,302.4 363.7,302.1 364.7,301.9 365.6,301.7 366.6,301.5 367.6,301.4 368.6,301.2 369.6,301.1 370.6,300.9 371.5,300.8 372.5,300.6 373.5,300.5 374.5,300.4 375.5,300.2 376.4,300.1 377.4,300.0 378.4,299.9" fill="none" stroke="#88c2ff" stroke-width="0.9" stroke-dasharray="1.2,0.9"/>
<path d="M280.3,386.6 281.3,386.6 282.3,386.6 283.2,386.5 284.2,386.5 285.2,386.4 286.2,386.3 287.2,386.1 288.1,385.8 289.1,385.4 290.1,384.9 291.1,384.3 292.1,383.6 293.1,382.8 294.0,381.8 295.0,380.8 296.0,379.6 297.0,378.3 298.0,377.0 298.9,375.5 299.9,373.9 300.9,372.3 301.9,370.6 302.9,368.8 303.8,367.0 304.8,365.1 305.8,363.2 306.8,361.3 307.8,359.3 308.7,357.4 309.7,355.4 310.7,353.4 311.7,351.4 312.7,349.5 313.7,347.5 314.6,345.6 315.6,343.7 316.6,341.9 317.6,340.0 318.6,338.3 319.5,336.5 320.5,334.8 321.5,333.1 322.5,331.5 323.5,330.0 324.4,328.5 325.4,327.0 326.4,325.6 327.4,324.2 328.4,322.9 329.3,321.6 330.3,320.4 331.3,319.2 332.3,318.1 333.3,317.1 334.3,316.0 335.2,315.1 336.2,314.1 337.2,313.2 338.2,312.4 339.2,311.6 340.1,310.8 341.1,310.1 342.1,309.4 343.1,308.7 344.1,308.1 345.0,307.5 346.0,306.9 347.0,306.4 348.0,305.9 349.0,305.4 350.0,305.0 350.9,304.6 351.9,304.2 352.9,303.8 353.9,303.4 354.9,303.1 355.8,302.8 356.8,302.5 357.8,302.2 358.8,302.0 359.8,301.7 360.7,301.5 361.7,301.3 362.7,301.1 363.7,300.9 364.7,300.7 365.6,300.5 366.6,300.4 367.6,300.2 368.6,300.1 369.6,300.0 370.6,299.8 371.5,299.7 372.5,299.6 373.5,299.5 374.5,299.4 375.5,299.3 376.4,299.3 377.4,299.2 378.4,299.1" fill="none" stroke="#c4e2ff" stroke-width="2.6"/>
<path d="M24.4,524.5 25.4,524.5 26.4,524.5 27.3,524.5 28.3,524.4 29.3,524.3 30.3,524.2 31.3,524.0 32.2,523.7 33.2,523.2 34.2,522.7 35.2,522.1 36.2,521.4 37.2,520.4 38.1,519.4 39.1,518.3 40.1,517.0 41.1,515.7 42.1,514.2 43.0,512.6 44.0,511.0 45.0,509.4 46.0,507.7 47.0,505.9 47.9,504.0 48.9,502.0 49.9,500.0 50.9,498.1 51.9,496.2 52.8,494.2 53.8,492.1 54.8,490.2 55.8,488.3 56.8,486.5 57.8,484.6 58.7,482.5 59.7,480.3 60.7,478.3 61.7,476.3 62.7,474.5 63.6,472.6 64.6,470.7 65.6,468.9 66.6,467.3 67.6,465.9 68.5,464.4 69.5,462.9 70.5,461.4 71.5,459.9 72.5,458.6 73.5,457.4 74.4,456.2 75.4,455.0 76.4,453.9 77.4,452.9 78.4,452.1 79.3,451.3 80.3,450.4 81.3,449.5 82.3,448.6 83.3,447.8 84.2,447.1 85.2,446.3 86.2,445.5 87.2,444.8 88.2,444.2 89.1,443.6 90.1,443.1 91.1,442.6 92.1,442.1 93.1,441.6 94.1,441.2 95.0,440.8 96.0,440.4 97.0,440.0 98.0,439.7 99.0,439.3 99.9,439.1 100.9,438.9 101.9,438.6 102.9,438.4 103.9,438.2 104.8,438.0 105.8,437.9 106.8,437.7 107.8,437.5 108.8,437.4 109.7,437.2 110.7,437.1 111.7,437.0 112.7,436.9 113.7,436.8 114.7,436.7 115.6,436.6 116.6,436.5 117.6,436.4 118.6,436.4 119.6,436.3 120.5,436.2 121.5,436.2 122.5,436.1" fill="none" stroke="#88c2ff" stroke-width="0.9" stroke-dasharray="1.2,0.9"/>
<path d="M24.4,524.5 25.4,524.5 26.4,524.4 27.3,524.2 28.3,524.1 29.3,523.8 30.3,523.5 31.3,523.2 32.2,522.8 33.2,522.2 34.2,521.6 35.2,520.9 36.2,520.1 37.2,519.2 38.1,518.3 39.1,517.2 40.1,516.0 41.1,514.7 42.1,513.4 43.0,511.9 44.0,510.4 45.0,508.8 46.0,507.0 47.0,505.2 47.9,503.5 48.9,501.8 49.9,500.0 50.9,498.0 51.9,496.0 52.8,494.1 53.8,492.1 54.8,490.1 55.8,487.9 56.8,485.7 57.8,483.7 58.7,481.9 59.7,480.1 60.7,478.3 61.7,476.4 62.7,474.5 63.6,472.9 64.6,471.2 65.6,469.5 66.6,467.7 67.6,466.0 68.5,464.5 69.5,463.2 70.5,461.9 71.5,460.6 72.5,459.3 73.5,458.2 74.4,457.1 75.4,456.0 76.4,454.8 77.4,453.6 78.4,452.5 79.3,451.6 80.3,450.7 81.3,449.8 82.3,448.9 83.3,448.1 84.2,447.4 85.2,446.7 86.2,446.0 87.2,445.3 88.2,444.5 89.1,443.9 90.1,443.3 91.1,442.8 92.1,442.2 93.1,441.7 94.1,441.3 95.0,440.9 96.0,440.6 97.0,440.2 98.0,439.8 99.0,439.4 99.9,439.1 100.9,438.9 101.9,438.6 102.9,438.4 103.9,438.1 104.8,437.9 105.8,437.8 106.8,437.6 107.8,437.4 108.8,437.3 109.7,437.1 110.7,437.0 111.7,436.8 112.7,436.7 113.7,436.6 114.7,436.5 115.6,436.4 116.6,436.3 117.6,436.3 118.6,436.2 119.6,436.1 120.5,436.1 121.5,436.1 122.5,436.1" fill="none" stroke="#88c2ff" stroke-width="0.9" stroke-dasharray="1.2,0.9"/>
<path d="M24.4,524.5 25.4,524.5 26.4,524.4 27.3,524.3 28.3,524.2 29.3,524.0 30.3,523.8 31.3,523.5 32.2,523.1 33.2,522.6 34.2,522.1 35.2,521.4 36.2,520.7 37.2,519.8 38.1,518.8 39.1,517.7 40.1,516.4 41.1,515.1 42.1,513.6 43.0,512.2 44.0,510.8 45.0,509.3 46.0,507.7 47.0,505.9 47.9,504.1 48.9,502.1 49.9,500.3 50.9,498.5 51.9,496.7 52.8,494.9 53.8,493.0 54.8,491.0 55.8,488.9 56.8,486.8 57.8,484.7 58.7,482.6 59.7,480.7 60.7,478.8 61.7,477.0 62.7,475.3 63.6,473.5 64.6,471.9 65.6,470.3 66.6,468.8 67.6,467.3 68.5,465.8 69.5,464.4 70.5,463.0 71.5,461.7 72.5,460.5 73.5,459.3 74.4,458.2 75.4,456.9 76.4,455.7 77.4,454.4 78.4,453.2 79.3,452.2 80.3,451.3 81.3,450.4 82.3,449.6 83.3,448.9 84.2,448.1 85.2,447.3 86.2,446.5 87.2,445.8 88.2,445.3 89.1,444.8 90.1,444.3 91.1,443.9 92.1,443.4 93.1,442.9 94.1,442.4 95.0,441.9 96.0,441.5 97.0,441.1 98.0,440.8 99.0,440.4 99.9,440.1 100.9,439.8 101.9,439.5 102.9,439.2 103.9,439.0 104.8,438.7 105.8,438.5 106.8,438.3 107.8,438.2 108.8,438.0 109.7,437.9 110.7,437.7 111.7,437.6 112.7,437.5 113.7,437.4 114.7,437.2 115.6,437.1 116.6,437.0 117.6,436.9 118.6,436.8 119.6,436.8 120.5,436.7 121.5,436.6 122.5,436.6" fill="none" stroke="#88c2ff" stroke-width="0.9" stroke-dasharray="1.2,0.9"/>
<path d="M24.4,524.5 25.4,524.5 26.4,524.4 27.3,524.2 28.3,524.0 29.3,523.7 30.3,523.4 31.3,522.9 32.2,522.4 33.2,521.8 34.2,521.0 35.2,520.2 36.2,519.2 37.2,518.2 38.1,517.0 39.1,515.8 40.1,514.3 41.1,512.8 42.1,511.3 43.0,509.6 44.0,507.8 45.0,506.0 46.0,504.1 47.0,502.3 47.9,500.5 48.9,498.5 49.9,496.5 50.9,494.6 51.9,492.8 52.8,490.7 53.8,488.5 54.8,486.4 55.8,484.4 56.8,482.5 57.8,480.4 58.7,478.4 59.7,476.5 60.7,474.8 61.7,473.1 62.7,471.2 63.6,469.4 64.6,467.6 65.6,466.0 66.6,464.3 67.6,462.5 68.5,460.9 69.5,459.5 70.5,458.2 71.5,456.8 72.5,455.5 73.5,454.4 74.4,453.3 75.4,452.3 76.4,451.1 77.4,450.0 78.4,449.1 79.3,448.2 80.3,447.3 81.3,446.4 82.3,445.7 83.3,445.1 84.2,444.5 85.2,443.9 86.2,443.3 87.2,442.7 88.2,442.3 89.1,441.7 90.1,441.2 91.1,440.7 92.1,440.3 93.1,439.9 94.1,439.5 95.0,439.2 96.0,438.9 97.0,438.6 98.0,438.4 99.0,438.1 99.9,437.8 100.9,437.6 101.9,437.4 102.9,437.1 103.9,436.9 104.8,436.7 105.8,436.6 106.8,436.5 107.8,436.4 108.8,436.2 109.7,436.1 110.7,436.1 111.7,436.1 112.7,436.1 113.7,436.1 114.7,436.1 115.6,436.1 116.6,436.1 117.6,436.1 118.6,436.1 119.6,436.1 120.5,436.1 121.5,436.1 122.5,436.1" fill="none" stroke="#88c2ff" stroke-width="0.9" stroke-dasharray="1.2,0.9"/>
<path d="M24.4,524.5 25.4,524.5 26.4,524.4 27.3,524.2 28.3,524.0 29.3,523.8 30.3,523.6 31.3,523.2 32.2,522.8 33.2,522.3 34.2,521.8 35.2,521.2 36.2,520.5 37.2,519.7 38.1,518.8 39.1,517.8 40.1,516.7 41.1,515.5 42.1,514.1 43.0,512.6 44.0,511.1 45.0,509.6 46.0,508.0 47.0,506.3 47.9,504.5 48.9,502.7 49.9,500.8 50.9,498.9 51.9,496.9 52.8,494.9 53.8,493.2 54.8,491.5 55.8,489.9 56.8,488.0 57.8,486.0 58.7,484.2 59.7,482.4 60.7,480.6 61.7,478.7 62.7,476.8 63.6,475.2 64.6,473.7 65.6,472.1 66.6,470.2 67.6,468.4 68.5,466.7 69.5,465.1 70.5,463.7 71.5,462.2 72.5,460.8 73.5,459.6 74.4,458.5 75.4,457.4 76.4,456.2 77.4,455.0 78.4,453.9 79.3,453.0 80.3,452.1 81.3,451.3 82.3,450.4 83.3,449.6 84.2,448.8 85.2,448.1 86.2,447.3 87.2,446.4 88.2,445.7 89.1,445.1 90.1,444.5 91.1,443.9 92.1,443.4 93.1,442.8 94.1,442.3 95.0,441.9 96.0,441.4 97.0,441.0 98.0,440.6 99.0,440.3 99.9,440.0 100.9,439.7 101.9,439.4 102.9,439.1 103.9,438.9 104.8,438.7 105.8,438.4 106.8,438.2 107.8,438.0 108.8,437.8 109.7,437.7 110.7,437.5 111.7,437.3 112.7,437.2 113.7,437.0 114.7,436.9 115.6,436.8 116.6,436.7 117.6,436.6 118.6,436.5 119.6,436.4 120.5,436.3 121.5,436.3 122.5,436.2" fill="none" stroke="#88c2ff" stroke-width="0.9" stroke-dasharray="1.2,0.9"/>
<path d="M24.4,524.5 25.4,524.5 26.4,524.5 27.3,524.5 28.3,524.4 29.3,524.4 30.3,524.2 31.3,524.1 32.2,523.8 33.2,523.4 34.2,523.0 35.2,522.5 36.2,521.8 37.2,521.1 38.1,520.2 39.1,519.2 40.1,518.1 41.1,516.9 42.1,515.6 43.0,514.1 44.0,512.6 45.0,511.1 46.0,509.5 47.0,507.8 47.9,506.1 48.9,504.4 49.9,502.9 50.9,501.1 51.9,499.2 52.8,497.3 53.8,495.5 54.8,493.6 55.8,491.5 56.8,489.3 57.8,487.2 58.7,485.3 59.7,483.4 60.7,481.4 61.7,479.5 62.7,477.8 63.6,476.3 64.6,474.8 65.6,473.1 66.6,471.5 67.6,470.1 68.5,468.7 69.5,467.2 70.5,465.7 71.5,464.4 72.5,463.2 73.5,462.0 74.4,460.7 75.4,459.4 76.4,458.4 77.4,457.4 78.4,456.3 79.3,455.1 80.3,454.1 81.3,453.2 82.3,452.3 83.3,451.3 84.2,450.4 85.2,449.7 86.2,449.0 87.2,448.4 88.2,447.8 89.1,447.2 90.1,446.7 91.1,446.2 92.1,445.7 93.1,445.2 94.1,444.7 95.0,444.2 96.0,443.8 97.0,443.3 98.0,442.9 99.0,442.5 99.9,442.2 100.9,441.9 101.9,441.5 102.9,441.2 103.9,440.9 104.8,440.7 105.8,440.5 106.8,440.2 107.8,440.0 108.8,439.8 109.7,439.6 110.7,439.4 111.7,439.2 112.7,439.1 113.7,438.9 114.7,438.8 115.6,438.6 116.6,438.5 117.6,438.4 118.6,438.3 119.6,438.2 120.5,438.1 121.5,437.9 122.5,437.9" fill="none" stroke="#88c2ff" stroke-width="0.9" stroke-dasharray="1.2,0.9"/>
<path d="M24.4,524.5 25.4,524.5 26.4,524.5 27.3,524.5 28.3,524.5 29.3,524.5 30.3,524.5 31.3,524.3 32.2,524.1 33.2,523.8 34.2,523.4 35.2,522.9 36.2,522.2 37.2,521.4 38.1,520.6 39.1,519.5 40.1,518.3 41.1,517.0 42.1,515.6 43.0,514.2 44.0,512.7 45.0,511.0 46.0,509.3 47.0,507.5 47.9,505.7 48.9,503.9 49.9,501.9 50.9,499.7 51.9,497.6 52.8,495.7 53.8,493.9 54.8,492.0 55.8,490.1 56.8,488.1 57.8,486.2 58.7,484.4 59.7,482.5 60.7,480.5 61.7,478.4 62.7,476.4 63.6,474.7 64.6,473.1 65.6,471.4 66.6,469.7 67.6,468.1 68.5,466.5 69.5,465.0 70.5,463.5 71.5,462.0 72.5,460.4 73.5,458.9 74.4,457.6 75.4,456.4 76.4,455.3 77.4,454.1 78.4,453.0 79.3,452.1 80.3,451.2 81.3,450.3 82.3,449.3 83.3,448.3 84.2,447.5 85.2,446.8 86.2,446.1 87.2,445.5 88.2,444.9 89.1,444.3 90.1,443.7 91.1,443.3 92.1,442.8 93.1,442.3 94.1,441.8 95.0,441.3 96.0,440.9 97.0,440.6 98.0,440.2 99.0,439.9 99.9,439.6 100.9,439.3 101.9,439.0 102.9,438.8 103.9,438.5 104.8,438.2 105.8,438.0 106.8,437.8 107.8,437.6 108.8,437.4 109.7,437.3 110.7,437.1 111.7,437.0 112.7,436.9 113.7,436.8 114.7,436.7 115.6,436.5 116.6,436.4 117.6,436.4 118.6,436.3 119.6,436.2 120.5,436.2 121.5,436.1 122.5,436.1" fill="none" stroke="#88c2ff" stroke-width="0.9" stroke-dasharray="1.2,0.9"/>
<path d="M24.4,524.5 25.4,524.5 26.4,524.4 27.3,524.3 28.3,524.2 29.3,524.0 30.3,523.7 31.3,523.4 32.2,523.0 33.2,522.5 34.2,521.9 35.2,521.2 36.2,520.4 37.2,519.6 38.1,518.6 39.1,517.5 40.1,516.2 41.1,515.0 42.1,513.6 43.0,512.0 44.0,510.3 45.0,508.7 46.0,507.1 47.0,505.5 47.9,503.8 48.9,502.0 49.9,500.1 50.9,498.1 51.9,496.3 52.8,494.3 53.8,492.3 54.8,490.3 55.8,488.4 56.8,486.7 57.8,484.8 58.7,482.8 59.7,480.6 60.7,478.5 61.7,476.6 62.7,474.8 63.6,473.0 64.6,471.3 65.6,469.6 66.6,468.0 67.6,466.6 68.5,465.0 69.5,463.4 70.5,461.8 71.5,460.5 72.5,459.4 73.5,458.3 74.4,457.2 75.4,456.0 76.4,454.9 77.4,453.9 78.4,452.9 79.3,451.8 80.3,450.8 81.3,449.9 82.3,449.1 83.3,448.4 84.2,447.6 85.2,446.8 86.2,446.0 87.2,445.2 88.2,444.6 89.1,444.0 90.1,443.4 91.1,442.8 92.1,442.3 93.1,441.9 94.1,441.5 95.0,441.1 96.0,440.6 97.0,440.2 98.0,439.9 99.0,439.6 99.9,439.4 100.9,439.1 101.9,438.8 102.9,438.6 103.9,438.4 104.8,438.2 105.8,437.9 106.8,437.7 107.8,437.6 108.8,437.4 109.7,437.3 110.7,437.1 111.7,437.0 112.7,436.9 113.7,436.7 114.7,436.6 115.6,436.5 116.6,436.4 117.6,436.3 118.6,436.3 119.6,436.2 120.5,436.2 121.5,436.1 122.5,436.1" fill="none" stroke="#88c2ff" stroke-width="0.9" stroke-dasharray="1.2,0.9"/>
<path d="M24.4,524.5 25.4,524.5 26.4,524.5 27.3,524.5 28.3,524.4 29.3,524.3 30.3,524.2 31.3,524.0 32.2,523.7 33.2,523.3 34.2,522.8 35.2,522.2 36.2,521.5 37.2,520.7 38.1,519.7 39.1,518.7 40.1,517.5 41.1,516.3 42.1,514.9 43.0,513.4 44.0,511.9 45.0,510.2 46.0,508.5 47.0,506.8 47.9,504.9 48.9,503.1 49.9,501.2 50.9,499.2 51.9,497.3 52.8,495.3 53.8,493.3 54.8,491.3 55.8,489.4 56.8,487.4 57.8,485.5 58.7,483.6 59.7,481.7 60.7,479.8 61.7,478.0 62.7,476.2 63.6,474.4 64.6,472.7 65.6,471.1 66.6,469.5 67.6,467.9 68.5,466.4 69.5,464.9 70.5,463.5 71.5,462.1 72.5,460.8 73.5,459.6 74.4,458.3 75.4,457.2 76.4,456.1 77.4,455.0 78.4,454.0 79.3,453.0 80.3,452.0 81.3,451.2 82.3,450.3 83.3,449.5 84.2,448.7 85.2,448.0 86.2,447.3 87.2,446.6 88.2,446.0 89.1,445.4 90.1,444.9 91.1,444.3 92.1,443.8 93.1,443.4 94.1,442.9 95.0,442.5 96.0,442.1 97.0,441.7 98.0,441.4 99.0,441.0 99.9,440.7 100.9,440.4 101.9,440.1 102.9,439.9 103.9,439.6 104.8,439.4 105.8,439.2 106.8,439.0 107.8,438.8 108.8,438.6 109.7,438.5 110.7,438.3 111.7,438.2 112.7,438.0 113.7,437.9 114.7,437.8 115.6,437.7 116.6,437.6 117.6,437.5 118.6,437.4 119.6,437.3 120.5,437.2 121.5,437.1 122.5,437.1" fill="none" stroke="#c4e2ff" stroke-width="2.6"/>
<path d="M152.4,524.5 153.4,524.4 154.4,524.3 155.3,524.2 156.3,523.9 157.3,523.6 158.3,523.2 159.3,522.8 160.2,522.3 161.2,521.6 162.2,520.9 163.2,520.1 164.2,519.2 165.2,518.2 166.1,517.0 167.1,515.6 168.1,514.2 169.1,512.9 170.1,511.5 171.0,509.9 172.0,508.3 173.0,506.8 174.0,505.6 175.0,504.2 175.9,502.4 176.9,500.2 177.9,498.1 178.9,496.3 179.9,494.5 180.8,492.5 181.8,490.2 182.8,488.2 183.8,486.8 184.8,485.5 185.8,483.8 186.7,481.5 187.7,479.0 188.7,476.9 189.7,475.0 190.7,472.9 191.6,470.5 192.6,468.2 193.6,466.6 194.6,465.6 195.6,464.5 196.5,462.9 197.5,461.1 198.5,459.5 199.5,458.3 200.5,457.1 201.5,455.5 202.4,453.9 203.4,452.6 204.4,452.0 205.4,451.5 206.4,450.9 207.3,450.0 208.3,449.1 209.3,448.5 210.3,448.0 211.3,447.2 212.2,446.2 213.2,445.3 214.2,444.7 215.2,444.4 216.2,444.0 217.1,443.5 218.1,442.9 219.1,442.5 220.1,442.2 221.1,441.8 222.1,441.2 223.0,440.6 224.0,440.1 225.0,439.7 226.0,439.5 227.0,439.1 227.9,438.8 228.9,438.5 229.9,438.3 230.9,438.2 231.9,438.0 232.8,437.7 233.8,437.4 234.8,437.2 235.8,437.1 236.8,436.9 237.7,436.8 238.7,436.6 239.7,436.6 240.7,436.5 241.7,436.5 242.7,436.4 243.6,436.3 244.6,436.2 245.6,436.2 246.6,436.1 247.6,436.1 248.5,436.1 249.5,436.1 250.5,436.1" fill="none" stroke="#88c2ff" stroke-width="0.9" stroke-dasharray="1.2,0.9"/>
<path d="M152.4,524.5 153.4,524.5 154.4,524.3 155.3,524.2 156.3,524.0 157.3,523.7 158.3,523.3 159.3,522.9 160.2,522.4 161.2,521.8 162.2,521.2 163.2,520.3 164.2,519.4 165.2,518.3 166.1,517.2 167.1,515.9 168.1,514.4 169.1,512.8 170.1,511.1 171.0,509.6 172.0,508.2 173.0,506.7 174.0,504.9 175.0,502.8 175.9,500.7 176.9,498.8 177.9,496.9 178.9,495.0 179.9,492.7 180.8,490.4 181.8,488.4 182.8,487.0 183.8,485.9 184.8,484.6 185.8,482.9 186.7,480.9 187.7,479.0 188.7,477.3 189.7,475.8 190.7,473.9 191.6,471.8 192.6,469.5 193.6,467.7 194.6,466.4 195.6,465.4 196.5,464.2 197.5,462.7 198.5,460.9 199.5,459.3 200.5,458.0 201.5,456.7 202.4,455.3 203.4,453.6 204.4,452.0 205.4,450.7 206.4,449.8 207.3,449.2 208.3,448.5 209.3,447.7 210.3,446.8 211.3,446.0 212.2,445.5 213.2,444.9 214.2,444.3 215.2,443.5 216.2,442.7 217.1,442.1 218.1,441.8 219.1,441.6 220.1,441.3 221.1,440.9 222.1,440.6 223.0,440.2 224.0,440.0 225.0,439.8 226.0,439.5 227.0,439.1 227.9,438.6 228.9,438.3 229.9,438.1 230.9,438.0 231.9,437.8 232.8,437.6 233.8,437.4 234.8,437.2 235.8,437.1 236.8,437.0 237.7,436.8 238.7,436.6 239.7,436.4 240.7,436.3 241.7,436.2 242.7,436.1 243.6,436.1 244.6,436.1 245.6,436.1 246.6,436.1 247.6,436.1 248.5,436.1 249.5,436.1 250.5,436.1" fill="none" stroke="#88c2ff" stroke-width="0.9" stroke-dasharray="1.2,0.9"/>
<path d="M152.4,524.5 153.4,524.5 154.4,524.4 155.3,524.3 156.3,524.2 157.3,524.0 158.3,523.8 159.3,523.5 160.2,523.0 161.2,522.5 162.2,521.9 163.2,521.2 164.2,520.5 165.2,519.5 166.1,518.5 167.1,517.2 168.1,515.9 169.1,514.4 170.1,512.8 171.0,511.0 172.0,509.0 173.0,507.1 174.0,505.3 175.0,503.7 175.9,502.2 176.9,500.6 177.9,498.5 178.9,496.1 179.9,493.7 180.8,491.6 181.8,489.9 182.8,488.7 183.8,487.4 184.8,485.8 185.8,483.9 186.7,481.9 187.7,479.8 188.7,478.0 189.7,476.1 190.7,474.0 191.6,471.9 192.6,470.0 193.6,468.3 194.6,466.9 195.6,465.6 196.5,464.0 197.5,462.0 198.5,459.8 199.5,457.7 200.5,456.1 201.5,455.1 202.4,454.4 203.4,453.6 204.4,452.7 205.4,451.5 206.4,450.3 207.3,449.3 208.3,448.5 209.3,447.8 210.3,447.2 211.3,446.5 212.2,445.9 213.2,445.4 214.2,445.0 215.2,444.6 216.2,444.0 217.1,443.3 218.1,442.6 219.1,441.8 220.1,441.3 221.1,441.0 222.1,440.7 223.0,440.4 224.0,440.0 225.0,439.5 226.0,439.0 227.0,438.6 227.9,438.3 228.9,438.0 229.9,437.8 230.9,437.6 231.9,437.4 232.8,437.2 233.8,437.1 234.8,437.0 235.8,436.8 236.8,436.7 237.7,436.5 238.7,436.4 239.7,436.3 240.7,436.3 241.7,436.3 242.7,436.2 243.6,436.2 244.6,436.1 245.6,436.1 246.6,436.1 247.6,436.1 248.5,436.1 249.5,436.1 250.5,436.1" fill="none" stroke="#88c2ff" stroke-width="0.9" stroke-dasharray="1.2,0.9"/>
<path d="M152.4,524.5 153.4,524.5 154.4,524.5 155.3,524.5 156.3,524.5 157.3,524.4 158.3,524.3 159.3,524.1 160.2,523.8 161.2,523.4 162.2,522.9 163.2,522.3 164.2,521.6 165.2,520.7 166.1,519.7 167.1,518.4 168.1,517.0 169.1,515.6 170.1,514.2 171.0,512.7 172.0,511.1 173.0,509.2 174.0,507.1 175.0,505.2 175.9,503.4 176.9,501.4 177.9,499.1 178.9,496.3 179.9,493.5 180.8,491.0 181.8,488.9 182.8,487.0 183.8,484.9 184.8,482.6 185.8,480.5 186.7,478.9 187.7,477.7 188.7,476.4 189.7,474.6 190.7,472.5 191.6,470.3 192.6,468.5 193.6,467.1 194.6,465.7 195.6,464.1 196.5,462.4 197.5,460.8 198.5,459.6 199.5,458.8 200.5,457.9 201.5,456.6 202.4,455.0 203.4,453.4 204.4,452.0 205.4,450.9 206.4,449.7 207.3,448.4 208.3,447.0 209.3,445.8 210.3,445.0 211.3,444.5 212.2,444.0 213.2,443.3 214.2,442.6 215.2,441.9 216.2,441.3 217.1,440.9 218.1,440.5 219.1,439.9 220.1,439.3 221.1,438.8 222.1,438.5 223.0,438.4 224.0,438.2 225.0,438.0 226.0,437.7 227.0,437.5 227.9,437.3 228.9,437.2 229.9,437.0 230.9,436.7 231.9,436.5 232.8,436.2 233.8,436.1 234.8,436.1 235.8,436.1 236.8,436.1 237.7,436.1 238.7,436.1 239.7,436.1 240.7,436.1 241.7,436.1 242.7,436.1 243.6,436.1 244.6,436.1 245.6,436.1 246.6,436.1 247.6,436.1 248.5,436.1 249.5,436.1 250.5,436.1" fill="none" stroke="#88c2ff" stroke-width="0.9" stroke-dasharray="1.2,0.9"/>
<path d="M152.4,524.5 153.4,524.5 154.4,524.5 155.3,524.5 156.3,524.5 157.3,524.4 158.3,524.3 159.3,524.1 160.2,523.8 161.2,523.5 162.2,523.0 163.2,522.5 164.2,521.8 165.2,521.0 166.1,520.1 167.1,519.2 168.1,518.1 169.1,516.7 170.1,515.2 171.0,513.7 172.0,512.3 173.0,510.9 174.0,509.5 175.0,507.7 175.9,505.7 176.9,503.8 177.9,502.0 178.9,500.3 179.9,498.2 180.8,495.7 181.8,492.9 182.8,490.3 183.8,488.0 184.8,486.1 185.8,484.0 186.7,481.8 187.7,479.4 188.7,477.4 189.7,476.0 190.7,474.8 191.6,473.4 192.6,471.7 193.6,469.7 194.6,467.9 195.6,466.4 196.5,465.2 197.5,463.8 198.5,462.2 199.5,460.5 200.5,459.1 201.5,458.1 202.4,457.4 203.4,456.6 204.4,455.7 205.4,454.5 206.4,453.4 207.3,452.6 208.3,451.9 209.3,451.0 210.3,449.9 211.3,448.7 212.2,447.5 213.2,446.7 214.2,446.0 215.2,445.3 216.2,444.6 217.1,443.8 218.1,443.1 219.1,442.6 220.1,442.3 221.1,441.9 222.1,441.4 223.0,440.9 224.0,440.4 225.0,440.0 226.0,439.6 227.0,439.3 227.9,439.0 228.9,438.6 229.9,438.3 230.9,438.1 231.9,438.0 232.8,437.9 233.8,437.8 234.8,437.6 235.8,437.4 236.8,437.3 237.7,437.2 238.7,437.1 239.7,437.0 240.7,436.8 241.7,436.7 242.7,436.6 243.6,436.5 244.6,436.4 245.6,436.3 246.6,436.2 247.6,436.2 248.5,436.1 249.5,436.1 250.5,436.1" fill="none" stroke="#88c2ff" stroke-width="0.9" stroke-dasharray="1.2,0.9"/>
<path d="M152.4,524.5 153.4,524.4 154.4,524.3 155.3,524.2 156.3,523.9 157.3,523.6 158.3,523.2 159.3,522.7 160.2,522.1 161.2,521.4 162.2,520.6 163.2,519.7 164.2,518.7 165.2,517.5 166.1,516.2 167.1,514.6 168.1,513.1 169.1,511.6 170.1,510.1 171.0,508.3 172.0,506.5 173.0,505.1 174.0,503.8 175.0,502.1 175.9,500.1 176.9,498.2 177.9,496.7 178.9,494.9 179.9,492.4 180.8,489.9 181.8,488.0 182.8,486.4 183.8,484.4 184.8,482.0 185.8,479.9 186.7,478.5 187.7,477.0 188.7,474.8 189.7,472.4 190.7,470.4 191.6,468.8 192.6,466.8 193.6,464.4 194.6,462.2 195.6,460.8 196.5,459.8 197.5,458.4 198.5,456.9 199.5,456.0 200.5,455.6 201.5,455.0 202.4,453.9 203.4,452.7 204.4,451.9 205.4,451.3 206.4,450.4 207.3,449.1 208.3,448.1 209.3,447.5 210.3,447.0 211.3,446.2 212.2,445.3 213.2,444.8 214.2,444.5 215.2,444.0 216.2,443.2 217.1,442.5 218.1,441.9 219.1,441.5 220.1,440.9 221.1,440.2 222.1,439.7 223.0,439.5 224.0,439.3 225.0,438.9 226.0,438.6 227.0,438.5 227.9,438.5 228.9,438.3 229.9,438.1 230.9,437.9 231.9,437.8 232.8,437.7 233.8,437.5 234.8,437.3 235.8,437.2 236.8,437.1 237.7,437.1 238.7,436.9 239.7,436.8 240.7,436.8 241.7,436.8 242.7,436.7 243.6,436.6 244.6,436.5 245.6,436.4 246.6,436.4 247.6,436.3 248.5,436.2 249.5,436.2 250.5,436.1" fill="none" stroke="#88c2ff" stroke-width="0.9" stroke-dasharray="1.2,0.9"/>
<path d="M152.4,524.5 153.4,524.5 154.4,524.4 155.3,524.3 156.3,524.1 157.3,523.9 158.3,523.6 159.3,523.3 160.2,522.8 161.2,522.3 162.2,521.7 163.2,520.9 164.2,520.0 165.2,519.1 166.1,518.1 167.1,517.1 168.1,516.0 169.1,514.7 170.1,513.2 171.0,511.5 172.0,509.9 173.0,508.2 174.0,506.3 175.0,504.2 175.9,501.8 176.9,499.4 177.9,497.3 178.9,495.6 179.9,494.0 180.8,492.0 181.8,489.8 182.8,487.5 183.8,485.3 184.8,483.5 185.8,481.6 186.7,479.4 187.7,477.0 188.7,474.7 189.7,472.8 190.7,471.5 191.6,470.5 192.6,469.4 193.6,468.0 194.6,466.4 195.6,465.0 196.5,463.8 197.5,462.8 198.5,461.5 199.5,459.9 200.5,458.2 201.5,456.7 202.4,455.7 203.4,454.9 204.4,454.2 205.4,453.3 206.4,452.2 207.3,451.2 208.3,450.3 209.3,449.5 210.3,448.7 211.3,447.7 212.2,446.6 213.2,445.5 214.2,444.6 215.2,444.1 216.2,443.6 217.1,443.1 218.1,442.6 219.1,442.0 220.1,441.5 221.1,441.2 222.1,440.9 223.0,440.5 224.0,440.0 225.0,439.6 226.0,439.2 227.0,438.9 227.9,438.8 228.9,438.6 229.9,438.4 230.9,438.2 231.9,438.1 232.8,437.9 233.8,437.9 234.8,437.7 235.8,437.6 236.8,437.4 237.7,437.2 238.7,437.1 239.7,437.0 240.7,436.9 241.7,436.8 242.7,436.7 243.6,436.6 244.6,436.6 245.6,436.5 246.6,436.5 247.6,436.4 248.5,436.3 249.5,436.3 250.5,436.2" fill="none" stroke="#88c2ff" stroke-width="0.9" stroke-dasharray="1.2,0.9"/>
<path d="M152.4,524.5 153.4,524.5 154.4,524.5 155.3,524.4 156.3,524.3 157.3,524.2 158.3,523.9 159.3,523.6 160.2,523.2 161.2,522.7 162.2,522.1 163.2,521.3 164.2,520.6 165.2,519.8 166.1,518.9 167.1,517.9 168.1,516.5 169.1,515.0 170.1,513.4 171.0,511.8 172.0,510.1 173.0,508.2 174.0,506.1 175.0,504.1 175.9,502.2 176.9,500.3 177.9,498.2 178.9,495.6 179.9,492.8 180.8,490.3 181.8,488.5 182.8,487.2 183.8,486.0 184.8,484.5 185.8,482.7 186.7,480.8 187.7,479.1 188.7,477.5 189.7,475.5 190.7,473.3 191.6,471.0 192.6,469.2 193.6,467.9 194.6,466.7 195.6,465.0 196.5,462.9 197.5,460.5 198.5,458.4 199.5,456.9 200.5,455.9 201.5,454.9 202.4,453.8 203.4,452.9 204.4,452.2 205.4,451.6 206.4,451.0 207.3,450.1 208.3,449.0 209.3,447.9 210.3,447.1 211.3,446.6 212.2,446.2 213.2,445.6 214.2,444.8 215.2,443.9 216.2,443.1 217.1,442.4 218.1,441.8 219.1,441.1 220.1,440.5 221.1,440.1 222.1,439.8 223.0,439.7 224.0,439.5 225.0,439.3 226.0,438.9 227.0,438.5 227.9,438.3 228.9,438.2 229.9,438.1 230.9,437.9 231.9,437.7 232.8,437.6 233.8,437.4 234.8,437.2 235.8,437.1 236.8,436.8 237.7,436.6 238.7,436.4 239.7,436.3 240.7,436.3 241.7,436.3 242.7,436.2 243.6,436.1 244.6,436.1 245.6,436.1 246.6,436.1 247.6,436.1 248.5,436.1 249.5,436.1 250.5,436.1" fill="none" stroke="#88c2ff" stroke-width="0.9" stroke-dasharray="1.2,0.9"/>
<path d="M152.4,524.5 153.4,524.5 154.4,524.5 155.3,524.5 156.3,524.4 157.3,524.3 158.3,524.2 159.3,524.0 160.2,523.7 161.2,523.3 162.2,522.8 163.2,522.2 164.2,521.5 165.2,520.7 166.1,519.7 167.1,518.7 168.1,517.5 169.1,516.3 170.1,514.9 171.0,513.4 172.0,511.9 173.0,510.2 174.0,508.5 175.0,506.8 175.9,504.9 176.9,503.1 177.9,501.2 178.9,499.2 179.9,497.3 180.8,495.3 181.8,493.3 182.8,491.3 183.8,489.4 184.8,487.4 185.8,485.5 186.7,483.6 187.7,481.7 188.7,479.8 189.7,478.0 190.7,476.2 191.6,474.4 192.6,472.7 193.6,471.1 194.6,469.5 195.6,467.9 196.5,466.4 197.5,464.9 198.5,463.5 199.5,462.1 200.5,460.8 201.5,459.6 202.4,458.3 203.4,457.2 204.4,456.1 205.4,455.0 206.4,454.0 207.3,453.0 208.3,452.0 209.3,451.2 210.3,450.3 211.3,449.5 212.2,448.7 213.2,448.0 214.2,447.3 215.2,446.6 216.2,446.0 217.1,445.4 218.1,444.9 219.1,444.3 220.1,443.8 221.1,443.4 222.1,442.9 223.0,442.5 224.0,442.1 225.0,441.7 226.0,441.4 227.0,441.0 227.9,440.7 228.9,440.4 229.9,440.1 230.9,439.9 231.9,439.6 232.8,439.4 233.8,439.2 234.8,439.0 235.8,438.8 236.8,438.6 237.7,438.5 238.7,438.3 239.7,438.2 240.7,438.0 241.7,437.9 242.7,437.8 243.6,437.7 244.6,437.6 245.6,437.5 246.6,437.4 247.6,437.3 248.5,437.2 249.5,437.1 250.5,437.1" fill="none" stroke="#c4e2ff" stroke-width="2.6"/>
</g>
<g>
<path d="M152.4,110.7 153.4,110.7 154.4,110.7 155.3,110.7 156.3,110.6 157.3,110.5 158.3,110.4 159.3,110.2 160.2,109.9 161.2,109.5 162.2,109.0 163.2,108.4 164.2,107.7 165.2,106.9 166.1,106.0 167.1,104.9 168.1,103.7 169.1,102.5 170.1,101.1 171.0,99.6 172.0,98.1 173.0,96.4 174.0,94.7 175.0,93.0 175.9,91.2 176.9,89.3 177.9,87.4 178.9,85.4 179.9,83.5 180.8,81.5 181.8,79.5 182.8,77.6 183.8,75.6 184.8,73.6 185.8,71.7 186.7,69.8 187.7,67.9 188.7,66.0 189.7,64.2 190.7,62.4 191.6,60.6 192.6,58.9 193.6,57.3 194.6,55.7 195.6,54.1 196.5,52.6 197.5,51.1 198.5,49.7 199.5,48.3 200.5,47.0 201.5,45.8 202.4,44.5 203.4,43.4 204.4,42.3 205.4,41.2 206.4,40.2 207.3,39.2 208.3,38.3 209.3,37.4 210.3,36.5 211.3,35.7 212.2,34.9 213.2,34.2 214.2,33.5 215.2,32.9 216.2,32.2 217.1,31.6 218.1,31.1 219.1,30.5 220.1,30.0 221.1,29.6 222.1,29.1 223.0,28.7 224.0,28.3 225.0,27.9 226.0,27.6 227.0,27.2 227.9,26.9 228.9,26.6 229.9,26.4 230.9,26.1 231.9,25.8 232.8,25.6 233.8,25.4 234.8,25.2 235.8,25.0 236.8,24.8 237.7,24.7 238.7,24.5 239.7,24.4 240.7,24.2 241.7,24.1 242.7,24.0 243.6,23.9 244.6,23.8 245.6,23.7 246.6,23.6 247.6,23.5 248.5,23.4 249.5,23.3 250.5,23.3" fill="none" stroke="#ff0008" stroke-width="1.45"/>
<path d="M280.3,110.7 281.3,110.7 282.3,110.7 283.2,110.7 284.2,110.6 285.2,110.5 286.2,110.4 287.2,110.2 288.1,109.9 289.1,109.5 290.1,109.0 291.1,108.4 292.1,107.7 293.1,106.9 294.0,106.0 295.0,104.9 296.0,103.7 297.0,102.5 298.0,101.1 298.9,99.6 299.9,98.1 300.9,96.4 301.9,94.7 302.9,93.0 303.8,91.2 304.8,89.3 305.8,87.4 306.8,85.4 307.8,83.5 308.7,81.5 309.7,79.5 310.7,77.6 311.7,75.6 312.7,73.6 313.7,71.7 314.6,69.8 315.6,67.9 316.6,66.0 317.6,64.2 318.6,62.4 319.5,60.6 320.5,58.9 321.5,57.3 322.5,55.7 323.5,54.1 324.4,52.6 325.4,51.1 326.4,49.7 327.4,48.3 328.4,47.0 329.3,45.8 330.3,44.5 331.3,43.4 332.3,42.3 333.3,41.2 334.3,40.2 335.2,39.2 336.2,38.3 337.2,37.4 338.2,36.5 339.2,35.7 340.1,34.9 341.1,34.2 342.1,33.5 343.1,32.9 344.1,32.2 345.0,31.6 346.0,31.1 347.0,30.5 348.0,30.0 349.0,29.6 350.0,29.1 350.9,28.7 351.9,28.3 352.9,27.9 353.9,27.6 354.9,27.2 355.8,26.9 356.8,26.6 357.8,26.4 358.8,26.1 359.8,25.8 360.7,25.6 361.7,25.4 362.7,25.2 363.7,25.0 364.7,24.8 365.6,24.7 366.6,24.5 367.6,24.4 368.6,24.2 369.6,24.1 370.6,24.0 371.5,23.9 372.5,23.8 373.5,23.7 374.5,23.6 375.5,23.5 376.4,23.4 377.4,23.3 378.4,23.3" fill="none" stroke="#ff0008" stroke-width="1.45"/>
<path d="M24.4,248.6 25.4,248.6 26.4,248.6 27.3,248.6 28.3,248.6 29.3,248.5 30.3,248.3 31.3,248.1 32.2,247.8 33.2,247.4 34.2,247.0 35.2,246.4 36.2,245.6 37.2,244.8 38.1,243.9 39.1,242.8 40.1,241.7 41.1,240.4 42.1,239.0 43.0,237.6 44.0,236.0 45.0,234.4 46.0,232.7 47.0,230.9 47.9,229.1 48.9,227.2 49.9,225.3 50.9,223.4 51.9,221.4 52.8,219.4 53.8,217.5 54.8,215.5 55.8,213.5 56.8,211.6 57.8,209.6 58.7,207.7 59.7,205.8 60.7,203.9 61.7,202.1 62.7,200.3 63.6,198.6 64.6,196.9 65.6,195.2 66.6,193.6 67.6,192.0 68.5,190.5 69.5,189.1 70.5,187.6 71.5,186.3 72.5,185.0 73.5,183.7 74.4,182.5 75.4,181.3 76.4,180.2 77.4,179.1 78.4,178.1 79.3,177.1 80.3,176.2 81.3,175.3 82.3,174.4 83.3,173.6 84.2,172.9 85.2,172.1 86.2,171.4 87.2,170.8 88.2,170.2 89.1,169.6 90.1,169.0 91.1,168.5 92.1,168.0 93.1,167.5 94.1,167.1 95.0,166.6 96.0,166.2 97.0,165.9 98.0,165.5 99.0,165.2 99.9,164.9 100.9,164.6 101.9,164.3 102.9,164.0 103.9,163.8 104.8,163.5 105.8,163.3 106.8,163.1 107.8,162.9 108.8,162.8 109.7,162.6 110.7,162.4 111.7,162.3 112.7,162.2 113.7,162.0 114.7,161.9 115.6,161.8 116.6,161.7 117.6,161.6 118.6,161.5 119.6,161.4 120.5,161.3 121.5,161.3 122.5,161.2" fill="none" stroke="#ff0008" stroke-width="1.45"/>
<path d="M152.4,248.6 153.4,248.6 154.4,248.6 155.3,248.6 156.3,248.6 157.3,248.5 158.3,248.3 159.3,248.1 160.2,247.8 161.2,247.4 162.2,247.0 163.2,246.4 164.2,245.6 165.2,244.8 166.1,243.9 167.1,242.8 168.1,241.7 169.1,240.4 170.1,239.0 171.0,237.6 172.0,236.0 173.0,234.4 174.0,232.7 175.0,230.9 175.9,229.1 176.9,227.2 177.9,225.3 178.9,223.4 179.9,221.4 180.8,219.4 181.8,217.5 182.8,215.5 183.8,213.5 184.8,211.6 185.8,209.6 186.7,207.7 187.7,205.8 188.7,203.9 189.7,202.1 190.7,200.3 191.6,198.6 192.6,196.9 193.6,195.2 194.6,193.6 195.6,192.0 196.5,190.5 197.5,189.1 198.5,187.6 199.5,186.3 200.5,185.0 201.5,183.7 202.4,182.5 203.4,181.3 204.4,180.2 205.4,179.1 206.4,178.1 207.3,177.1 208.3,176.2 209.3,175.3 210.3,174.4 211.3,173.6 212.2,172.9 213.2,172.1 214.2,171.4 215.2,170.8 216.2,170.2 217.1,169.6 218.1,169.0 219.1,168.5 220.1,168.0 221.1,167.5 222.1,167.1 223.0,166.6 224.0,166.2 225.0,165.9 226.0,165.5 227.0,165.2 227.9,164.9 228.9,164.6 229.9,164.3 230.9,164.0 231.9,163.8 232.8,163.5 233.8,163.3 234.8,163.1 235.8,162.9 236.8,162.8 237.7,162.6 238.7,162.4 239.7,162.3 240.7,162.2 241.7,162.0 242.7,161.9 243.6,161.8 244.6,161.7 245.6,161.6 246.6,161.5 247.6,161.4 248.5,161.3 249.5,161.3 250.5,161.2" fill="none" stroke="#ff0008" stroke-width="1.45"/>
<path d="M280.3,248.6 281.3,248.6 282.3,248.6 283.2,248.6 284.2,248.6 285.2,248.5 286.2,248.3 287.2,248.1 288.1,247.8 289.1,247.4 290.1,247.0 291.1,246.4 292.1,245.6 293.1,244.8 294.0,243.9 295.0,242.8 296.0,241.7 297.0,240.4 298.0,239.0 298.9,237.6 299.9,236.0 300.9,234.4 301.9,232.7 302.9,230.9 303.8,229.1 304.8,227.2 305.8,225.3 306.8,223.4 307.8,221.4 308.7,219.4 309.7,217.5 310.7,215.5 311.7,213.5 312.7,211.6 313.7,209.6 314.6,207.7 315.6,205.8 316.6,203.9 317.6,202.1 318.6,200.3 319.5,198.6 320.5,196.9 321.5,195.2 322.5,193.6 323.5,192.0 324.4,190.5 325.4,189.1 326.4,187.6 327.4,186.3 328.4,185.0 329.3,183.7 330.3,182.5 331.3,181.3 332.3,180.2 333.3,179.1 334.3,178.1 335.2,177.1 336.2,176.2 337.2,175.3 338.2,174.4 339.2,173.6 340.1,172.9 341.1,172.1 342.1,171.4 343.1,170.8 344.1,170.2 345.0,169.6 346.0,169.0 347.0,168.5 348.0,168.0 349.0,167.5 350.0,167.1 350.9,166.6 351.9,166.2 352.9,165.9 353.9,165.5 354.9,165.2 355.8,164.9 356.8,164.6 357.8,164.3 358.8,164.0 359.8,163.8 360.7,163.5 361.7,163.3 362.7,163.1 363.7,162.9 364.7,162.8 365.6,162.6 366.6,162.4 367.6,162.3 368.6,162.2 369.6,162.0 370.6,161.9 371.5,161.8 372.5,161.7 373.5,161.6 374.5,161.5 375.5,161.4 376.4,161.3 377.4,161.3 378.4,161.2" fill="none" stroke="#ff0008" stroke-width="1.45"/>
<path d="M24.4,386.6 25.4,386.6 26.4,386.6 27.3,386.5 28.3,386.5 29.3,386.4 30.3,386.3 31.3,386.1 32.2,385.8 33.2,385.4 34.2,384.9 35.2,384.3 36.2,383.6 37.2,382.8 38.1,381.8 39.1,380.8 40.1,379.6 41.1,378.3 42.1,377.0 43.0,375.5 44.0,373.9 45.0,372.3 46.0,370.6 47.0,368.8 47.9,367.0 48.9,365.1 49.9,363.2 50.9,361.3 51.9,359.3 52.8,357.4 53.8,355.4 54.8,353.4 55.8,351.4 56.8,349.5 57.8,347.5 58.7,345.6 59.7,343.7 60.7,341.9 61.7,340.0 62.7,338.3 63.6,336.5 64.6,334.8 65.6,333.1 66.6,331.5 67.6,330.0 68.5,328.5 69.5,327.0 70.5,325.6 71.5,324.2 72.5,322.9 73.5,321.6 74.4,320.4 75.4,319.2 76.4,318.1 77.4,317.1 78.4,316.0 79.3,315.1 80.3,314.1 81.3,313.2 82.3,312.4 83.3,311.6 84.2,310.8 85.2,310.1 86.2,309.4 87.2,308.7 88.2,308.1 89.1,307.5 90.1,306.9 91.1,306.4 92.1,305.9 93.1,305.4 94.1,305.0 95.0,304.6 96.0,304.2 97.0,303.8 98.0,303.4 99.0,303.1 99.9,302.8 100.9,302.5 101.9,302.2 102.9,302.0 103.9,301.7 104.8,301.5 105.8,301.3 106.8,301.1 107.8,300.9 108.8,300.7 109.7,300.5 110.7,300.4 111.7,300.2 112.7,300.1 113.7,300.0 114.7,299.8 115.6,299.7 116.6,299.6 117.6,299.5 118.6,299.4 119.6,299.3 120.5,299.3 121.5,299.2 122.5,299.1" fill="none" stroke="#ff0008" stroke-width="1.45"/>
<path d="M152.4,386.6 153.4,386.6 154.4,386.6 155.3,386.5 156.3,386.5 157.3,386.4 158.3,386.3 159.3,386.1 160.2,385.8 161.2,385.4 162.2,384.9 163.2,384.3 164.2,383.6 165.2,382.8 166.1,381.8 167.1,380.8 168.1,379.6 169.1,378.3 170.1,377.0 171.0,375.5 172.0,373.9 173.0,372.3 174.0,370.6 175.0,368.8 175.9,367.0 176.9,365.1 177.9,363.2 178.9,361.3 179.9,359.3 180.8,357.4 181.8,355.4 182.8,353.4 183.8,351.4 184.8,349.5 185.8,347.5 186.7,345.6 187.7,343.7 188.7,341.9 189.7,340.0 190.7,338.3 191.6,336.5 192.6,334.8 193.6,333.1 194.6,331.5 195.6,330.0 196.5,328.5 197.5,327.0 198.5,325.6 199.5,324.2 200.5,322.9 201.5,321.6 202.4,320.4 203.4,319.2 204.4,318.1 205.4,317.1 206.4,316.0 207.3,315.1 208.3,314.1 209.3,313.2 210.3,312.4 211.3,311.6 212.2,310.8 213.2,310.1 214.2,309.4 215.2,308.7 216.2,308.1 217.1,307.5 218.1,306.9 219.1,306.4 220.1,305.9 221.1,305.4 222.1,305.0 223.0,304.6 224.0,304.2 225.0,303.8 226.0,303.4 227.0,303.1 227.9,302.8 228.9,302.5 229.9,302.2 230.9,302.0 231.9,301.7 232.8,301.5 233.8,301.3 234.8,301.1 235.8,300.9 236.8,300.7 237.7,300.5 238.7,300.4 239.7,300.2 240.7,300.1 241.7,300.0 242.7,299.8 243.6,299.7 244.6,299.6 245.6,299.5 246.6,299.4 247.6,299.3 248.5,299.3 249.5,299.2 250.5,299.1" fill="none" stroke="#ff0008" stroke-width="1.45"/>
<path d="M280.3,386.6 281.3,386.6 282.3,386.6 283.2,386.5 284.2,386.5 285.2,386.4 286.2,386.3 287.2,386.1 288.1,385.8 289.1,385.4 290.1,384.9 291.1,384.3 292.1,383.6 293.1,382.8 294.0,381.8 295.0,380.8 296.0,379.6 297.0,378.3 298.0,377.0 298.9,375.5 299.9,373.9 300.9,372.3 301.9,370.6 302.9,368.8 303.8,367.0 304.8,365.1 305.8,363.2 306.8,361.3 307.8,359.3 308.7,357.4 309.7,355.4 310.7,353.4 311.7,351.4 312.7,349.5 313.7,347.5 314.6,345.6 315.6,343.7 316.6,341.9 317.6,340.0 318.6,338.3 319.5,336.5 320.5,334.8 321.5,333.1 322.5,331.5 323.5,330.0 324.4,328.5 325.4,327.0 326.4,325.6 327.4,324.2 328.4,322.9 329.3,321.6 330.3,320.4 331.3,319.2 332.3,318.1 333.3,317.1 334.3,316.0 335.2,315.1 336.2,314.1 337.2,313.2 338.2,312.4 339.2,311.6 340.1,310.8 341.1,310.1 342.1,309.4 343.1,308.7 344.1,308.1 345.0,307.5 346.0,306.9 347.0,306.4 348.0,305.9 349.0,305.4 350.0,305.0 350.9,304.6 351.9,304.2 352.9,303.8 353.9,303.4 354.9,303.1 355.8,302.8 356.8,302.5 357.8,302.2 358.8,302.0 359.8,301.7 360.7,301.5 361.7,301.3 362.7,301.1 363.7,300.9 364.7,300.7 365.6,300.5 366.6,300.4 367.6,300.2 368.6,300.1 369.6,300.0 370.6,299.8 371.5,299.7 372.5,299.6 373.5,299.5 374.5,299.4 375.5,299.3 376.4,299.3 377.4,299.2 378.4,299.1" fill="none" stroke="#ff0008" stroke-width="1.45"/>
<path d="M24.4,524.5 25.4,524.5 26.4,524.5 27.3,524.5 28.3,524.4 29.3,524.3 30.3,524.2 31.3,524.0 32.2,523.7 33.2,523.3 34.2,522.8 35.2,522.2 36.2,521.5 37.2,520.7 38.1,519.7 39.1,518.7 40.1,517.5 41.1,516.3 42.1,514.9 43.0,513.4 44.0,511.9 45.0,510.2 46.0,508.5 47.0,506.8 47.9,504.9 48.9,503.1 49.9,501.2 50.9,499.2 51.9,497.3 52.8,495.3 53.8,493.3 54.8,491.3 55.8,489.4 56.8,487.4 57.8,485.5 58.7,483.6 59.7,481.7 60.7,479.8 61.7,478.0 62.7,476.2 63.6,474.4 64.6,472.7 65.6,471.1 66.6,469.5 67.6,467.9 68.5,466.4 69.5,464.9 70.5,463.5 71.5,462.1 72.5,460.8 73.5,459.6 74.4,458.3 75.4,457.2 76.4,456.1 77.4,455.0 78.4,454.0 79.3,453.0 80.3,452.0 81.3,451.2 82.3,450.3 83.3,449.5 84.2,448.7 85.2,448.0 86.2,447.3 87.2,446.6 88.2,446.0 89.1,445.4 90.1,444.9 91.1,444.3 92.1,443.8 93.1,443.4 94.1,442.9 95.0,442.5 96.0,442.1 97.0,441.7 98.0,441.4 99.0,441.0 99.9,440.7 100.9,440.4 101.9,440.1 102.9,439.9 103.9,439.6 104.8,439.4 105.8,439.2 106.8,439.0 107.8,438.8 108.8,438.6 109.7,438.5 110.7,438.3 111.7,438.2 112.7,438.0 113.7,437.9 114.7,437.8 115.6,437.7 116.6,437.6 117.6,437.5 118.6,437.4 119.6,437.3 120.5,437.2 121.5,437.1 122.5,437.1" fill="none" stroke="#ff0008" stroke-width="1.45"/>
<path d="M152.4,524.5 153.4,524.5 154.4,524.5 155.3,524.5 156.3,524.4 157.3,524.3 158.3,524.2 159.3,524.0 160.2,523.7 161.2,523.3 162.2,522.8 163.2,522.2 164.2,521.5 165.2,520.7 166.1,519.7 167.1,518.7 168.1,517.5 169.1,516.3 170.1,514.9 171.0,513.4 172.0,511.9 173.0,510.2 174.0,508.5 175.0,506.8 175.9,504.9 176.9,503.1 177.9,501.2 178.9,499.2 179.9,497.3 180.8,495.3 181.8,493.3 182.8,491.3 183.8,489.4 184.8,487.4 185.8,485.5 186.7,483.6 187.7,481.7 188.7,479.8 189.7,478.0 190.7,476.2 191.6,474.4 192.6,472.7 193.6,471.1 194.6,469.5 195.6,467.9 196.5,466.4 197.5,464.9 198.5,463.5 199.5,462.1 200.5,460.8 201.5,459.6 202.4,458.3 203.4,457.2 204.4,456.1 205.4,455.0 206.4,454.0 207.3,453.0 208.3,452.0 209.3,451.2 210.3,450.3 211.3,449.5 212.2,448.7 213.2,448.0 214.2,447.3 215.2,446.6 216.2,446.0 217.1,445.4 218.1,444.9 219.1,444.3 220.1,443.8 221.1,443.4 222.1,442.9 223.0,442.5 224.0,442.1 225.0,441.7 226.0,441.4 227.0,441.0 227.9,440.7 228.9,440.4 229.9,440.1 230.9,439.9 231.9,439.6 232.8,439.4 233.8,439.2 234.8,439.0 235.8,438.8 236.8,438.6 237.7,438.5 238.7,438.3 239.7,438.2 240.7,438.0 241.7,437.9 242.7,437.8 243.6,437.7 244.6,437.6 245.6,437.5 246.6,437.4 247.6,437.3 248.5,437.2 249.5,437.1 250.5,437.1" fill="none" stroke="#ff0008" stroke-width="1.45"/>
</g>
<g filter="url(#bt)">
<path d="M20.00,19.50H127.00M20.00,113.90H127.00" stroke="#3a3a3a" stroke-width="1.0"/>
<path d="M20.50,19.50V113.90M126.50,19.50V113.90" stroke="#5a5a5a" stroke-width="1.0"/>
<line x1="24.40" y1="113.90" x2="24.40" y2="119.50" stroke="#5a5a5a" stroke-width="1.0"/>
<line x1="48.92" y1="113.90" x2="48.92" y2="119.50" stroke="#5a5a5a" stroke-width="1.0"/>
<line x1="73.45" y1="113.90" x2="73.45" y2="119.50" stroke="#5a5a5a" stroke-width="1.0"/>
<line x1="97.97" y1="113.90" x2="97.97" y2="119.50" stroke="#5a5a5a" stroke-width="1.0"/>
<line x1="122.50" y1="113.90" x2="122.50" y2="119.50" stroke="#5a5a5a" stroke-width="1.0"/>
<line x1="16.50" y1="110.70" x2="20.50" y2="110.70" stroke="#3a3a3a" stroke-width="1.0"/>
<line x1="16.50" y1="95.08" x2="20.50" y2="95.08" stroke="#3a3a3a" stroke-width="1.0"/>
<line x1="16.50" y1="79.46" x2="20.50" y2="79.46" stroke="#3a3a3a" stroke-width="1.0"/>
<line x1="16.50" y1="63.84" x2="20.50" y2="63.84" stroke="#3a3a3a" stroke-width="1.0"/>
<line x1="16.50" y1="48.22" x2="20.50" y2="48.22" stroke="#3a3a3a" stroke-width="1.0"/>
<line x1="16.50" y1="32.60" x2="20.50" y2="32.60" stroke="#3a3a3a" stroke-width="1.0"/>
<path d="M148.00,19.50H255.00M148.00,113.90H255.00" stroke="#3a3a3a" stroke-width="1.0"/>
<path d="M148.50,19.50V113.90M254.50,19.50V113.90" stroke="#5a5a5a" stroke-width="1.0"/>
<line x1="152.40" y1="113.90" x2="152.40" y2="119.50" stroke="#5a5a5a" stroke-width="1.0"/>
<line x1="176.93" y1="113.90" x2="176.93" y2="119.50" stroke="#5a5a5a" stroke-width="1.0"/>
<line x1="201.45" y1="113.90" x2="201.45" y2="119.50" stroke="#5a5a5a" stroke-width="1.0"/>
<line x1="225.98" y1="113.90" x2="225.98" y2="119.50" stroke="#5a5a5a" stroke-width="1.0"/>
<line x1="250.50" y1="113.90" x2="250.50" y2="119.50" stroke="#5a5a5a" stroke-width="1.0"/>
<line x1="144.50" y1="110.70" x2="148.50" y2="110.70" stroke="#3a3a3a" stroke-width="1.0"/>
<line x1="144.50" y1="93.03" x2="148.50" y2="93.03" stroke="#3a3a3a" stroke-width="1.0"/>
<line x1="144.50" y1="75.36" x2="148.50" y2="75.36" stroke="#3a3a3a" stroke-width="1.0"/>
<line x1="144.50" y1="57.69" x2="148.50" y2="57.69" stroke="#3a3a3a" stroke-width="1.0"/>
<line x1="144.50" y1="40.02" x2="148.50" y2="40.02" stroke="#3a3a3a" stroke-width="1.0"/>
<line x1="144.50" y1="22.35" x2="148.50" y2="22.35" stroke="#3a3a3a" stroke-width="1.0"/>
<path d="M275.90,19.50H382.90M275.90,113.90H382.90" stroke="#3a3a3a" stroke-width="1.0"/>
<path d="M276.40,19.50V113.90M382.40,19.50V113.90" stroke="#5a5a5a" stroke-width="1.0"/>
<line x1="280.30" y1="113.90" x2="280.30" y2="119.50" stroke="#5a5a5a" stroke-width="1.0"/>
<line x1="304.82" y1="113.90" x2="304.82" y2="119.50" stroke="#5a5a5a" stroke-width="1.0"/>
<line x1="329.35" y1="113.90" x2="329.35" y2="119.50" stroke="#5a5a5a" stroke-width="1.0"/>
<line x1="353.87" y1="113.90" x2="353.87" y2="119.50" stroke="#5a5a5a" stroke-width="1.0"/>
<line x1="378.40" y1="113.90" x2="378.40" y2="119.50" stroke="#5a5a5a" stroke-width="1.0"/>
<line x1="272.40" y1="110.70" x2="276.40" y2="110.70" stroke="#3a3a3a" stroke-width="1.0"/>
<line x1="272.40" y1="93.03" x2="276.40" y2="93.03" stroke="#3a3a3a" stroke-width="1.0"/>
<line x1="272.40" y1="75.36" x2="276.40" y2="75.36" stroke="#3a3a3a" stroke-width="1.0"/>
<line x1="272.40" y1="57.69" x2="276.40" y2="57.69" stroke="#3a3a3a" stroke-width="1.0"/>
<line x1="272.40" y1="40.02" x2="276.40" y2="40.02" stroke="#3a3a3a" stroke-width="1.0"/>
<line x1="272.40" y1="22.35" x2="276.40" y2="22.35" stroke="#3a3a3a" stroke-width="1.0"/>
<path d="M20.00,157.43H127.00M20.00,251.83H127.00" stroke="#3a3a3a" stroke-width="1.0"/>
<path d="M20.50,157.43V251.83M126.50,157.43V251.83" stroke="#5a5a5a" stroke-width="1.0"/>
<line x1="24.40" y1="251.83" x2="24.40" y2="257.43" stroke="#5a5a5a" stroke-width="1.0"/>
<line x1="48.92" y1="251.83" x2="48.92" y2="257.43" stroke="#5a5a5a" stroke-width="1.0"/>
<line x1="73.45" y1="251.83" x2="73.45" y2="257.43" stroke="#5a5a5a" stroke-width="1.0"/>
<line x1="97.97" y1="251.83" x2="97.97" y2="257.43" stroke="#5a5a5a" stroke-width="1.0"/>
<line x1="122.50" y1="251.83" x2="122.50" y2="257.43" stroke="#5a5a5a" stroke-width="1.0"/>
<line x1="16.50" y1="248.63" x2="20.50" y2="248.63" stroke="#3a3a3a" stroke-width="1.0"/>
<line x1="16.50" y1="230.96" x2="20.50" y2="230.96" stroke="#3a3a3a" stroke-width="1.0"/>
<line x1="16.50" y1="213.29" x2="20.50" y2="213.29" stroke="#3a3a3a" stroke-width="1.0"/>
<line x1="16.50" y1="195.62" x2="20.50" y2="195.62" stroke="#3a3a3a" stroke-width="1.0"/>
<line x1="16.50" y1="177.95" x2="20.50" y2="177.95" stroke="#3a3a3a" stroke-width="1.0"/>
<line x1="16.50" y1="160.28" x2="20.50" y2="160.28" stroke="#3a3a3a" stroke-width="1.0"/>
<path d="M148.00,157.43H255.00M148.00,251.83H255.00" stroke="#3a3a3a" stroke-width="1.0"/>
<path d="M148.50,157.43V251.83M254.50,157.43V251.83" stroke="#5a5a5a" stroke-width="1.0"/>
<line x1="152.40" y1="251.83" x2="152.40" y2="257.43" stroke="#5a5a5a" stroke-width="1.0"/>
<line x1="176.93" y1="251.83" x2="176.93" y2="257.43" stroke="#5a5a5a" stroke-width="1.0"/>
<line x1="201.45" y1="251.83" x2="201.45" y2="257.43" stroke="#5a5a5a" stroke-width="1.0"/>
<line x1="225.98" y1="251.83" x2="225.98" y2="257.43" stroke="#5a5a5a" stroke-width="1.0"/>
<line x1="250.50" y1="251.83" x2="250.50" y2="257.43" stroke="#5a5a5a" stroke-width="1.0"/>
<line x1="144.50" y1="248.63" x2="148.50" y2="248.63" stroke="#3a3a3a" stroke-width="1.0"/>
<line x1="144.50" y1="230.96" x2="148.50" y2="230.96" stroke="#3a3a3a" stroke-width="1.0"/>
<line x1="144.50" y1="213.29" x2="148.50" y2="213.29" stroke="#3a3a3a" stroke-width="1.0"/>
<line x1="144.50" y1="195.62" x2="148.50" y2="195.62" stroke="#3a3a3a" stroke-width="1.0"/>
<line x1="144.50" y1="177.95" x2="148.50" y2="177.95" stroke="#3a3a3a" stroke-width="1.0"/>
<line x1="144.50" y1="160.28" x2="148.50" y2="160.28" stroke="#3a3a3a" stroke-width="1.0"/>
<path d="M275.90,157.43H382.90M275.90,251.83H382.90" stroke="#3a3a3a" stroke-width="1.0"/>
<path d="M276.40,157.43V251.83M382.40,157.43V251.83" stroke="#5a5a5a" stroke-width="1.0"/>
<line x1="280.30" y1="251.83" x2="280.30" y2="257.43" stroke="#5a5a5a" stroke-width="1.0"/>
<line x1="304.82" y1="251.83" x2="304.82" y2="257.43" stroke="#5a5a5a" stroke-width="1.0"/>
<line x1="329.35" y1="251.83" x2="329.35" y2="257.43" stroke="#5a5a5a" stroke-width="1.0"/>
<line x1="353.87" y1="251.83" x2="353.87" y2="257.43" stroke="#5a5a5a" stroke-width="1.0"/>
<line x1="378.40" y1="251.83" x2="378.40" y2="257.43" stroke="#5a5a5a" stroke-width="1.0"/>
<line x1="272.40" y1="248.63" x2="276.40" y2="248.63" stroke="#3a3a3a" stroke-width="1.0"/>
<line x1="272.40" y1="230.96" x2="276.40" y2="230.96" stroke="#3a3a3a" stroke-width="1.0"/>
<line x1="272.40" y1="213.29" x2="276.40" y2="213.29" stroke="#3a3a3a" stroke-width="1.0"/>
<line x1="272.40" y1="195.62" x2="276.40" y2="195.62" stroke="#3a3a3a" stroke-width="1.0"/>
<line x1="272.40" y1="177.95" x2="276.40" y2="177.95" stroke="#3a3a3a" stroke-width="1.0"/>
<line x1="272.40" y1="160.28" x2="276.40" y2="160.28" stroke="#3a3a3a" stroke-width="1.0"/>
<path d="M20.00,295.36H127.00M20.00,389.76H127.00" stroke="#3a3a3a" stroke-width="1.0"/>
<path d="M20.50,295.36V389.76M126.50,295.36V389.76" stroke="#5a5a5a" stroke-width="1.0"/>
<line x1="24.40" y1="389.76" x2="24.40" y2="395.36" stroke="#5a5a5a" stroke-width="1.0"/>
<line x1="48.92" y1="389.76" x2="48.92" y2="395.36" stroke="#5a5a5a" stroke-width="1.0"/>
<line x1="73.45" y1="389.76" x2="73.45" y2="395.36" stroke="#5a5a5a" stroke-width="1.0"/>
<line x1="97.97" y1="389.76" x2="97.97" y2="395.36" stroke="#5a5a5a" stroke-width="1.0"/>
<line x1="122.50" y1="389.76" x2="122.50" y2="395.36" stroke="#5a5a5a" stroke-width="1.0"/>
<line x1="16.50" y1="386.56" x2="20.50" y2="386.56" stroke="#3a3a3a" stroke-width="1.0"/>
<line x1="16.50" y1="368.89" x2="20.50" y2="368.89" stroke="#3a3a3a" stroke-width="1.0"/>
<line x1="16.50" y1="351.22" x2="20.50" y2="351.22" stroke="#3a3a3a" stroke-width="1.0"/>
<line x1="16.50" y1="333.55" x2="20.50" y2="333.55" stroke="#3a3a3a" stroke-width="1.0"/>
<line x1="16.50" y1="315.88" x2="20.50" y2="315.88" stroke="#3a3a3a" stroke-width="1.0"/>
<line x1="16.50" y1="298.21" x2="20.50" y2="298.21" stroke="#3a3a3a" stroke-width="1.0"/>
<path d="M148.00,295.36H255.00M148.00,389.76H255.00" stroke="#3a3a3a" stroke-width="1.0"/>
<path d="M148.50,295.36V389.76M254.50,295.36V389.76" stroke="#5a5a5a" stroke-width="1.0"/>
<line x1="152.40" y1="389.76" x2="152.40" y2="395.36" stroke="#5a5a5a" stroke-width="1.0"/>
<line x1="176.93" y1="389.76" x2="176.93" y2="395.36" stroke="#5a5a5a" stroke-width="1.0"/>
<line x1="201.45" y1="389.76" x2="201.45" y2="395.36" stroke="#5a5a5a" stroke-width="1.0"/>
<line x1="225.98" y1="389.76" x2="225.98" y2="395.36" stroke="#5a5a5a" stroke-width="1.0"/>
<line x1="250.50" y1="389.76" x2="250.50" y2="395.36" stroke="#5a5a5a" stroke-width="1.0"/>
<line x1="144.50" y1="386.56" x2="148.50" y2="386.56" stroke="#3a3a3a" stroke-width="1.0"/>
<line x1="144.50" y1="368.89" x2="148.50" y2="368.89" stroke="#3a3a3a" stroke-width="1.0"/>
<line x1="144.50" y1="351.22" x2="148.50" y2="351.22" stroke="#3a3a3a" stroke-width="1.0"/>
<line x1="144.50" y1="333.55" x2="148.50" y2="333.55" stroke="#3a3a3a" stroke-width="1.0"/>
<line x1="144.50" y1="315.88" x2="148.50" y2="315.88" stroke="#3a3a3a" stroke-width="1.0"/>
<line x1="144.50" y1="298.21" x2="148.50" y2="298.21" stroke="#3a3a3a" stroke-width="1.0"/>
<path d="M275.90,295.36H382.90M275.90,389.76H382.90" stroke="#3a3a3a" stroke-width="1.0"/>
<path d="M276.40,295.36V389.76M382.40,295.36V389.76" stroke="#5a5a5a" stroke-width="1.0"/>
<line x1="280.30" y1="389.76" x2="280.30" y2="395.36" stroke="#5a5a5a" stroke-width="1.0"/>
<line x1="304.82" y1="389.76" x2="304.82" y2="395.36" stroke="#5a5a5a" stroke-width="1.0"/>
<line x1="329.35" y1="389.76" x2="329.35" y2="395.36" stroke="#5a5a5a" stroke-width="1.0"/>
<line x1="353.87" y1="389.76" x2="353.87" y2="395.36" stroke="#5a5a5a" stroke-width="1.0"/>
<line x1="378.40" y1="389.76" x2="378.40" y2="395.36" stroke="#5a5a5a" stroke-width="1.0"/>
<line x1="272.40" y1="386.56" x2="276.40" y2="386.56" stroke="#3a3a3a" stroke-width="1.0"/>
<line x1="272.40" y1="368.89" x2="276.40" y2="368.89" stroke="#3a3a3a" stroke-width="1.0"/>
<line x1="272.40" y1="351.22" x2="276.40" y2="351.22" stroke="#3a3a3a" stroke-width="1.0"/>
<line x1="272.40" y1="333.55" x2="276.40" y2="333.55" stroke="#3a3a3a" stroke-width="1.0"/>
<line x1="272.40" y1="315.88" x2="276.40" y2="315.88" stroke="#3a3a3a" stroke-width="1.0"/>
<line x1="272.40" y1="298.21" x2="276.40" y2="298.21" stroke="#3a3a3a" stroke-width="1.0"/>
<path d="M20.00,433.29H127.00M20.00,527.69H127.00" stroke="#3a3a3a" stroke-width="1.0"/>
<path d="M20.50,433.29V527.69M126.50,433.29V527.69" stroke="#5a5a5a" stroke-width="1.0"/>
<line x1="24.40" y1="527.69" x2="24.40" y2="533.29" stroke="#5a5a5a" stroke-width="1.0"/>
<line x1="48.92" y1="527.69" x2="48.92" y2="533.29" stroke="#5a5a5a" stroke-width="1.0"/>
<line x1="73.45" y1="527.69" x2="73.45" y2="533.29" stroke="#5a5a5a" stroke-width="1.0"/>
<line x1="97.97" y1="527.69" x2="97.97" y2="533.29" stroke="#5a5a5a" stroke-width="1.0"/>
<line x1="122.50" y1="527.69" x2="122.50" y2="533.29" stroke="#5a5a5a" stroke-width="1.0"/>
<line x1="16.50" y1="524.49" x2="20.50" y2="524.49" stroke="#3a3a3a" stroke-width="1.0"/>
<line x1="16.50" y1="506.82" x2="20.50" y2="506.82" stroke="#3a3a3a" stroke-width="1.0"/>
<line x1="16.50" y1="489.15" x2="20.50" y2="489.15" stroke="#3a3a3a" stroke-width="1.0"/>
<line x1="16.50" y1="471.48" x2="20.50" y2="471.48" stroke="#3a3a3a" stroke-width="1.0"/>
<line x1="16.50" y1="453.81" x2="20.50" y2="453.81" stroke="#3a3a3a" stroke-width="1.0"/>
<line x1="16.50" y1="436.14" x2="20.50" y2="436.14" stroke="#3a3a3a" stroke-width="1.0"/>
<path d="M148.00,433.29H255.00M148.00,527.69H255.00" stroke="#3a3a3a" stroke-width="1.0"/>
<path d="M148.50,433.29V527.69M254.50,433.29V527.69" stroke="#5a5a5a" stroke-width="1.0"/>
<line x1="152.40" y1="527.69" x2="152.40" y2="533.29" stroke="#5a5a5a" stroke-width="1.0"/>
<line x1="176.93" y1="527.69" x2="176.93" y2="533.29" stroke="#5a5a5a" stroke-width="1.0"/>
<line x1="201.45" y1="527.69" x2="201.45" y2="533.29" stroke="#5a5a5a" stroke-width="1.0"/>
<line x1="225.98" y1="527.69" x2="225.98" y2="533.29" stroke="#5a5a5a" stroke-width="1.0"/>
<line x1="250.50" y1="527.69" x2="250.50" y2="533.29" stroke="#5a5a5a" stroke-width="1.0"/>
<line x1="144.50" y1="524.49" x2="148.50" y2="524.49" stroke="#3a3a3a" stroke-width="1.0"/>
<line x1="144.50" y1="506.82" x2="148.50" y2="506.82" stroke="#3a3a3a" stroke-width="1.0"/>
<line x1="144.50" y1="489.15" x2="148.50" y2="489.15" stroke="#3a3a3a" stroke-width="1.0"/>
<line x1="144.50" y1="471.48" x2="148.50" y2="471.48" stroke="#3a3a3a" stroke-width="1.0"/>
<line x1="144.50" y1="453.81" x2="148.50" y2="453.81" stroke="#3a3a3a" stroke-width="1.0"/>
<line x1="144.50" y1="436.14" x2="148.50" y2="436.14" stroke="#3a3a3a" stroke-width="1.0"/>
</g>
<g filter="url(#bt)">
<text transform="translate(24.40,133.10) scale(0.78,1)" font-size="8.0" text-anchor="middle">0</text>
<text transform="translate(48.92,133.10) scale(0.78,1)" font-size="8.0" text-anchor="middle">5</text>
<text transform="translate(73.45,133.10) scale(0.78,1)" font-size="8.0" text-anchor="middle">10</text>
<text transform="translate(97.97,133.10) scale(0.78,1)" font-size="8.0" text-anchor="middle">15</text>
<text transform="translate(122.50,133.10) scale(0.78,1)" font-size="8.0" text-anchor="middle">20</text>
<text transform="translate(13.20,113.55) scale(0.78,1)" font-size="8.0" text-anchor="end">0.00</text>
<text transform="translate(13.20,97.93) scale(0.78,1)" font-size="8.0" text-anchor="end">0.02</text>
<text transform="translate(13.20,82.31) scale(0.78,1)" font-size="8.0" text-anchor="end">0.04</text>
<text transform="translate(13.20,66.69) scale(0.78,1)" font-size="8.0" text-anchor="end">0.06</text>
<text transform="translate(13.20,51.07) scale(0.78,1)" font-size="8.0" text-anchor="end">0.08</text>
<text transform="translate(13.20,35.45) scale(0.78,1)" font-size="8.0" text-anchor="end">0.10</text>
<text transform="translate(73.50,11.30) scale(0.75,1)" font-size="10.1" font-weight="bold" text-anchor="middle">Density of Gamma(4,2)</text>
<text transform="translate(152.40,133.10) scale(0.78,1)" font-size="8.0" text-anchor="middle">0</text>
<text transform="translate(176.93,133.10) scale(0.78,1)" font-size="8.0" text-anchor="middle">5</text>
<text transform="translate(201.45,133.10) scale(0.78,1)" font-size="8.0" text-anchor="middle">10</text>
<text transform="translate(225.98,133.10) scale(0.78,1)" font-size="8.0" text-anchor="middle">15</text>
<text transform="translate(250.50,133.10) scale(0.78,1)" font-size="8.0" text-anchor="middle">20</text>
<text transform="translate(141.20,113.55) scale(0.78,1)" font-size="8.0" text-anchor="end">0.0</text>
<text transform="translate(141.20,95.88) scale(0.78,1)" font-size="8.0" text-anchor="end">0.2</text>
<text transform="translate(141.20,78.21) scale(0.78,1)" font-size="8.0" text-anchor="end">0.4</text>
<text transform="translate(141.20,60.54) scale(0.78,1)" font-size="8.0" text-anchor="end">0.6</text>
<text transform="translate(141.20,42.87) scale(0.78,1)" font-size="8.0" text-anchor="end">0.8</text>
<text transform="translate(141.20,25.20) scale(0.78,1)" font-size="8.0" text-anchor="end">1.0</text>
<text transform="translate(201.50,11.30) scale(0.75,1)" font-size="10.1" font-weight="bold" text-anchor="middle">Gam</text>
<text transform="translate(280.30,133.10) scale(0.78,1)" font-size="8.0" text-anchor="middle">0</text>
<text transform="translate(304.82,133.10) scale(0.78,1)" font-size="8.0" text-anchor="middle">5</text>
<text transform="translate(329.35,133.10) scale(0.78,1)" font-size="8.0" text-anchor="middle">10</text>
<text transform="translate(353.87,133.10) scale(0.78,1)" font-size="8.0" text-anchor="middle">15</text>
<text transform="translate(378.40,133.10) scale(0.78,1)" font-size="8.0" text-anchor="middle">20</text>
<text transform="translate(269.10,113.55) scale(0.78,1)" font-size="8.0" text-anchor="end">0.0</text>
<text transform="translate(269.10,95.88) scale(0.78,1)" font-size="8.0" text-anchor="end">0.2</text>
<text transform="translate(269.10,78.21) scale(0.78,1)" font-size="8.0" text-anchor="end">0.4</text>
<text transform="translate(269.10,60.54) scale(0.78,1)" font-size="8.0" text-anchor="end">0.6</text>
<text transform="translate(269.10,42.87) scale(0.78,1)" font-size="8.0" text-anchor="end">0.8</text>
<text transform="translate(269.10,25.20) scale(0.78,1)" font-size="8.0" text-anchor="end">1.0</text>
<text transform="translate(329.40,11.30) scale(0.75,1)" font-size="10.1" font-weight="bold" text-anchor="middle">IGam</text>
<text transform="translate(24.40,271.03) scale(0.78,1)" font-size="8.0" text-anchor="middle">0</text>
<text transform="translate(48.92,271.03) scale(0.78,1)" font-size="8.0" text-anchor="middle">5</text>
<text transform="translate(73.45,271.03) scale(0.78,1)" font-size="8.0" text-anchor="middle">10</text>
<text transform="translate(97.97,271.03) scale(0.78,1)" font-size="8.0" text-anchor="middle">15</text>
<text transform="translate(122.50,271.03) scale(0.78,1)" font-size="8.0" text-anchor="middle">20</text>
<text transform="translate(13.20,251.48) scale(0.78,1)" font-size="8.0" text-anchor="end">0.0</text>
<text transform="translate(13.20,233.81) scale(0.78,1)" font-size="8.0" text-anchor="end">0.2</text>
<text transform="translate(13.20,216.14) scale(0.78,1)" font-size="8.0" text-anchor="end">0.4</text>
<text transform="translate(13.20,198.47) scale(0.78,1)" font-size="8.0" text-anchor="end">0.6</text>
<text transform="translate(13.20,180.80) scale(0.78,1)" font-size="8.0" text-anchor="end">0.8</text>
<text transform="translate(13.20,163.13) scale(0.78,1)" font-size="8.0" text-anchor="end">1.0</text>
<text transform="translate(73.50,149.23) scale(0.75,1)" font-size="10.1" font-weight="bold" text-anchor="middle">LN</text>
<text transform="translate(152.40,271.03) scale(0.78,1)" font-size="8.0" text-anchor="middle">0</text>
<text transform="translate(176.93,271.03) scale(0.78,1)" font-size="8.0" text-anchor="middle">5</text>
<text transform="translate(201.45,271.03) scale(0.78,1)" font-size="8.0" text-anchor="middle">10</text>
<text transform="translate(225.98,271.03) scale(0.78,1)" font-size="8.0" text-anchor="middle">15</text>
<text transform="translate(250.50,271.03) scale(0.78,1)" font-size="8.0" text-anchor="middle">20</text>
<text transform="translate(141.20,251.48) scale(0.78,1)" font-size="8.0" text-anchor="end">0.0</text>
<text transform="translate(141.20,233.81) scale(0.78,1)" font-size="8.0" text-anchor="end">0.2</text>
<text transform="translate(141.20,216.14) scale(0.78,1)" font-size="8.0" text-anchor="end">0.4</text>
<text transform="translate(141.20,198.47) scale(0.78,1)" font-size="8.0" text-anchor="end">0.6</text>
<text transform="translate(141.20,180.80) scale(0.78,1)" font-size="8.0" text-anchor="end">0.8</text>
<text transform="translate(141.20,163.13) scale(0.78,1)" font-size="8.0" text-anchor="end">1.0</text>
<text transform="translate(201.50,149.23) scale(0.75,1)" font-size="10.1" font-weight="bold" text-anchor="middle">IGau</text>
<text transform="translate(280.30,271.03) scale(0.78,1)" font-size="8.0" text-anchor="middle">0</text>
<text transform="translate(304.82,271.03) scale(0.78,1)" font-size="8.0" text-anchor="middle">5</text>
<text transform="translate(329.35,271.03) scale(0.78,1)" font-size="8.0" text-anchor="middle">10</text>
<text transform="translate(353.87,271.03) scale(0.78,1)" font-size="8.0" text-anchor="middle">15</text>
<text transform="translate(378.40,271.03) scale(0.78,1)" font-size="8.0" text-anchor="middle">20</text>
<text transform="translate(269.10,251.48) scale(0.78,1)" font-size="8.0" text-anchor="end">0.0</text>
<text transform="translate(269.10,233.81) scale(0.78,1)" font-size="8.0" text-anchor="end">0.2</text>
<text transform="translate(269.10,216.14) scale(0.78,1)" font-size="8.0" text-anchor="end">0.4</text>
<text transform="translate(269.10,198.47) scale(0.78,1)" font-size="8.0" text-anchor="end">0.6</text>
<text transform="translate(269.10,180.80) scale(0.78,1)" font-size="8.0" text-anchor="end">0.8</text>
<text transform="translate(269.10,163.13) scale(0.78,1)" font-size="8.0" text-anchor="end">1.0</text>
<text transform="translate(329.40,149.23) scale(0.75,1)" font-size="10.1" font-weight="bold" text-anchor="middle">RIG</text>
<text transform="translate(24.40,408.96) scale(0.78,1)" font-size="8.0" text-anchor="middle">0</text>
<text transform="translate(48.92,408.96) scale(0.78,1)" font-size="8.0" text-anchor="middle">5</text>
<text transform="translate(73.45,408.96) scale(0.78,1)" font-size="8.0" text-anchor="middle">10</text>
<text transform="translate(97.97,408.96) scale(0.78,1)" font-size="8.0" text-anchor="middle">15</text>
<text transform="translate(122.50,408.96) scale(0.78,1)" font-size="8.0" text-anchor="middle">20</text>
<text transform="translate(13.20,389.41) scale(0.78,1)" font-size="8.0" text-anchor="end">0.0</text>
<text transform="translate(13.20,371.74) scale(0.78,1)" font-size="8.0" text-anchor="end">0.2</text>
<text transform="translate(13.20,354.07) scale(0.78,1)" font-size="8.0" text-anchor="end">0.4</text>
<text transform="translate(13.20,336.40) scale(0.78,1)" font-size="8.0" text-anchor="end">0.6</text>
<text transform="translate(13.20,318.73) scale(0.78,1)" font-size="8.0" text-anchor="end">0.8</text>
<text transform="translate(13.20,301.06) scale(0.78,1)" font-size="8.0" text-anchor="end">1.0</text>
<text transform="translate(73.50,287.16) scale(0.75,1)" font-size="10.1" font-weight="bold" text-anchor="middle">B−S</text>
<text transform="translate(152.40,408.96) scale(0.78,1)" font-size="8.0" text-anchor="middle">0</text>
<text transform="translate(176.93,408.96) scale(0.78,1)" font-size="8.0" text-anchor="middle">5</text>
<text transform="translate(201.45,408.96) scale(0.78,1)" font-size="8.0" text-anchor="middle">10</text>
<text transform="translate(225.98,408.96) scale(0.78,1)" font-size="8.0" text-anchor="middle">15</text>
<text transform="translate(250.50,408.96) scale(0.78,1)" font-size="8.0" text-anchor="middle">20</text>
<text transform="translate(141.20,389.41) scale(0.78,1)" font-size="8.0" text-anchor="end">0.0</text>
<text transform="translate(141.20,371.74) scale(0.78,1)" font-size="8.0" text-anchor="end">0.2</text>
<text transform="translate(141.20,354.07) scale(0.78,1)" font-size="8.0" text-anchor="end">0.4</text>
<text transform="translate(141.20,336.40) scale(0.78,1)" font-size="8.0" text-anchor="end">0.6</text>
<text transform="translate(141.20,318.73) scale(0.78,1)" font-size="8.0" text-anchor="end">0.8</text>
<text transform="translate(141.20,301.06) scale(0.78,1)" font-size="8.0" text-anchor="end">1.0</text>
<text transform="translate(201.50,287.16) scale(0.75,1)" font-size="10.1" font-weight="bold" text-anchor="middle">W</text>
<text transform="translate(280.30,408.96) scale(0.78,1)" font-size="8.0" text-anchor="middle">0</text>
<text transform="translate(304.82,408.96) scale(0.78,1)" font-size="8.0" text-anchor="middle">5</text>
<text transform="translate(329.35,408.96) scale(0.78,1)" font-size="8.0" text-anchor="middle">10</text>
<text transform="translate(353.87,408.96) scale(0.78,1)" font-size="8.0" text-anchor="middle">15</text>
<text transform="translate(378.40,408.96) scale(0.78,1)" font-size="8.0" text-anchor="middle">20</text>
<text transform="translate(269.10,389.41) scale(0.78,1)" font-size="8.0" text-anchor="end">0.0</text>
<text transform="translate(269.10,371.74) scale(0.78,1)" font-size="8.0" text-anchor="end">0.2</text>
<text transform="translate(269.10,354.07) scale(0.78,1)" font-size="8.0" text-anchor="end">0.4</text>
<text transform="translate(269.10,336.40) scale(0.78,1)" font-size="8.0" text-anchor="end">0.6</text>
<text transform="translate(269.10,318.73) scale(0.78,1)" font-size="8.0" text-anchor="end">0.8</text>
<text transform="translate(269.10,301.06) scale(0.78,1)" font-size="8.0" text-anchor="end">1.0</text>
<text transform="translate(329.40,287.16) scale(0.75,1)" font-size="10.1" font-weight="bold" text-anchor="middle">OK</text>
<text transform="translate(24.40,546.89) scale(0.78,1)" font-size="8.0" text-anchor="middle">0</text>
<text transform="translate(48.92,546.89) scale(0.78,1)" font-size="8.0" text-anchor="middle">5</text>
<text transform="translate(73.45,546.89) scale(0.78,1)" font-size="8.0" text-anchor="middle">10</text>
<text transform="translate(97.97,546.89) scale(0.78,1)" font-size="8.0" text-anchor="middle">15</text>
<text transform="translate(122.50,546.89) scale(0.78,1)" font-size="8.0" text-anchor="middle">20</text>
<text transform="translate(13.20,527.34) scale(0.78,1)" font-size="8.0" text-anchor="end">0.0</text>
<text transform="translate(13.20,509.67) scale(0.78,1)" font-size="8.0" text-anchor="end">0.2</text>
<text transform="translate(13.20,492.00) scale(0.78,1)" font-size="8.0" text-anchor="end">0.4</text>
<text transform="translate(13.20,474.33) scale(0.78,1)" font-size="8.0" text-anchor="end">0.6</text>
<text transform="translate(13.20,456.66) scale(0.78,1)" font-size="8.0" text-anchor="end">0.8</text>
<text transform="translate(13.20,438.99) scale(0.78,1)" font-size="8.0" text-anchor="end">1.0</text>
<text transform="translate(73.50,425.09) scale(0.75,1)" font-size="10.1" font-weight="bold" text-anchor="middle">BK</text>
<text transform="translate(152.40,546.89) scale(0.78,1)" font-size="8.0" text-anchor="middle">0</text>
<text transform="translate(176.93,546.89) scale(0.78,1)" font-size="8.0" text-anchor="middle">5</text>
<text transform="translate(201.45,546.89) scale(0.78,1)" font-size="8.0" text-anchor="middle">10</text>
<text transform="translate(225.98,546.89) scale(0.78,1)" font-size="8.0" text-anchor="middle">15</text>
<text transform="translate(250.50,546.89) scale(0.78,1)" font-size="8.0" text-anchor="middle">20</text>
<text transform="translate(141.20,527.34) scale(0.78,1)" font-size="8.0" text-anchor="end">0.0</text>
<text transform="translate(141.20,509.67) scale(0.78,1)" font-size="8.0" text-anchor="end">0.2</text>
<text transform="translate(141.20,492.00) scale(0.78,1)" font-size="8.0" text-anchor="end">0.4</text>
<text transform="translate(141.20,474.33) scale(0.78,1)" font-size="8.0" text-anchor="end">0.6</text>
<text transform="translate(141.20,456.66) scale(0.78,1)" font-size="8.0" text-anchor="end">0.8</text>
<text transform="translate(141.20,438.99) scale(0.78,1)" font-size="8.0" text-anchor="end">1.0</text>
<text transform="translate(201.50,425.09) scale(0.75,1)" font-size="10.1" font-weight="bold" text-anchor="middle">EDF</text>
</g>
<rect x="0" y="0" width="4.3" height="130" fill="#fff"/>
</svg>
</body></html>
